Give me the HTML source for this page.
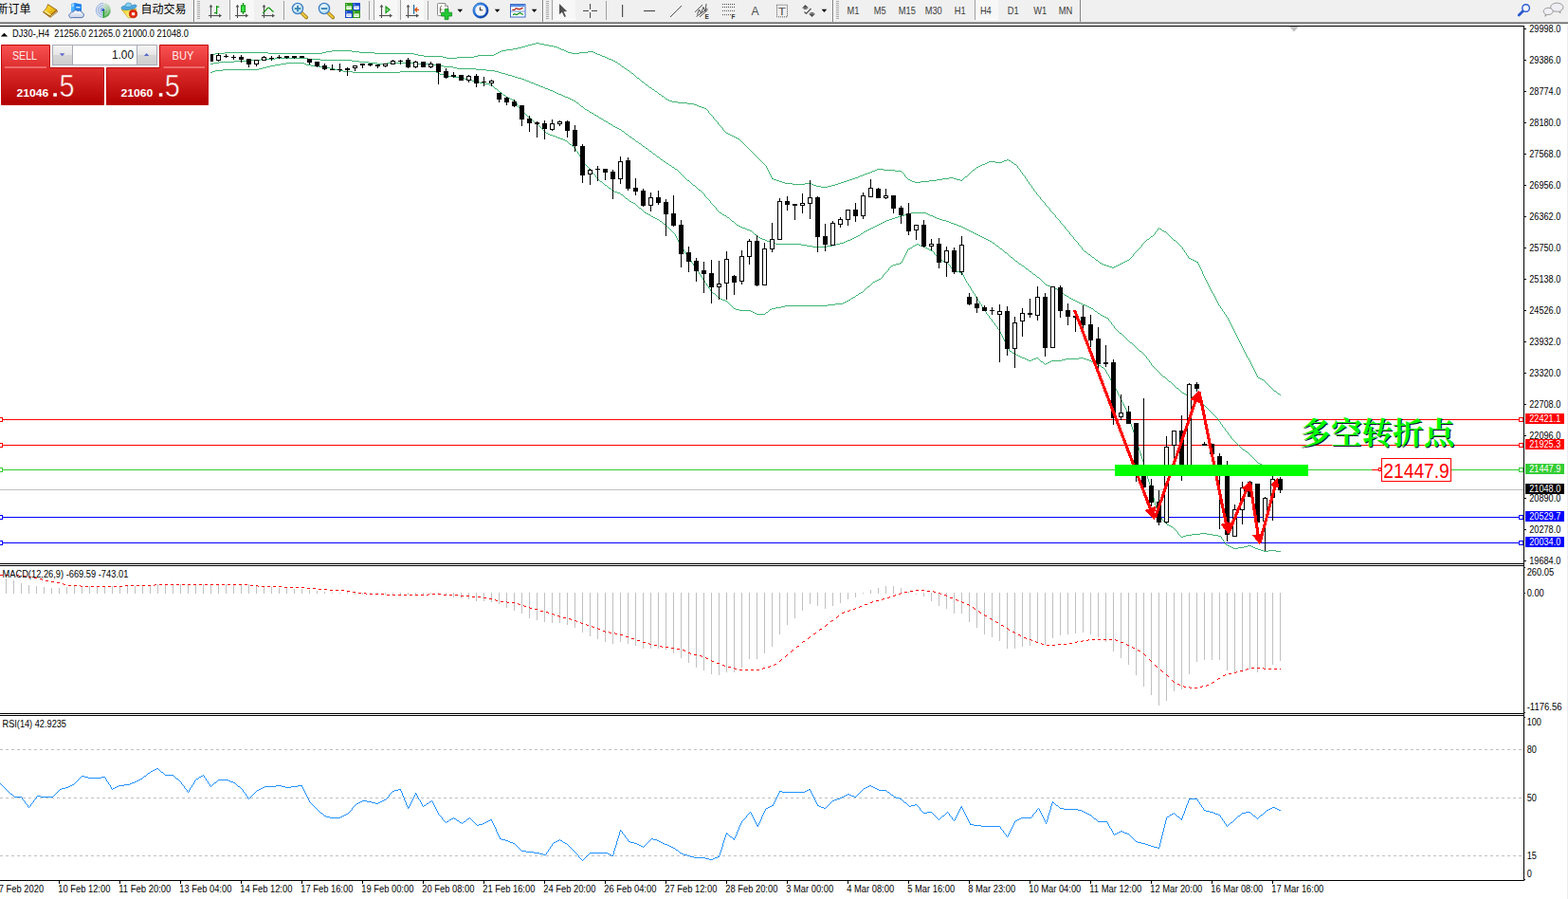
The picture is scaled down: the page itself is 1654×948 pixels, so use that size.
<!DOCTYPE html>
<html><head><meta charset="utf-8"><title>DJ30-,H4</title>
<style>
html,body{margin:0;padding:0;background:#fff;}
body{width:1654px;height:948px;overflow:hidden;position:relative;font-family:"Liberation Sans", sans-serif;}
svg{position:absolute;left:0;top:0;display:block}
svg text{font-family:"Liberation Sans", sans-serif;}
.ax{font-size:10.5px;fill:#000}
.axw{font-size:10.5px;fill:#fff}
.tf{font-size:10.2px;fill:#3c3c3c}
</style></head>
<body>

<svg width="1654" height="948" viewBox="0 0 1654 948">
<defs>
<linearGradient id="gr" gradientUnits="userSpaceOnUse" x1="0" y1="47" x2="0" y2="111"><stop offset="0" stop-color="#fa5252"/><stop offset="0.45" stop-color="#d92828"/><stop offset="1" stop-color="#b00000"/></linearGradient>
<linearGradient id="gbtn" x1="0" y1="0" x2="0" y2="1"><stop offset="0" stop-color="#f4f4f4"/><stop offset="0.48" stop-color="#e6e6e6"/><stop offset="0.52" stop-color="#d6d6d6"/><stop offset="1" stop-color="#cecece"/></linearGradient>
<pattern id="chk" width="2" height="2" patternUnits="userSpaceOnUse"><rect width="2" height="2" fill="#ffffff"/><rect width="1" height="1" fill="#f0f0f0"/><rect x="1" y="1" width="1" height="1" fill="#f0f0f0"/></pattern>
<radialGradient id="lens" cx="0.4" cy="0.35" r="0.7"><stop offset="0" stop-color="#f4fcff"/><stop offset="1" stop-color="#a8d8f0"/></radialGradient>
<linearGradient id="gold" x1="0" y1="0" x2="1" y2="1"><stop offset="0" stop-color="#ffe04a"/><stop offset="0.5" stop-color="#f2c21c"/><stop offset="1" stop-color="#c89214"/></linearGradient>
<linearGradient id="clk" x1="0" y1="0" x2="1" y2="1"><stop offset="0" stop-color="#5aaaf4"/><stop offset="0.5" stop-color="#1a68dc"/><stop offset="1" stop-color="#0a3c9c"/></linearGradient>
<linearGradient id="rad" x1="0" y1="0" x2="0.3" y2="1"><stop offset="0" stop-color="#c9dfcc" stop-opacity="0.7"/><stop offset="0.5" stop-color="#8cc48c" stop-opacity="0.8"/><stop offset="1" stop-color="#3aa63a" stop-opacity="0.95"/></linearGradient>
<linearGradient id="cld" x1="0" y1="0" x2="0" y2="1"><stop offset="0" stop-color="#ffffff"/><stop offset="1" stop-color="#c4d0e6"/></linearGradient>
<linearGradient id="ylw" x1="0" y1="0" x2="0.6" y2="1"><stop offset="0" stop-color="#f4cc28"/><stop offset="1" stop-color="#fff88c"/></linearGradient>
<clipPath id="cpMain"><rect x="0" y="28" width="1607" height="566"/></clipPath>
<clipPath id="cpChart"><rect x="222" y="28" width="1385" height="566"/></clipPath>
</defs>
<rect x="0" y="0" width="1654" height="948" fill="#fff"/>
<rect x="1653" y="25" width="1" height="923" fill="#ececf0"/>
<g id="toolbar">
<rect x="0" y="0" width="1654" height="23" fill="#f0f0f0"/>
<rect x="0" y="23" width="1654" height="1" fill="#a0a0a0"/>
<rect x="0" y="24" width="1654" height="1" fill="#696969"/>
<rect x="0" y="25" width="1654" height="2" fill="#ffffff"/>
<rect x="243" y="0" width="25" height="21" fill="url(#chk)" shape-rendering="crispEdges"/>
<rect x="242" y="0" width="1" height="21" fill="#a0a0a0"/>
<rect x="243" y="20" width="25" height="1" fill="#ffffff"/>
<rect x="395" y="0" width="24" height="21" fill="url(#chk)" shape-rendering="crispEdges"/>
<rect x="394" y="0" width="1" height="21" fill="#a0a0a0"/>
<rect x="395" y="20" width="24" height="1" fill="#ffffff"/>
<rect x="423" y="0" width="24" height="21" fill="url(#chk)" shape-rendering="crispEdges"/>
<rect x="422" y="0" width="1" height="21" fill="#a0a0a0"/>
<rect x="423" y="20" width="24" height="1" fill="#ffffff"/>
<rect x="583" y="0" width="24" height="21" fill="url(#chk)" shape-rendering="crispEdges"/>
<rect x="582" y="0" width="1" height="21" fill="#a0a0a0"/>
<rect x="583" y="20" width="24" height="1" fill="#ffffff"/>
<rect x="1029" y="0" width="24" height="21" fill="url(#chk)" shape-rendering="crispEdges"/>
<rect x="1028" y="0" width="1" height="21" fill="#a0a0a0"/>
<rect x="1029" y="20" width="24" height="1" fill="#ffffff"/>
<rect x="204" y="0" width="1" height="23" fill="#808080"/>
<rect x="205" y="0" width="1" height="23" fill="#ffffff"/>
<rect x="208" y="1" width="3" height="1" fill="#a8a8a8"/>
<rect x="208" y="3" width="3" height="1" fill="#a8a8a8"/>
<rect x="208" y="5" width="3" height="1" fill="#a8a8a8"/>
<rect x="208" y="7" width="3" height="1" fill="#a8a8a8"/>
<rect x="208" y="9" width="3" height="1" fill="#a8a8a8"/>
<rect x="208" y="11" width="3" height="1" fill="#a8a8a8"/>
<rect x="208" y="13" width="3" height="1" fill="#a8a8a8"/>
<rect x="208" y="15" width="3" height="1" fill="#a8a8a8"/>
<rect x="208" y="17" width="3" height="1" fill="#a8a8a8"/>
<rect x="208" y="19" width="3" height="1" fill="#a8a8a8"/>
<rect x="572" y="0" width="1" height="23" fill="#808080"/>
<rect x="573" y="0" width="1" height="23" fill="#ffffff"/>
<rect x="576" y="1" width="3" height="1" fill="#a8a8a8"/>
<rect x="576" y="3" width="3" height="1" fill="#a8a8a8"/>
<rect x="576" y="5" width="3" height="1" fill="#a8a8a8"/>
<rect x="576" y="7" width="3" height="1" fill="#a8a8a8"/>
<rect x="576" y="9" width="3" height="1" fill="#a8a8a8"/>
<rect x="576" y="11" width="3" height="1" fill="#a8a8a8"/>
<rect x="576" y="13" width="3" height="1" fill="#a8a8a8"/>
<rect x="576" y="15" width="3" height="1" fill="#a8a8a8"/>
<rect x="576" y="17" width="3" height="1" fill="#a8a8a8"/>
<rect x="576" y="19" width="3" height="1" fill="#a8a8a8"/>
<rect x="878" y="0" width="1" height="23" fill="#808080"/>
<rect x="879" y="0" width="1" height="23" fill="#ffffff"/>
<rect x="882" y="1" width="3" height="1" fill="#a8a8a8"/>
<rect x="882" y="3" width="3" height="1" fill="#a8a8a8"/>
<rect x="882" y="5" width="3" height="1" fill="#a8a8a8"/>
<rect x="882" y="7" width="3" height="1" fill="#a8a8a8"/>
<rect x="882" y="9" width="3" height="1" fill="#a8a8a8"/>
<rect x="882" y="11" width="3" height="1" fill="#a8a8a8"/>
<rect x="882" y="13" width="3" height="1" fill="#a8a8a8"/>
<rect x="882" y="15" width="3" height="1" fill="#a8a8a8"/>
<rect x="882" y="17" width="3" height="1" fill="#a8a8a8"/>
<rect x="882" y="19" width="3" height="1" fill="#a8a8a8"/>
<rect x="1139" y="0" width="1" height="23" fill="#808080"/>
<rect x="1140" y="0" width="1" height="23" fill="#ffffff"/>
<rect x="299" y="1" width="1" height="20" fill="#a0a0a0"/>
<rect x="389" y="1" width="1" height="20" fill="#a0a0a0"/>
<rect x="451" y="1" width="1" height="20" fill="#a0a0a0"/>
<rect x="639" y="1" width="1" height="20" fill="#a0a0a0"/>
<text x="-3.6" y="13.9" font-size="12" fill="#000" style="font-family:'Liberation Sans','Noto Sans CJK SC',sans-serif">新订单</text>
<text x="148.4" y="13.9" font-size="12" fill="#000" style="font-family:'Liberation Sans','Noto Sans CJK SC',sans-serif">自动交易</text>
<g><path d="M50.4,4.1 L60,10.3 L61,12.5 L53.1,18.8 L44.9,12.8 Q48.6,10 50.4,4.1 Z" fill="#96620e"/><path d="M50.8,5.2 L59.3,10.7 L52.7,16.1 L46.2,12.1 Q49.2,9.6 50.8,5.2 Z" fill="url(#gold)"/><path d="M46.3,12.4 L52.7,16.5 L54,15.4 L47.5,11.1 Z" fill="#fdeC90" opacity="0.9"/><path d="M53.2,17.5 L60.2,12" stroke="#f0e2b4" stroke-width="0.8" fill="none"/></g>
<g><polygon points="75,4.6 78.6,3 86,4.4 86,12 75,12" fill="#1f84f0"/><polygon points="75,4.6 78.6,3 78.6,12 75,12" fill="#4fb4ff"/><polygon points="75.6,4.9 78,3.9 78,6.5 75.6,7.5" fill="#bfe6ff" opacity="0.8"/><rect x="80.2" y="7" width="4.4" height="1.4" fill="#cfeaff"/><path d="M76.3,18.6 h9.6 a2.7,2.7 0 0 0 0.6,-5.3 a3,3 0 0 0 -4.6,-1.5 a2.6,2.6 0 0 0 -4.6,0.9 a2.6,2.6 0 0 0 -3.2,1.6 a2.3,2.3 0 0 0 2.2,4.3 z" fill="url(#cld)" stroke="#4666ae" stroke-width="0.9"/></g>
<g fill="none"><circle cx="108.9" cy="10.9" r="7.9" fill="#e4eaf3" stroke="none"/><path d="M108.9,3 A7.9,7.9 0 0 1 108.9,18.8 Z" fill="url(#rad)" stroke="none"/><g stroke="#5a84d6" opacity="0.6"><path d="M108.9,3.4 A7.5,7.5 0 0 0 108.9,18.4" stroke-width="1"/><path d="M108.9,5.7 A5.2,5.2 0 0 0 108.9,16.1" stroke-width="1.1"/><path d="M108.9,8 A2.9,2.9 0 0 0 108.9,13.8" stroke-width="1.1"/></g><g stroke="#f2f8f2" opacity="0.5"><path d="M108.9,3.4 A7.5,7.5 0 0 1 116.4,10.9" stroke-width="0.8"/><path d="M108.9,5.7 A5.2,5.2 0 0 1 114.1,10.9 A5.2,5.2 0 0 1 110,16" stroke-width="0.9"/><path d="M108.9,8 A2.9,2.9 0 0 1 111.8,10.9" stroke-width="0.9"/></g><circle cx="108.7" cy="10.5" r="1.6" fill="#2a58c8"/><rect x="108.7" y="11.2" width="1.3" height="7.5" fill="#18a018"/></g>
<g><path d="M128.3,10 L143.8,9.5 L142,14 L138.2,18.8 L135.3,18.8 Z" fill="url(#ylw)" stroke="#c89a10" stroke-width="0.7"/><path d="M128,8.6 C128,6.4 131,5.8 133,6.4 C136,7.6 139,6.2 141,5.2 C143,4.4 144.4,5.4 144,6.8 C143.4,8.6 139,10.2 134,10.4 C130.5,10.5 128,10 128,8.6 Z" fill="#4fa8e0" stroke="#2a86b6" stroke-width="0.7"/><path d="M132,7 C131.6,4.5 133.4,3 135.6,3 C137.8,3 139.4,4.2 139,6.2 C137.5,7.8 134,8 132,7 Z" fill="#86ccf2" stroke="#2a86b6" stroke-width="0.6"/><circle cx="140.5" cy="14.7" r="4.1" fill="#e42408" stroke="#b41800" stroke-width="0.7"/><rect x="138.9" y="13.2" width="3.3" height="3" fill="#fff"/></g>
<g stroke="#505050" stroke-width="1.1" fill="#505050"><line x1="222.5" y1="6" x2="222.5" y2="19"/><line x1="220.0" y1="16.5" x2="232.0" y2="16.5"/><polygon points="222.5,4.8 220.6,7.6 224.4,7.6" stroke="none"/><polygon points="234.0,16.5 231.0,14.6 231.0,18.4" stroke="none"/></g>
<g stroke="#0a960a" stroke-width="1.2" fill="none"><line x1="228.6" y1="6" x2="228.6" y2="15"/><line x1="228.6" y1="7.2" x2="231.2" y2="7.2"/><line x1="226" y1="13.6" x2="228.6" y2="13.6"/></g>
<g stroke="#505050" stroke-width="1.1" fill="#505050"><line x1="250.5" y1="6" x2="250.5" y2="19"/><line x1="248.0" y1="16.5" x2="260.0" y2="16.5"/><polygon points="250.5,4.8 248.6,7.6 252.4,7.6" stroke="none"/><polygon points="262.0,16.5 259.0,14.6 259.0,18.4" stroke="none"/></g>
<g><line x1="256.5" y1="3" x2="256.5" y2="15" stroke="#0a8a0a" stroke-width="1.2"/><rect x="254.4" y="5.8" width="4.2" height="6.8" fill="#38e048" stroke="#0a8a0a" stroke-width="0.9"/></g>
<g stroke="#505050" stroke-width="1.1" fill="#505050"><line x1="278.5" y1="6" x2="278.5" y2="19"/><line x1="276.0" y1="16.5" x2="288.0" y2="16.5"/><polygon points="278.5,4.8 276.6,7.6 280.4,7.6" stroke="none"/><polygon points="290.0,16.5 287.0,14.6 287.0,18.4" stroke="none"/></g>
<path d="M277.2,13.8 C280,12 281.5,8.2 283.3,8.2 C285,8.2 286.4,11.6 288.6,12.4" fill="none" stroke="#0a960a" stroke-width="1.3"/>
<g><line x1="317.8" y1="13.2" x2="323.2" y2="18.4" stroke="#9a7410" stroke-width="3.6" stroke-linecap="round"/><line x1="317.8" y1="13.2" x2="323.0" y2="18.2" stroke="#ecc83c" stroke-width="2.2" stroke-linecap="round"/><circle cx="314.0" cy="9" r="5.6" fill="url(#lens)" stroke="#3a7cc4" stroke-width="1.3"/><rect x="310.8" y="8.1" width="6.4" height="1.9" fill="#3a86b4"/>
<rect x="313.1" y="5.8" width="1.9" height="6.4" fill="#3a86b4"/>
</g>
<g><line x1="345.8" y1="13.2" x2="351.2" y2="18.4" stroke="#9a7410" stroke-width="3.6" stroke-linecap="round"/><line x1="345.8" y1="13.2" x2="351.0" y2="18.2" stroke="#ecc83c" stroke-width="2.2" stroke-linecap="round"/><circle cx="342.0" cy="9" r="5.6" fill="url(#lens)" stroke="#3a7cc4" stroke-width="1.3"/><rect x="338.8" y="8.1" width="6.4" height="1.9" fill="#3a86b4"/>
</g>
<rect x="364" y="3" width="8" height="8" fill="#2e9e1a"/><rect x="365.3" y="6.4" width="5.4" height="3.6" fill="#fff"/><rect x="366.3" y="7.6" width="3.4" height="0.9" fill="#8fd47a"/><rect x="365.2" y="4.2" width="1" height="1" fill="#fff" opacity="0.8"/>
<rect x="372" y="3" width="8" height="8" fill="#1a4ccc"/><rect x="373.3" y="6.4" width="5.4" height="3.6" fill="#fff"/><rect x="374.3" y="7.6" width="3.4" height="0.9" fill="#8aa8f0"/><rect x="373.2" y="4.2" width="1" height="1" fill="#fff" opacity="0.8"/>
<rect x="364" y="11" width="8" height="8" fill="#1a4ccc"/><rect x="365.3" y="14.4" width="5.4" height="3.6" fill="#fff"/><rect x="366.3" y="15.6" width="3.4" height="0.9" fill="#8aa8f0"/><rect x="365.2" y="12.2" width="1" height="1" fill="#fff" opacity="0.8"/>
<rect x="372" y="11" width="8" height="8" fill="#2e9e1a"/><rect x="373.3" y="14.4" width="5.4" height="3.6" fill="#fff"/><rect x="374.3" y="15.6" width="3.4" height="0.9" fill="#8fd47a"/><rect x="373.2" y="12.2" width="1" height="1" fill="#fff" opacity="0.8"/>
<g stroke="#505050" stroke-width="1.1" fill="#505050"><line x1="402.5" y1="6" x2="402.5" y2="19"/><line x1="400.0" y1="16.5" x2="412.0" y2="16.5"/><polygon points="402.5,4.8 400.6,7.6 404.4,7.6" stroke="none"/><polygon points="414.0,16.5 411.0,14.6 411.0,18.4" stroke="none"/></g>
<polygon points="407,7 407,13.6 411,10.3" fill="#8fe08f" stroke="#0a960a" stroke-width="1.1"/>
<g stroke="#505050" stroke-width="1.1" fill="#505050"><line x1="430.5" y1="6" x2="430.5" y2="19"/><line x1="428.0" y1="16.5" x2="440.0" y2="16.5"/><polygon points="430.5,4.8 428.6,7.6 432.4,7.6" stroke="none"/><polygon points="442.0,16.5 439.0,14.6 439.0,18.4" stroke="none"/></g>
<rect x="436" y="5" width="1.2" height="9.8" fill="#1a6aa0"/><path d="M442,10.3 L438,10.3 M440,8 L437.8,10.3 L440,12.6" stroke="#e04800" stroke-width="1.2" fill="none"/>
<g><path d="M461.5,4.5 a1,1 0 0 1 1,-1 h7 l3,3 v9 a1,1 0 0 1 -1,1 h-9 a1,1 0 0 1 -1,-1 z" fill="#fafafa" stroke="#808080" stroke-width="0.9"/><path d="M469.5,3.5 v3 h3" fill="#d8d8d8" stroke="#808080" stroke-width="0.7"/><path d="M466,6.5 c-1.4,0 -1.6,1 -1.6,2.2 v5" fill="none" stroke="#5a4a30" stroke-width="0.9"/><path d="M464,10 h2.4" stroke="#5a4a30" stroke-width="0.8"/><path d="M469.2,9.6 h3.8 v3.6 h3.6 v3.8 h-3.6 v3.6 h-3.8 v-3.6 h-3.6 v-3.8 h3.6 z" fill="#22c834" stroke="#0a8a14" stroke-width="0.8"/></g>
<polygon points="482.5,9.8 488.1,9.8 485.3,13" fill="#000"/>
<g><circle cx="507" cy="11" r="7" fill="#f4f6fa" stroke="url(#clk)" stroke-width="2.3"/><circle cx="507" cy="11" r="8.1" fill="none" stroke="#0c3c94" stroke-width="0.5"/><path d="M506.4,7.4 V10.8 H509.2" fill="none" stroke="#303030" stroke-width="1.1"/><g fill="#9aa4b8"><rect x="506.6" y="5" width="0.9" height="0.9"/><rect x="506.6" y="16" width="0.9" height="0.9"/><rect x="501.2" y="10.6" width="0.9" height="0.9"/><rect x="512" y="10.6" width="0.9" height="0.9"/></g></g>
<polygon points="521.8,9.8 527.4,9.8 524.6,13" fill="#000"/>
<g><rect x="538.5" y="4.5" width="15.5" height="13.5" fill="#fff" stroke="#3a6cc4" stroke-width="1"/><rect x="539" y="5" width="14.5" height="2.2" fill="#5a90e8"/><rect x="539" y="11.6" width="14.5" height="0.9" fill="#5a88d8"/><polyline points="540.3,10.4 542.6,10.4 544.6,8.6 546.6,9.6 548.6,9.6 551.6,8.4" fill="none" stroke="#b01808" stroke-width="1.2"/><polyline points="541,15.6 543,14.6 545,15.6 548.5,13.4 551.8,15.6" fill="none" stroke="#109018" stroke-width="1.2"/></g>
<polygon points="560.8,9.8 566.4,9.8 563.6,13" fill="#000"/>
<polygon points="590,4 590,15.2 592.9,12.8 595.4,18 597,17.3 594.6,12.2 598.2,12" fill="#505050"/>
<g fill="#505050"><rect x="615" y="10.9" width="6" height="1.1"/><rect x="624" y="10.9" width="6" height="1.1"/><rect x="622" y="4" width="1.1" height="6"/><rect x="622" y="13" width="1.1" height="6"/></g>
<rect x="656" y="5" width="1.2" height="13" fill="#505050"/>
<rect x="679" y="10.9" width="12" height="1.2" fill="#505050"/>
<line x1="707" y1="18" x2="719" y2="6" stroke="#505050" stroke-width="1"/>
<g stroke="#505050" stroke-width="1" fill="none"><line x1="733" y1="12.8" x2="741" y2="5"/><line x1="734.5" y1="17.5" x2="746.5" y2="9"/><line x1="738" y1="17.8" x2="746.5" y2="10.5"/><polyline points="735.5,15.5 737.5,10 739.5,14 742,7.5 744,12 745,4"/></g>
<text x="743.6" y="19.6" font-size="6.4" font-weight="bold" fill="#303030">E</text>
<line x1="762" y1="4.5" x2="775" y2="4.5" stroke="#505050" stroke-width="1" stroke-dasharray="1,1"/>
<line x1="762" y1="7.5" x2="775" y2="7.5" stroke="#505050" stroke-width="1" stroke-dasharray="1,1"/>
<line x1="762" y1="11.4" x2="775" y2="11.4" stroke="#505050" stroke-width="1" stroke-dasharray="1,1"/>
<line x1="762" y1="15.6" x2="771" y2="15.6" stroke="#505050" stroke-width="1" stroke-dasharray="1,1"/>
<text x="771.6" y="19.6" font-size="6.4" font-weight="bold" fill="#303030">F</text>
<text x="792.4" y="16" font-size="12.2" fill="#505050">A</text>
<rect x="819.5" y="5.2" width="11" height="12.6" fill="none" stroke="#505050" stroke-width="1" stroke-dasharray="1,1"/>
<text x="820.8" y="16" font-size="11.4" fill="#505050" textLength="8.2" lengthAdjust="spacingAndGlyphs">T</text>
<g fill="#505050"><polygon points="849.5,5 853,8.6 846,8.6"/><rect x="847.6" y="8.6" width="3.8" height="1.2"/><polygon points="856.5,18 860,14.4 853,14.4"/><rect x="854.6" y="13.2" width="3.8" height="1.2"/><path d="M848.5,12.5 l2,2 l5,-5.5" fill="none" stroke="#505050" stroke-width="1.2"/></g>
<polygon points="866.6,9.8 872.2,9.8 869.4,13" fill="#000"/>
<text x="893.6" y="14.9" class="tf" textLength="12.9" lengthAdjust="spacingAndGlyphs">M1</text>
<text x="921.7" y="14.9" class="tf" textLength="12.9" lengthAdjust="spacingAndGlyphs">M5</text>
<text x="947.8" y="14.9" class="tf" textLength="18.1" lengthAdjust="spacingAndGlyphs">M15</text>
<text x="975.7" y="14.9" class="tf" textLength="18.1" lengthAdjust="spacingAndGlyphs">M30</text>
<text x="1006.8" y="14.9" class="tf" textLength="11.9" lengthAdjust="spacingAndGlyphs">H1</text>
<text x="1033.9" y="14.9" class="tf" textLength="11.9" lengthAdjust="spacingAndGlyphs">H4</text>
<text x="1062.7" y="14.9" class="tf" textLength="11.9" lengthAdjust="spacingAndGlyphs">D1</text>
<text x="1090.2" y="14.9" class="tf" textLength="14.0" lengthAdjust="spacingAndGlyphs">W1</text>
<text x="1116.8" y="14.9" class="tf" textLength="14.5" lengthAdjust="spacingAndGlyphs">MN</text>
<g><line x1="1606.4" y1="11.8" x2="1602.2" y2="16" stroke="#2a5ad0" stroke-width="2.8" stroke-linecap="round"/><circle cx="1609.6" cy="8.5" r="3.8" fill="#f4f6ff" stroke="#2a5ad0" stroke-width="1.4"/></g>
<g stroke="#8c8c8c" stroke-width="0.9"><path d="M1642.3,3.2 c-3.8,0 -6.6,2 -6.6,4.5 c0,2.5 2.8,4.5 6.6,4.5 c0.8,0 1.4,-0.1 2,-0.2 l1.6,2 l-0.2,-2.4 c2,-0.8 3.2,-2.2 3.2,-3.9 c0,-2.5 -2.8,-4.5 -6.6,-4.5 z" fill="#eeeef4"/><path d="M1633.2,8.3 c2.8,0 5,1.6 5,3.6 c0,2 -2.2,3.6 -5,3.6 c-0.6,0 -1.2,-0.1 -1.7,-0.2 l-1.5,2 l0.2,-2.5 c-1.2,-0.7 -2,-1.7 -2,-2.9 c0,-2 2.2,-3.6 5,-3.6 z" fill="#f0f0f6"/></g>
</g>
<g shape-rendering="crispEdges">
<rect x="0" y="27" width="1608" height="1" fill="#000"/>
<rect x="1607" y="27" width="1" height="902" fill="#000"/>
<rect x="0" y="594" width="1608" height="1" fill="#000"/>
<rect x="0" y="596" width="1608" height="1" fill="#000"/>
<rect x="0" y="752" width="1608" height="1" fill="#000"/>
<rect x="0" y="754" width="1608" height="1" fill="#000"/>
<rect x="0" y="928" width="1608" height="1" fill="#000"/>
<polygon points="1360,28 1370,28 1365,33.5" fill="#c0c0c0" shape-rendering="auto"/>
<rect x="0" y="516" width="1607" height="1" fill="#c0c0c0"/>
<rect x="0" y="442" width="1607" height="1" fill="#ff0000"/>
<rect x="0" y="469" width="1607" height="1" fill="#ff0000"/>
<rect x="0" y="495" width="1607" height="1" fill="#32cd32"/>
<rect x="0" y="545" width="1607" height="1" fill="#0000ff"/>
<rect x="0" y="572" width="1607" height="1" fill="#0000ff"/>
<rect x="-1.5" y="440.5" width="4" height="4" fill="#fff" stroke="#ff0000" stroke-width="1"/>
<rect x="1602.5" y="440.5" width="4" height="4" fill="#fff" stroke="#ff0000" stroke-width="1"/>
<rect x="-1.5" y="467.5" width="4" height="4" fill="#fff" stroke="#ff0000" stroke-width="1"/>
<rect x="1602.5" y="467.5" width="4" height="4" fill="#fff" stroke="#ff0000" stroke-width="1"/>
<rect x="-1.5" y="493.5" width="4" height="4" fill="#fff" stroke="#32cd32" stroke-width="1"/>
<rect x="1602.5" y="493.5" width="4" height="4" fill="#fff" stroke="#32cd32" stroke-width="1"/>
<rect x="-1.5" y="543.5" width="4" height="4" fill="#fff" stroke="#0000ff" stroke-width="1"/>
<rect x="1602.5" y="543.5" width="4" height="4" fill="#fff" stroke="#0000ff" stroke-width="1"/>
<rect x="-1.5" y="570.5" width="4" height="4" fill="#fff" stroke="#0000ff" stroke-width="1"/>
<rect x="1602.5" y="570.5" width="4" height="4" fill="#fff" stroke="#0000ff" stroke-width="1"/>
</g>
<g fill="#3cb371" shape-rendering="crispEdges">
<path d="M565 45h4v1h-4zM561 46h4v1h-4zM569 46h5v1h-5zM557 47h4v1h-4zM574 47h5v1h-5zM554 48h3v1h-3zM579 48h5v1h-5zM550 49h4v1h-4zM584 49h4v1h-4zM546 50h4v1h-4zM588 50h2v1h-2zM541 51h5v1h-5zM590 51h2v1h-2zM534 52h7v1h-7zM592 52h3v1h-3zM350 53h21v1h-21zM529 53h5v1h-5zM595 53h2v1h-2zM344 54h6v1h-6zM371 54h8v1h-8zM527 54h2v1h-2zM597 54h2v1h-2zM620 54h6v1h-6zM237 55h46v1h-46zM340 55h4v1h-4zM379 55h16v1h-16zM525 55h2v1h-2zM599 55h4v1h-4zM611 55h9v1h-9zM626 55h2v1h-2zM227 56h10v1h-10zM283 56h57v1h-57zM395 56h42v1h-42zM523 56h2v1h-2zM603 56h8v1h-8zM628 56h2v1h-2zM222 57h5v1h-5zM437 57h4v1h-4zM521 57h2v1h-2zM630 57h3v1h-3zM441 58h6v1h-6zM504 58h17v1h-17zM633 58h2v1h-2zM447 59h20v1h-20zM500 59h4v1h-4zM635 59h3v1h-3zM467 60h4v1h-4zM482 60h18v1h-18zM638 60h2v1h-2zM471 61h11v1h-11zM640 61h2v1h-2zM642 62h3v1h-3zM645 63h2v1h-2zM647 64h2v1h-2zM649 65h2v1h-2zM651 66h1v1h-1zM652 67h2v1h-2zM654 68h1v1h-1zM655 69h1v1h-1zM656 70h2v1h-2zM658 71h1v1h-1zM659 72h2v1h-2zM661 73h1v1h-1zM662 74h2v1h-2zM664 75h1v1h-1zM665 76h1v1h-1zM666 77h2v1h-2zM668 78h1v1h-1zM669 79h1v1h-1zM670 80h1v1h-1zM671 81h1v1h-1zM672 82h2v1h-2zM674 83h1v1h-1zM675 84h1v1h-1zM676 85h1v1h-1zM677 86h2v1h-2zM679 87h1v1h-1zM680 88h1v1h-1zM681 89h2v1h-2zM683 90h1v1h-1zM684 91h1v1h-1zM685 92h2v1h-2zM687 93h1v1h-1zM688 94h2v1h-2zM690 95h1v1h-1zM691 96h2v1h-2zM693 97h1v1h-1zM694 98h1v1h-1zM695 99h2v1h-2zM697 100h1v1h-1zM698 101h2v1h-2zM700 102h1v1h-1zM701 103h1v1h-1zM702 104h2v1h-2zM704 105h2v1h-2zM706 106h3v1h-3zM709 107h6v1h-6zM715 108h10v1h-10zM725 109h7v1h-7zM732 110h3v1h-3zM735 111h2v1h-2zM737 112h3v1h-3zM740 113h3v1h-3zM743 114h2v1h-2zM745 115h1v1h-1zM746 116h1v1h-1zM747 117h1v1h-1zM747 118h1v1h-1zM748 119h1v1h-1zM749 120h1v1h-1zM750 121h1v1h-1zM751 122h1v1h-1zM752 123h1v1h-1zM752 124h1v1h-1zM753 125h1v1h-1zM754 126h1v1h-1zM755 127h1v1h-1zM756 128h1v1h-1zM757 129h1v1h-1zM757 130h1v1h-1zM758 131h1v1h-1zM759 132h1v1h-1zM760 133h1v1h-1zM761 134h1v1h-1zM762 135h1v1h-1zM762 136h1v1h-1zM763 137h1v1h-1zM764 138h1v1h-1zM765 139h1v1h-1zM766 140h2v1h-2zM768 141h2v1h-2zM770 142h2v1h-2zM772 143h2v1h-2zM774 144h2v1h-2zM776 145h2v1h-2zM778 146h2v1h-2zM780 147h1v1h-1zM781 148h1v1h-1zM782 149h1v1h-1zM783 150h1v1h-1zM784 151h1v1h-1zM785 152h1v1h-1zM786 153h1v1h-1zM787 154h1v1h-1zM788 155h1v1h-1zM789 156h1v1h-1zM790 157h1v1h-1zM791 158h1v1h-1zM792 159h1v1h-1zM793 160h1v1h-1zM794 161h1v1h-1zM795 162h1v1h-1zM796 163h1v1h-1zM797 164h1v1h-1zM798 165h1v1h-1zM799 166h1v1h-1zM800 167h1v1h-1zM801 168h1v1h-1zM1062 168h2v1h-2zM802 169h1v1h-1zM1059 169h3v1h-3zM1064 169h2v1h-2zM803 170h1v1h-1zM1043 170h7v1h-7zM1057 170h2v1h-2zM1066 170h1v1h-1zM804 171h1v1h-1zM1041 171h2v1h-2zM1050 171h7v1h-7zM1067 171h2v1h-2zM805 172h1v1h-1zM1039 172h2v1h-2zM1069 172h1v1h-1zM806 173h1v1h-1zM1036 173h3v1h-3zM1070 173h2v1h-2zM807 174h1v1h-1zM1034 174h2v1h-2zM1072 174h1v1h-1zM808 175h1v1h-1zM1032 175h2v1h-2zM1073 175h1v1h-1zM808 176h1v1h-1zM1030 176h2v1h-2zM1073 176h1v1h-1zM809 177h1v1h-1zM1029 177h1v1h-1zM1074 177h1v1h-1zM809 178h1v1h-1zM925 178h7v1h-7zM1028 178h1v1h-1zM1075 178h1v1h-1zM810 179h1v1h-1zM923 179h2v1h-2zM932 179h12v1h-12zM1026 179h2v1h-2zM1076 179h1v1h-1zM810 180h1v1h-1zM920 180h3v1h-3zM944 180h7v1h-7zM1025 180h1v1h-1zM1076 180h1v1h-1zM811 181h1v1h-1zM918 181h2v1h-2zM951 181h1v1h-1zM1024 181h1v1h-1zM1077 181h1v1h-1zM811 182h1v1h-1zM915 182h3v1h-3zM952 182h1v1h-1zM1023 182h1v1h-1zM1078 182h1v1h-1zM812 183h1v1h-1zM912 183h3v1h-3zM953 183h1v1h-1zM1022 183h1v1h-1zM1078 183h1v1h-1zM812 184h1v1h-1zM910 184h2v1h-2zM954 184h1v1h-1zM1021 184h1v1h-1zM1079 184h1v1h-1zM813 185h1v1h-1zM907 185h3v1h-3zM954 185h1v1h-1zM1020 185h1v1h-1zM1080 185h1v1h-1zM813 186h1v1h-1zM905 186h2v1h-2zM955 186h1v1h-1zM1018 186h2v1h-2zM1081 186h1v1h-1zM814 187h1v1h-1zM902 187h3v1h-3zM956 187h1v1h-1zM1001 187h5v1h-5zM1017 187h1v1h-1zM1081 187h1v1h-1zM814 188h2v1h-2zM899 188h3v1h-3zM957 188h1v1h-1zM994 188h7v1h-7zM1006 188h3v1h-3zM1016 188h1v1h-1zM1082 188h1v1h-1zM816 189h3v1h-3zM896 189h3v1h-3zM958 189h2v1h-2zM988 189h6v1h-6zM1009 189h4v1h-4zM1015 189h1v1h-1zM1083 189h1v1h-1zM819 190h3v1h-3zM893 190h3v1h-3zM960 190h2v1h-2zM980 190h8v1h-8zM1013 190h2v1h-2zM1083 190h1v1h-1zM822 191h3v1h-3zM890 191h3v1h-3zM962 191h3v1h-3zM971 191h9v1h-9zM1084 191h1v1h-1zM825 192h3v1h-3zM887 192h3v1h-3zM965 192h6v1h-6zM1085 192h1v1h-1zM828 193h8v1h-8zM849 193h7v1h-7zM884 193h3v1h-3zM1085 193h1v1h-1zM836 194h13v1h-13zM856 194h2v1h-2zM881 194h3v1h-3zM1086 194h1v1h-1zM858 195h3v1h-3zM877 195h4v1h-4zM1087 195h1v1h-1zM861 196h5v1h-5zM873 196h4v1h-4zM1088 196h1v1h-1zM866 197h7v1h-7zM1088 197h1v1h-1zM1089 198h1v1h-1zM1090 199h1v1h-1zM1090 200h1v1h-1zM1091 201h1v1h-1zM1092 202h1v1h-1zM1093 203h1v1h-1zM1093 204h1v1h-1zM1094 205h1v1h-1zM1095 206h1v1h-1zM1096 207h1v1h-1zM1097 208h1v1h-1zM1097 209h1v1h-1zM1098 210h1v1h-1zM1099 211h1v1h-1zM1100 212h1v1h-1zM1101 213h1v1h-1zM1102 214h1v1h-1zM1102 215h1v1h-1zM1103 216h1v1h-1zM1104 217h1v1h-1zM1105 218h1v1h-1zM1106 219h1v1h-1zM1107 220h1v1h-1zM1107 221h1v1h-1zM1108 222h1v1h-1zM1109 223h1v1h-1zM1110 224h1v1h-1zM1111 225h1v1h-1zM1112 226h1v1h-1zM1113 227h1v1h-1zM1113 228h1v1h-1zM1114 229h1v1h-1zM1115 230h1v1h-1zM1116 231h1v1h-1zM1117 232h1v1h-1zM1118 233h1v1h-1zM1118 234h1v1h-1zM1119 235h1v1h-1zM1120 236h1v1h-1zM1121 237h1v1h-1zM1122 238h1v1h-1zM1123 239h1v1h-1zM1123 240h1v1h-1zM1222 240h1v1h-1zM1124 241h1v1h-1zM1221 241h1v1h-1zM1223 241h2v1h-2zM1125 242h1v1h-1zM1221 242h1v1h-1zM1225 242h1v1h-1zM1126 243h1v1h-1zM1220 243h1v1h-1zM1226 243h2v1h-2zM1127 244h1v1h-1zM1219 244h1v1h-1zM1228 244h2v1h-2zM1128 245h1v1h-1zM1218 245h1v1h-1zM1230 245h1v1h-1zM1128 246h1v1h-1zM1218 246h1v1h-1zM1231 246h1v1h-1zM1129 247h1v1h-1zM1217 247h1v1h-1zM1232 247h1v1h-1zM1130 248h1v1h-1zM1216 248h1v1h-1zM1233 248h1v1h-1zM1131 249h1v1h-1zM1214 249h2v1h-2zM1234 249h1v1h-1zM1132 250h1v1h-1zM1213 250h1v1h-1zM1235 250h1v1h-1zM1132 251h1v1h-1zM1212 251h1v1h-1zM1236 251h1v1h-1zM1133 252h1v1h-1zM1210 252h2v1h-2zM1237 252h1v1h-1zM1134 253h1v1h-1zM1209 253h1v1h-1zM1238 253h2v1h-2zM1135 254h1v1h-1zM1208 254h1v1h-1zM1240 254h1v1h-1zM1136 255h1v1h-1zM1207 255h1v1h-1zM1241 255h1v1h-1zM1137 256h1v1h-1zM1206 256h1v1h-1zM1242 256h1v1h-1zM1137 257h1v1h-1zM1205 257h1v1h-1zM1243 257h1v1h-1zM1138 258h1v1h-1zM1204 258h1v1h-1zM1244 258h1v1h-1zM1139 259h1v1h-1zM1204 259h1v1h-1zM1245 259h1v1h-1zM1140 260h1v1h-1zM1203 260h1v1h-1zM1246 260h1v1h-1zM1141 261h1v1h-1zM1202 261h1v1h-1zM1247 261h1v1h-1zM1141 262h1v1h-1zM1201 262h1v1h-1zM1247 262h1v1h-1zM1142 263h1v1h-1zM1200 263h1v1h-1zM1248 263h1v1h-1zM1143 264h1v1h-1zM1199 264h1v1h-1zM1249 264h1v1h-1zM1144 265h2v1h-2zM1198 265h1v1h-1zM1249 265h1v1h-1zM1146 266h1v1h-1zM1197 266h1v1h-1zM1250 266h1v1h-1zM1147 267h1v1h-1zM1196 267h1v1h-1zM1251 267h1v1h-1zM1148 268h2v1h-2zM1195 268h1v1h-1zM1251 268h1v1h-1zM1150 269h1v1h-1zM1195 269h1v1h-1zM1252 269h1v1h-1zM1151 270h1v1h-1zM1194 270h1v1h-1zM1253 270h1v1h-1zM1152 271h2v1h-2zM1193 271h1v1h-1zM1253 271h1v1h-1zM1154 272h1v1h-1zM1192 272h1v1h-1zM1254 272h2v1h-2zM1155 273h1v1h-1zM1191 273h1v1h-1zM1256 273h2v1h-2zM1156 274h2v1h-2zM1189 274h2v1h-2zM1258 274h2v1h-2zM1158 275h1v1h-1zM1187 275h2v1h-2zM1260 275h2v1h-2zM1159 276h1v1h-1zM1185 276h2v1h-2zM1262 276h2v1h-2zM1160 277h2v1h-2zM1183 277h2v1h-2zM1263 277h1v1h-1zM1162 278h2v1h-2zM1181 278h2v1h-2zM1264 278h1v1h-1zM1164 279h3v1h-3zM1179 279h2v1h-2zM1264 279h1v1h-1zM1167 280h3v1h-3zM1177 280h2v1h-2zM1265 280h1v1h-1zM1170 281h3v1h-3zM1175 281h2v1h-2zM1265 281h1v1h-1zM1173 282h2v1h-2zM1266 282h1v1h-1zM1266 283h1v1h-1zM1267 284h1v1h-1zM1267 285h1v1h-1zM1268 286h1v1h-1zM1268 287h1v1h-1zM1268 288h1v1h-1zM1269 289h1v1h-1zM1269 290h1v1h-1zM1270 291h1v1h-1zM1270 292h1v1h-1zM1271 293h1v1h-1zM1271 294h1v1h-1zM1272 295h1v1h-1zM1272 296h1v1h-1zM1273 297h1v1h-1zM1273 298h1v1h-1zM1274 299h1v1h-1zM1274 300h1v1h-1zM1275 301h1v1h-1zM1275 302h1v1h-1zM1276 303h1v1h-1zM1276 304h1v1h-1zM1277 305h1v1h-1zM1277 306h1v1h-1zM1278 307h1v1h-1zM1278 308h1v1h-1zM1279 309h1v1h-1zM1280 310h1v1h-1zM1280 311h1v1h-1zM1281 312h1v1h-1zM1281 313h1v1h-1zM1282 314h1v1h-1zM1282 315h1v1h-1zM1283 316h1v1h-1zM1283 317h1v1h-1zM1284 318h1v1h-1zM1284 319h1v1h-1zM1285 320h1v1h-1zM1285 321h1v1h-1zM1286 322h1v1h-1zM1287 323h1v1h-1zM1287 324h1v1h-1zM1288 325h1v1h-1zM1289 326h1v1h-1zM1289 327h1v1h-1zM1290 328h1v1h-1zM1291 329h1v1h-1zM1291 330h1v1h-1zM1292 331h1v1h-1zM1293 332h1v1h-1zM1293 333h1v1h-1zM1294 334h1v1h-1zM1295 335h1v1h-1zM1295 336h1v1h-1zM1296 337h1v1h-1zM1296 338h1v1h-1zM1297 339h1v1h-1zM1297 340h1v1h-1zM1298 341h1v1h-1zM1298 342h1v1h-1zM1299 343h1v1h-1zM1299 344h1v1h-1zM1300 345h1v1h-1zM1300 346h1v1h-1zM1301 347h1v1h-1zM1301 348h1v1h-1zM1302 349h1v1h-1zM1302 350h1v1h-1zM1303 351h1v1h-1zM1303 352h1v1h-1zM1304 353h1v1h-1zM1304 354h1v1h-1zM1305 355h1v1h-1zM1305 356h1v1h-1zM1306 357h1v1h-1zM1306 358h1v1h-1zM1307 359h1v1h-1zM1307 360h1v1h-1zM1308 361h1v1h-1zM1308 362h1v1h-1zM1309 363h1v1h-1zM1309 364h1v1h-1zM1310 365h1v1h-1zM1310 366h1v1h-1zM1311 367h1v1h-1zM1311 368h1v1h-1zM1312 369h1v1h-1zM1312 370h1v1h-1zM1313 371h1v1h-1zM1313 372h1v1h-1zM1314 373h1v1h-1zM1314 374h1v1h-1zM1315 375h1v1h-1zM1315 376h1v1h-1zM1316 377h1v1h-1zM1317 378h1v1h-1zM1317 379h1v1h-1zM1318 380h1v1h-1zM1318 381h1v1h-1zM1319 382h1v1h-1zM1319 383h1v1h-1zM1320 384h1v1h-1zM1320 385h1v1h-1zM1321 386h1v1h-1zM1321 387h1v1h-1zM1322 388h1v1h-1zM1322 389h1v1h-1zM1323 390h1v1h-1zM1323 391h1v1h-1zM1324 392h1v1h-1zM1324 393h1v1h-1zM1325 394h1v1h-1zM1325 395h1v1h-1zM1326 396h1v1h-1zM1326 397h1v1h-1zM1327 398h2v1h-2zM1329 399h2v1h-2zM1331 400h2v1h-2zM1333 401h1v1h-1zM1334 402h1v1h-1zM1335 403h1v1h-1zM1336 404h1v1h-1zM1337 405h1v1h-1zM1338 406h1v1h-1zM1339 407h1v1h-1zM1340 408h1v1h-1zM1341 409h1v1h-1zM1342 410h1v1h-1zM1343 411h1v1h-1zM1344 412h2v1h-2zM1346 413h1v1h-1zM1347 414h1v1h-1zM1348 415h2v1h-2zM1350 416h1v1h-1z"/>
<path d="M290 61h35v1h-35zM275 62h15v1h-15zM325 62h13v1h-13zM265 63h10v1h-10zM338 63h33v1h-33zM247 64h18v1h-18zM371 64h8v1h-8zM231 65h16v1h-16zM379 65h10v1h-10zM225 66h6v1h-6zM389 66h9v1h-9zM408 66h31v1h-31zM222 67h3v1h-3zM398 67h10v1h-10zM439 67h14v1h-14zM453 68h11v1h-11zM464 69h4v1h-4zM468 70h10v1h-10zM478 71h4v1h-4zM482 72h20v1h-20zM502 73h11v1h-11zM513 74h9v1h-9zM522 75h4v1h-4zM526 76h3v1h-3zM529 77h4v1h-4zM533 78h3v1h-3zM536 79h4v1h-4zM540 80h3v1h-3zM543 81h3v1h-3zM546 82h4v1h-4zM550 83h3v1h-3zM553 84h2v1h-2zM555 85h3v1h-3zM558 86h2v1h-2zM560 87h3v1h-3zM563 88h2v1h-2zM565 89h3v1h-3zM568 90h2v1h-2zM570 91h3v1h-3zM573 92h2v1h-2zM575 93h3v1h-3zM578 94h2v1h-2zM580 95h3v1h-3zM583 96h2v1h-2zM585 97h2v1h-2zM587 98h2v1h-2zM589 99h3v1h-3zM592 100h2v1h-2zM594 101h2v1h-2zM596 102h3v1h-3zM599 103h2v1h-2zM601 104h2v1h-2zM603 105h2v1h-2zM605 106h2v1h-2zM607 107h1v1h-1zM608 108h2v1h-2zM610 109h1v1h-1zM611 110h1v1h-1zM612 111h1v1h-1zM613 112h2v1h-2zM615 113h1v1h-1zM616 114h1v1h-1zM617 115h2v1h-2zM619 116h2v1h-2zM621 117h1v1h-1zM622 118h2v1h-2zM624 119h2v1h-2zM626 120h1v1h-1zM627 121h2v1h-2zM629 122h2v1h-2zM631 123h1v1h-1zM632 124h2v1h-2zM634 125h2v1h-2zM636 126h1v1h-1zM637 127h2v1h-2zM639 128h2v1h-2zM641 129h1v1h-1zM642 130h2v1h-2zM644 131h2v1h-2zM646 132h1v1h-1zM647 133h2v1h-2zM649 134h2v1h-2zM651 135h2v1h-2zM653 136h2v1h-2zM655 137h1v1h-1zM656 138h2v1h-2zM658 139h1v1h-1zM659 140h1v1h-1zM660 141h2v1h-2zM662 142h1v1h-1zM663 143h1v1h-1zM664 144h2v1h-2zM666 145h1v1h-1zM667 146h2v1h-2zM669 147h1v1h-1zM670 148h1v1h-1zM671 149h2v1h-2zM673 150h1v1h-1zM674 151h2v1h-2zM676 152h1v1h-1zM677 153h1v1h-1zM678 154h2v1h-2zM680 155h1v1h-1zM681 156h2v1h-2zM683 157h1v1h-1zM684 158h1v1h-1zM685 159h2v1h-2zM687 160h1v1h-1zM688 161h1v1h-1zM689 162h2v1h-2zM691 163h1v1h-1zM692 164h1v1h-1zM693 165h2v1h-2zM695 166h1v1h-1zM696 167h1v1h-1zM697 168h2v1h-2zM699 169h1v1h-1zM700 170h2v1h-2zM702 171h1v1h-1zM703 172h2v1h-2zM705 173h1v1h-1zM706 174h2v1h-2zM708 175h1v1h-1zM709 176h2v1h-2zM711 177h1v1h-1zM712 178h2v1h-2zM714 179h1v1h-1zM715 180h1v1h-1zM716 181h1v1h-1zM717 182h1v1h-1zM718 183h1v1h-1zM719 184h1v1h-1zM720 185h1v1h-1zM721 186h1v1h-1zM722 187h1v1h-1zM723 188h1v1h-1zM724 189h1v1h-1zM725 190h2v1h-2zM727 191h1v1h-1zM728 192h1v1h-1zM729 193h1v1h-1zM730 194h1v1h-1zM731 195h2v1h-2zM733 196h1v1h-1zM734 197h1v1h-1zM735 198h1v1h-1zM736 199h1v1h-1zM737 200h2v1h-2zM739 201h1v1h-1zM740 202h1v1h-1zM741 203h1v1h-1zM742 204h1v1h-1zM743 205h1v1h-1zM743 206h1v1h-1zM744 207h1v1h-1zM745 208h1v1h-1zM746 209h1v1h-1zM747 210h1v1h-1zM748 211h1v1h-1zM749 212h1v1h-1zM749 213h1v1h-1zM750 214h1v1h-1zM751 215h1v1h-1zM752 216h1v1h-1zM753 217h1v1h-1zM754 218h1v1h-1zM755 219h1v1h-1zM755 220h1v1h-1zM756 221h1v1h-1zM757 222h1v1h-1zM758 223h1v1h-1zM759 224h2v1h-2zM961 224h16v1h-16zM761 225h1v1h-1zM957 225h4v1h-4zM977 225h2v1h-2zM762 226h2v1h-2zM954 226h3v1h-3zM979 226h2v1h-2zM764 227h2v1h-2zM950 227h4v1h-4zM981 227h3v1h-3zM766 228h1v1h-1zM947 228h3v1h-3zM984 228h2v1h-2zM767 229h2v1h-2zM944 229h3v1h-3zM986 229h2v1h-2zM769 230h1v1h-1zM941 230h3v1h-3zM988 230h3v1h-3zM770 231h1v1h-1zM938 231h3v1h-3zM991 231h3v1h-3zM771 232h1v1h-1zM935 232h3v1h-3zM994 232h4v1h-4zM772 233h2v1h-2zM933 233h2v1h-2zM998 233h3v1h-3zM774 234h1v1h-1zM931 234h2v1h-2zM1001 234h2v1h-2zM775 235h1v1h-1zM929 235h2v1h-2zM1003 235h3v1h-3zM776 236h1v1h-1zM927 236h2v1h-2zM1006 236h3v1h-3zM777 237h2v1h-2zM925 237h2v1h-2zM1009 237h2v1h-2zM779 238h2v1h-2zM923 238h2v1h-2zM1011 238h3v1h-3zM781 239h2v1h-2zM921 239h2v1h-2zM1014 239h2v1h-2zM783 240h3v1h-3zM919 240h2v1h-2zM1016 240h2v1h-2zM786 241h2v1h-2zM917 241h2v1h-2zM1018 241h2v1h-2zM788 242h3v1h-3zM915 242h2v1h-2zM1020 242h2v1h-2zM791 243h2v1h-2zM913 243h2v1h-2zM1022 243h2v1h-2zM793 244h1v1h-1zM911 244h2v1h-2zM1024 244h2v1h-2zM794 245h1v1h-1zM910 245h1v1h-1zM1026 245h2v1h-2zM795 246h1v1h-1zM908 246h2v1h-2zM1028 246h2v1h-2zM796 247h2v1h-2zM907 247h1v1h-1zM1030 247h2v1h-2zM798 248h1v1h-1zM905 248h2v1h-2zM1032 248h2v1h-2zM799 249h1v1h-1zM903 249h2v1h-2zM1034 249h2v1h-2zM800 250h2v1h-2zM901 250h2v1h-2zM1036 250h2v1h-2zM802 251h2v1h-2zM899 251h2v1h-2zM1038 251h2v1h-2zM804 252h3v1h-3zM897 252h2v1h-2zM1040 252h2v1h-2zM807 253h2v1h-2zM894 253h3v1h-3zM1042 253h2v1h-2zM809 254h3v1h-3zM892 254h2v1h-2zM1044 254h2v1h-2zM812 255h3v1h-3zM890 255h2v1h-2zM1046 255h1v1h-1zM815 256h3v1h-3zM886 256h4v1h-4zM1047 256h2v1h-2zM818 257h27v1h-27zM882 257h4v1h-4zM1049 257h1v1h-1zM845 258h6v1h-6zM878 258h4v1h-4zM1050 258h1v1h-1zM851 259h6v1h-6zM872 259h6v1h-6zM1051 259h2v1h-2zM857 260h15v1h-15zM1053 260h1v1h-1zM1054 261h1v1h-1zM1055 262h2v1h-2zM1057 263h1v1h-1zM1058 264h1v1h-1zM1059 265h1v1h-1zM1060 266h2v1h-2zM1062 267h1v1h-1zM1063 268h1v1h-1zM1064 269h1v1h-1zM1065 270h1v1h-1zM1066 271h2v1h-2zM1068 272h1v1h-1zM1069 273h1v1h-1zM1070 274h1v1h-1zM1071 275h2v1h-2zM1073 276h1v1h-1zM1074 277h1v1h-1zM1075 278h2v1h-2zM1077 279h1v1h-1zM1078 280h2v1h-2zM1080 281h1v1h-1zM1081 282h1v1h-1zM1082 283h2v1h-2zM1084 284h1v1h-1zM1085 285h1v1h-1zM1086 286h2v1h-2zM1088 287h1v1h-1zM1089 288h1v1h-1zM1090 289h2v1h-2zM1092 290h1v1h-1zM1093 291h1v1h-1zM1094 292h2v1h-2zM1096 293h1v1h-1zM1097 294h1v1h-1zM1098 295h1v1h-1zM1099 296h1v1h-1zM1100 297h1v1h-1zM1101 298h1v1h-1zM1102 299h1v1h-1zM1103 300h2v1h-2zM1105 301h3v1h-3zM1108 302h2v1h-2zM1110 303h3v1h-3zM1113 304h2v1h-2zM1115 305h1v1h-1zM1116 306h2v1h-2zM1118 307h1v1h-1zM1119 308h1v1h-1zM1120 309h2v1h-2zM1122 310h1v1h-1zM1123 311h2v1h-2zM1125 312h2v1h-2zM1127 313h1v1h-1zM1128 314h2v1h-2zM1130 315h2v1h-2zM1132 316h2v1h-2zM1134 317h2v1h-2zM1136 318h2v1h-2zM1138 319h2v1h-2zM1140 320h2v1h-2zM1142 321h3v1h-3zM1145 322h2v1h-2zM1147 323h2v1h-2zM1149 324h2v1h-2zM1151 325h2v1h-2zM1153 326h1v1h-1zM1154 327h1v1h-1zM1155 328h2v1h-2zM1157 329h1v1h-1zM1158 330h2v1h-2zM1160 331h1v1h-1zM1161 332h2v1h-2zM1163 333h2v1h-2zM1165 334h2v1h-2zM1167 335h2v1h-2zM1169 336h1v1h-1zM1169 337h1v1h-1zM1170 338h1v1h-1zM1171 339h1v1h-1zM1172 340h1v1h-1zM1172 341h1v1h-1zM1173 342h1v1h-1zM1174 343h1v1h-1zM1175 344h1v1h-1zM1175 345h1v1h-1zM1176 346h1v1h-1zM1177 347h1v1h-1zM1178 348h1v1h-1zM1179 349h1v1h-1zM1180 350h1v1h-1zM1181 351h2v1h-2zM1183 352h1v1h-1zM1184 353h1v1h-1zM1185 354h1v1h-1zM1186 355h1v1h-1zM1187 356h1v1h-1zM1188 357h1v1h-1zM1189 358h1v1h-1zM1190 359h1v1h-1zM1191 360h1v1h-1zM1192 361h2v1h-2zM1194 362h1v1h-1zM1195 363h1v1h-1zM1196 364h1v1h-1zM1197 365h1v1h-1zM1198 366h1v1h-1zM1199 367h1v1h-1zM1200 368h1v1h-1zM1201 369h1v1h-1zM1202 370h2v1h-2zM1204 371h1v1h-1zM1205 372h1v1h-1zM1206 373h1v1h-1zM1207 374h1v1h-1zM1208 375h1v1h-1zM1209 376h1v1h-1zM1209 377h1v1h-1zM1210 378h1v1h-1zM1211 379h1v1h-1zM1212 380h1v1h-1zM1212 381h1v1h-1zM1213 382h1v1h-1zM1214 383h1v1h-1zM1214 384h1v1h-1zM1215 385h1v1h-1zM1216 386h1v1h-1zM1217 387h1v1h-1zM1218 388h1v1h-1zM1219 389h1v1h-1zM1220 390h1v1h-1zM1221 391h1v1h-1zM1222 392h1v1h-1zM1223 393h1v1h-1zM1224 394h1v1h-1zM1225 395h1v1h-1zM1226 396h1v1h-1zM1227 397h2v1h-2zM1229 398h1v1h-1zM1230 399h1v1h-1zM1231 400h1v1h-1zM1232 401h1v1h-1zM1233 402h2v1h-2zM1235 403h1v1h-1zM1236 404h1v1h-1zM1237 405h1v1h-1zM1238 406h1v1h-1zM1239 407h1v1h-1zM1240 408h1v1h-1zM1241 409h2v1h-2zM1243 410h1v1h-1zM1244 411h1v1h-1zM1245 412h1v1h-1zM1246 413h1v1h-1zM1247 414h2v1h-2zM1249 415h2v1h-2zM1251 416h3v1h-3zM1254 417h3v1h-3zM1257 418h2v1h-2zM1259 419h2v1h-2zM1261 420h1v1h-1zM1262 421h2v1h-2zM1264 422h1v1h-1zM1265 423h1v1h-1zM1266 424h1v1h-1zM1267 425h2v1h-2zM1269 426h1v1h-1zM1270 427h1v1h-1zM1271 428h1v1h-1zM1272 429h1v1h-1zM1273 430h1v1h-1zM1274 431h1v1h-1zM1275 432h1v1h-1zM1276 433h1v1h-1zM1277 434h1v1h-1zM1278 435h1v1h-1zM1279 436h1v1h-1zM1280 437h1v1h-1zM1281 438h1v1h-1zM1282 439h1v1h-1zM1283 440h1v1h-1zM1284 441h1v1h-1zM1285 442h1v1h-1zM1285 443h1v1h-1zM1286 444h1v1h-1zM1287 445h1v1h-1zM1287 446h1v1h-1zM1288 447h1v1h-1zM1289 448h1v1h-1zM1289 449h1v1h-1zM1290 450h1v1h-1zM1291 451h1v1h-1zM1292 452h1v1h-1zM1292 453h1v1h-1zM1293 454h1v1h-1zM1294 455h1v1h-1zM1295 456h1v1h-1zM1295 457h1v1h-1zM1296 458h1v1h-1zM1297 459h1v1h-1zM1298 460h1v1h-1zM1298 461h1v1h-1zM1299 462h1v1h-1zM1300 463h1v1h-1zM1301 464h1v1h-1zM1302 465h1v1h-1zM1303 466h1v1h-1zM1304 467h1v1h-1zM1305 468h1v1h-1zM1306 469h1v1h-1zM1307 470h1v1h-1zM1308 471h1v1h-1zM1309 472h1v1h-1zM1310 473h1v1h-1zM1311 474h2v1h-2zM1313 475h1v1h-1zM1314 476h2v1h-2zM1316 477h1v1h-1zM1317 478h1v1h-1zM1318 479h1v1h-1zM1319 480h1v1h-1zM1320 481h1v1h-1zM1321 482h1v1h-1zM1322 483h1v1h-1zM1323 484h1v1h-1zM1324 485h1v1h-1zM1325 486h1v1h-1zM1326 487h1v1h-1zM1327 488h2v1h-2zM1329 489h2v1h-2zM1331 490h3v1h-3zM1334 491h2v1h-2zM1336 492h3v1h-3zM1339 493h2v1h-2zM1341 494h3v1h-3zM1344 495h3v1h-3zM1347 496h2v1h-2zM1349 497h2v1h-2z"/>
<path d="M302 66h19v1h-19zM296 67h6v1h-6zM321 67h2v1h-2zM290 68h6v1h-6zM323 68h5v1h-5zM285 69h5v1h-5zM328 69h8v1h-8zM281 70h4v1h-4zM336 70h7v1h-7zM277 71h4v1h-4zM343 71h5v1h-5zM273 72h4v1h-4zM348 72h5v1h-5zM235 73h38v1h-38zM353 73h5v1h-5zM227 74h8v1h-8zM358 74h4v1h-4zM224 75h3v1h-3zM362 75h10v1h-10zM422 75h38v1h-38zM222 76h2v1h-2zM372 76h50v1h-50zM460 76h2v1h-2zM462 77h2v1h-2zM464 78h4v1h-4zM468 79h4v1h-4zM472 80h7v1h-7zM479 81h7v1h-7zM486 82h4v1h-4zM490 83h4v1h-4zM494 84h4v1h-4zM498 85h4v1h-4zM502 86h4v1h-4zM506 87h5v1h-5zM511 88h5v1h-5zM516 89h3v1h-3zM519 90h1v1h-1zM520 91h1v1h-1zM521 92h1v1h-1zM522 93h2v1h-2zM524 94h1v1h-1zM525 95h1v1h-1zM526 96h1v1h-1zM527 97h2v1h-2zM529 98h1v1h-1zM530 99h1v1h-1zM531 100h2v1h-2zM533 101h1v1h-1zM534 102h2v1h-2zM536 103h2v1h-2zM538 104h2v1h-2zM540 105h2v1h-2zM542 106h2v1h-2zM544 107h1v1h-1zM544 108h1v1h-1zM545 109h1v1h-1zM545 110h1v1h-1zM546 111h1v1h-1zM546 112h1v1h-1zM547 113h1v1h-1zM548 114h1v1h-1zM549 115h1v1h-1zM550 116h1v1h-1zM551 117h1v1h-1zM552 118h1v1h-1zM553 119h1v1h-1zM554 120h1v1h-1zM555 121h1v1h-1zM556 122h1v1h-1zM557 123h2v1h-2zM559 124h1v1h-1zM560 125h1v1h-1zM561 126h1v1h-1zM562 127h1v1h-1zM563 128h1v1h-1zM564 129h1v1h-1zM565 130h2v1h-2zM567 131h1v1h-1zM568 132h1v1h-1zM569 133h1v1h-1zM570 134h1v1h-1zM571 135h1v1h-1zM572 136h1v1h-1zM573 137h1v1h-1zM574 138h1v1h-1zM575 139h1v1h-1zM576 140h2v1h-2zM578 141h2v1h-2zM580 142h3v1h-3zM583 143h3v1h-3zM586 144h2v1h-2zM588 145h3v1h-3zM591 146h3v1h-3zM594 147h2v1h-2zM596 148h2v1h-2zM598 149h1v1h-1zM599 150h1v1h-1zM600 151h1v1h-1zM601 152h2v1h-2zM603 153h1v1h-1zM604 154h1v1h-1zM605 155h1v1h-1zM606 156h1v1h-1zM607 157h1v1h-1zM607 158h1v1h-1zM608 159h1v1h-1zM609 160h1v1h-1zM609 161h1v1h-1zM610 162h1v1h-1zM611 163h1v1h-1zM611 164h1v1h-1zM612 165h1v1h-1zM613 166h1v1h-1zM613 167h1v1h-1zM614 168h1v1h-1zM615 169h1v1h-1zM615 170h1v1h-1zM616 171h1v1h-1zM616 172h1v1h-1zM617 173h1v1h-1zM618 174h1v1h-1zM619 175h1v1h-1zM620 176h1v1h-1zM621 177h1v1h-1zM621 178h1v1h-1zM622 179h1v1h-1zM623 180h1v1h-1zM624 181h1v1h-1zM625 182h1v1h-1zM626 183h1v1h-1zM627 184h1v1h-1zM628 185h1v1h-1zM628 186h1v1h-1zM629 187h1v1h-1zM630 188h1v1h-1zM631 189h1v1h-1zM632 190h1v1h-1zM633 191h2v1h-2zM635 192h1v1h-1zM636 193h1v1h-1zM637 194h1v1h-1zM638 195h2v1h-2zM640 196h1v1h-1zM641 197h1v1h-1zM642 198h2v1h-2zM644 199h1v1h-1zM645 200h1v1h-1zM646 201h2v1h-2zM648 202h3v1h-3zM651 203h3v1h-3zM654 204h1v1h-1zM655 205h2v1h-2zM657 206h1v1h-1zM658 207h1v1h-1zM659 208h1v1h-1zM660 209h2v1h-2zM662 210h1v1h-1zM663 211h1v1h-1zM664 212h2v1h-2zM666 213h2v1h-2zM668 214h2v1h-2zM670 215h1v1h-1zM671 216h1v1h-1zM672 217h1v1h-1zM673 218h1v1h-1zM674 219h2v1h-2zM676 220h1v1h-1zM677 221h1v1h-1zM678 222h1v1h-1zM679 223h1v1h-1zM680 224h2v1h-2zM682 225h2v1h-2zM684 226h2v1h-2zM686 227h1v1h-1zM687 228h2v1h-2zM689 229h2v1h-2zM691 230h2v1h-2zM693 231h2v1h-2zM695 232h1v1h-1zM696 233h2v1h-2zM698 234h1v1h-1zM699 235h1v1h-1zM700 236h2v1h-2zM702 237h1v1h-1zM703 238h1v1h-1zM704 239h1v1h-1zM705 240h1v1h-1zM706 241h1v1h-1zM707 242h1v1h-1zM708 243h1v1h-1zM709 244h1v1h-1zM710 245h1v1h-1zM711 246h1v1h-1zM712 247h1v1h-1zM712 248h1v1h-1zM713 249h1v1h-1zM713 250h1v1h-1zM714 251h1v1h-1zM714 252h1v1h-1zM715 253h1v1h-1zM715 254h1v1h-1zM716 255h1v1h-1zM717 256h1v1h-1zM717 257h1v1h-1zM967 257h2v1h-2zM718 258h1v1h-1zM965 258h2v1h-2zM969 258h2v1h-2zM718 259h1v1h-1zM963 259h2v1h-2zM971 259h3v1h-3zM719 260h1v1h-1zM962 260h1v1h-1zM974 260h2v1h-2zM720 261h1v1h-1zM960 261h2v1h-2zM976 261h2v1h-2zM720 262h1v1h-1zM958 262h2v1h-2zM978 262h2v1h-2zM721 263h1v1h-1zM957 263h1v1h-1zM980 263h2v1h-2zM721 264h1v1h-1zM957 264h1v1h-1zM982 264h2v1h-2zM722 265h1v1h-1zM956 265h1v1h-1zM984 265h1v1h-1zM722 266h1v1h-1zM956 266h1v1h-1zM985 266h1v1h-1zM723 267h1v1h-1zM955 267h1v1h-1zM985 267h1v1h-1zM724 268h1v1h-1zM955 268h1v1h-1zM986 268h1v1h-1zM724 269h1v1h-1zM954 269h1v1h-1zM987 269h1v1h-1zM725 270h1v1h-1zM954 270h1v1h-1zM988 270h1v1h-1zM726 271h1v1h-1zM953 271h1v1h-1zM989 271h1v1h-1zM727 272h1v1h-1zM953 272h1v1h-1zM990 272h2v1h-2zM727 273h1v1h-1zM952 273h1v1h-1zM992 273h1v1h-1zM728 274h1v1h-1zM952 274h1v1h-1zM993 274h1v1h-1zM729 275h1v1h-1zM951 275h1v1h-1zM994 275h2v1h-2zM729 276h1v1h-1zM951 276h1v1h-1zM996 276h2v1h-2zM730 277h1v1h-1zM949 277h2v1h-2zM998 277h2v1h-2zM731 278h1v1h-1zM945 278h4v1h-4zM1000 278h1v1h-1zM731 279h1v1h-1zM942 279h3v1h-3zM1001 279h1v1h-1zM732 280h1v1h-1zM940 280h2v1h-2zM1002 280h1v1h-1zM733 281h1v1h-1zM939 281h1v1h-1zM1002 281h1v1h-1zM733 282h1v1h-1zM938 282h1v1h-1zM1003 282h1v1h-1zM734 283h1v1h-1zM937 283h1v1h-1zM1004 283h1v1h-1zM735 284h1v1h-1zM937 284h1v1h-1zM1005 284h2v1h-2zM735 285h1v1h-1zM936 285h1v1h-1zM1007 285h2v1h-2zM736 286h1v1h-1zM935 286h1v1h-1zM1009 286h3v1h-3zM737 287h1v1h-1zM934 287h1v1h-1zM1012 287h3v1h-3zM737 288h1v1h-1zM933 288h1v1h-1zM1015 288h1v1h-1zM738 289h1v1h-1zM932 289h1v1h-1zM1015 289h1v1h-1zM739 290h1v1h-1zM931 290h1v1h-1zM1016 290h1v1h-1zM739 291h1v1h-1zM931 291h1v1h-1zM1016 291h1v1h-1zM740 292h1v1h-1zM930 292h1v1h-1zM1017 292h1v1h-1zM741 293h1v1h-1zM929 293h1v1h-1zM1017 293h1v1h-1zM741 294h1v1h-1zM927 294h2v1h-2zM1018 294h1v1h-1zM742 295h1v1h-1zM925 295h2v1h-2zM1018 295h1v1h-1zM743 296h1v1h-1zM923 296h2v1h-2zM1019 296h1v1h-1zM743 297h1v1h-1zM921 297h2v1h-2zM1019 297h1v1h-1zM744 298h1v1h-1zM920 298h1v1h-1zM1020 298h1v1h-1zM745 299h1v1h-1zM919 299h1v1h-1zM1021 299h1v1h-1zM745 300h1v1h-1zM918 300h1v1h-1zM1021 300h1v1h-1zM746 301h1v1h-1zM917 301h1v1h-1zM1022 301h1v1h-1zM747 302h1v1h-1zM915 302h2v1h-2zM1023 302h1v1h-1zM747 303h1v1h-1zM914 303h1v1h-1zM1023 303h1v1h-1zM748 304h1v1h-1zM913 304h1v1h-1zM1024 304h1v1h-1zM749 305h1v1h-1zM912 305h1v1h-1zM1024 305h1v1h-1zM749 306h1v1h-1zM911 306h1v1h-1zM1025 306h1v1h-1zM750 307h1v1h-1zM910 307h1v1h-1zM1026 307h1v1h-1zM751 308h1v1h-1zM908 308h2v1h-2zM1026 308h1v1h-1zM752 309h2v1h-2zM906 309h2v1h-2zM1027 309h1v1h-1zM754 310h1v1h-1zM905 310h1v1h-1zM1028 310h1v1h-1zM755 311h1v1h-1zM903 311h2v1h-2zM1028 311h1v1h-1zM756 312h1v1h-1zM902 312h1v1h-1zM1029 312h1v1h-1zM757 313h2v1h-2zM900 313h2v1h-2zM1029 313h1v1h-1zM759 314h1v1h-1zM898 314h2v1h-2zM1030 314h1v1h-1zM760 315h2v1h-2zM897 315h1v1h-1zM1031 315h1v1h-1zM762 316h3v1h-3zM895 316h2v1h-2zM1031 316h1v1h-1zM765 317h2v1h-2zM893 317h2v1h-2zM1032 317h1v1h-1zM767 318h1v1h-1zM891 318h2v1h-2zM1033 318h1v1h-1zM768 319h1v1h-1zM889 319h2v1h-2zM1033 319h1v1h-1zM769 320h1v1h-1zM881 320h8v1h-8zM1034 320h1v1h-1zM770 321h1v1h-1zM873 321h8v1h-8zM1035 321h1v1h-1zM771 322h1v1h-1zM828 322h45v1h-45zM1035 322h1v1h-1zM772 323h1v1h-1zM824 323h4v1h-4zM1036 323h1v1h-1zM773 324h1v1h-1zM818 324h6v1h-6zM1036 324h1v1h-1zM774 325h2v1h-2zM814 325h4v1h-4zM1037 325h1v1h-1zM776 326h4v1h-4zM812 326h2v1h-2zM1038 326h1v1h-1zM780 327h12v1h-12zM811 327h1v1h-1zM1038 327h1v1h-1zM792 328h2v1h-2zM810 328h1v1h-1zM1039 328h1v1h-1zM794 329h2v1h-2zM808 329h2v1h-2zM1040 329h1v1h-1zM796 330h2v1h-2zM807 330h1v1h-1zM1040 330h1v1h-1zM798 331h9v1h-9zM1041 331h1v1h-1zM1042 332h1v1h-1zM1043 333h1v1h-1zM1043 334h1v1h-1zM1044 335h1v1h-1zM1045 336h1v1h-1zM1046 337h1v1h-1zM1046 338h1v1h-1zM1047 339h1v1h-1zM1048 340h1v1h-1zM1049 341h1v1h-1zM1049 342h1v1h-1zM1050 343h1v1h-1zM1051 344h1v1h-1zM1052 345h1v1h-1zM1052 346h1v1h-1zM1053 347h1v1h-1zM1054 348h1v1h-1zM1054 349h1v1h-1zM1055 350h1v1h-1zM1055 351h1v1h-1zM1056 352h1v1h-1zM1056 353h1v1h-1zM1057 354h1v1h-1zM1057 355h1v1h-1zM1058 356h1v1h-1zM1058 357h1v1h-1zM1059 358h1v1h-1zM1059 359h1v1h-1zM1060 360h1v1h-1zM1060 361h1v1h-1zM1061 362h1v1h-1zM1061 363h1v1h-1zM1062 364h1v1h-1zM1062 365h1v1h-1zM1063 366h1v1h-1zM1063 367h1v1h-1zM1064 368h1v1h-1zM1064 369h1v1h-1zM1065 370h2v1h-2zM1067 371h1v1h-1zM1068 372h2v1h-2zM1070 373h2v1h-2zM1072 374h2v1h-2zM1074 375h2v1h-2zM1076 376h2v1h-2zM1078 377h3v1h-3zM1093 377h2v1h-2zM1138 377h5v1h-5zM1081 378h2v1h-2zM1090 378h3v1h-3zM1095 378h1v1h-1zM1124 378h14v1h-14zM1143 378h3v1h-3zM1083 379h2v1h-2zM1088 379h2v1h-2zM1096 379h1v1h-1zM1120 379h4v1h-4zM1146 379h3v1h-3zM1085 380h3v1h-3zM1097 380h1v1h-1zM1109 380h11v1h-11zM1149 380h2v1h-2zM1098 381h2v1h-2zM1107 381h2v1h-2zM1151 381h2v1h-2zM1100 382h1v1h-1zM1105 382h2v1h-2zM1153 382h2v1h-2zM1101 383h1v1h-1zM1103 383h2v1h-2zM1155 383h2v1h-2zM1102 384h1v1h-1zM1157 384h2v1h-2zM1159 385h2v1h-2zM1161 386h1v1h-1zM1162 387h2v1h-2zM1164 388h1v1h-1zM1165 389h1v1h-1zM1166 390h1v1h-1zM1166 391h1v1h-1zM1167 392h1v1h-1zM1167 393h1v1h-1zM1168 394h1v1h-1zM1169 395h1v1h-1zM1169 396h1v1h-1zM1170 397h1v1h-1zM1170 398h1v1h-1zM1171 399h1v1h-1zM1171 400h1v1h-1zM1172 401h1v1h-1zM1173 402h1v1h-1zM1173 403h1v1h-1zM1174 404h1v1h-1zM1174 405h1v1h-1zM1175 406h1v1h-1zM1175 407h1v1h-1zM1176 408h1v1h-1zM1176 409h1v1h-1zM1177 410h1v1h-1zM1177 411h1v1h-1zM1178 412h1v1h-1zM1178 413h1v1h-1zM1179 414h1v1h-1zM1179 415h1v1h-1zM1180 416h1v1h-1zM1180 417h1v1h-1zM1181 418h1v1h-1zM1181 419h1v1h-1zM1182 420h1v1h-1zM1182 421h1v1h-1zM1183 422h1v1h-1zM1183 423h1v1h-1zM1184 424h1v1h-1zM1184 425h1v1h-1zM1185 426h1v1h-1zM1185 427h1v1h-1zM1186 428h1v1h-1zM1186 429h1v1h-1zM1187 430h1v1h-1zM1187 431h1v1h-1zM1188 432h1v1h-1zM1188 433h1v1h-1zM1188 434h1v1h-1zM1189 435h1v1h-1zM1189 436h1v1h-1zM1189 437h1v1h-1zM1190 438h1v1h-1zM1190 439h1v1h-1zM1190 440h1v1h-1zM1191 441h1v1h-1zM1191 442h1v1h-1zM1191 443h1v1h-1zM1192 444h1v1h-1zM1192 445h1v1h-1zM1192 446h1v1h-1zM1193 447h1v1h-1zM1193 448h1v1h-1zM1193 449h1v1h-1zM1194 450h1v1h-1zM1194 451h1v1h-1zM1194 452h1v1h-1zM1195 453h1v1h-1zM1195 454h1v1h-1zM1195 455h1v1h-1zM1196 456h1v1h-1zM1196 457h1v1h-1zM1196 458h1v1h-1zM1196 459h1v1h-1zM1197 460h1v1h-1zM1197 461h1v1h-1zM1197 462h1v1h-1zM1198 463h1v1h-1zM1198 464h1v1h-1zM1198 465h1v1h-1zM1199 466h1v1h-1zM1199 467h1v1h-1zM1199 468h1v1h-1zM1200 469h1v1h-1zM1200 470h1v1h-1zM1200 471h1v1h-1zM1201 472h1v1h-1zM1201 473h1v1h-1zM1201 474h1v1h-1zM1202 475h1v1h-1zM1202 476h1v1h-1zM1202 477h1v1h-1zM1203 478h1v1h-1zM1203 479h1v1h-1zM1203 480h1v1h-1zM1204 481h1v1h-1zM1204 482h1v1h-1zM1204 483h1v1h-1zM1205 484h1v1h-1zM1205 485h1v1h-1zM1205 486h1v1h-1zM1206 487h1v1h-1zM1206 488h1v1h-1zM1206 489h1v1h-1zM1207 490h1v1h-1zM1207 491h1v1h-1zM1207 492h1v1h-1zM1207 493h1v1h-1zM1208 494h1v1h-1zM1208 495h1v1h-1zM1208 496h1v1h-1zM1208 497h1v1h-1zM1209 498h1v1h-1zM1209 499h1v1h-1zM1209 500h1v1h-1zM1209 501h1v1h-1zM1210 502h1v1h-1zM1210 503h1v1h-1zM1210 504h1v1h-1zM1211 505h1v1h-1zM1211 506h1v1h-1zM1211 507h1v1h-1zM1212 508h1v1h-1zM1212 509h1v1h-1zM1212 510h1v1h-1zM1213 511h1v1h-1zM1213 512h1v1h-1zM1213 513h1v1h-1zM1214 514h1v1h-1zM1214 515h1v1h-1zM1214 516h1v1h-1zM1215 517h1v1h-1zM1215 518h1v1h-1zM1215 519h1v1h-1zM1215 520h1v1h-1zM1216 521h1v1h-1zM1216 522h1v1h-1zM1216 523h1v1h-1zM1216 524h1v1h-1zM1217 525h1v1h-1zM1217 526h1v1h-1zM1217 527h1v1h-1zM1217 528h1v1h-1zM1218 529h1v1h-1zM1218 530h1v1h-1zM1218 531h1v1h-1zM1218 532h1v1h-1zM1219 533h1v1h-1zM1219 534h1v1h-1zM1219 535h1v1h-1zM1220 536h1v1h-1zM1220 537h1v1h-1zM1221 538h1v1h-1zM1221 539h1v1h-1zM1222 540h1v1h-1zM1222 541h1v1h-1zM1223 542h1v1h-1zM1223 543h1v1h-1zM1224 544h1v1h-1zM1224 545h1v1h-1zM1225 546h1v1h-1zM1225 547h1v1h-1zM1226 548h1v1h-1zM1227 549h1v1h-1zM1228 550h1v1h-1zM1229 551h1v1h-1zM1230 552h1v1h-1zM1231 553h2v1h-2zM1233 554h2v1h-2zM1235 555h2v1h-2zM1237 556h1v1h-1zM1238 557h1v1h-1zM1239 558h1v1h-1zM1240 559h1v1h-1zM1241 560h1v1h-1zM1242 561h1v1h-1zM1242 562h1v1h-1zM1266 562h7v1h-7zM1243 563h1v1h-1zM1257 563h9v1h-9zM1273 563h6v1h-6zM1244 564h1v1h-1zM1251 564h6v1h-6zM1279 564h6v1h-6zM1245 565h1v1h-1zM1248 565h3v1h-3zM1285 565h3v1h-3zM1246 566h2v1h-2zM1288 566h1v1h-1zM1288 567h1v1h-1zM1289 568h1v1h-1zM1290 569h1v1h-1zM1290 570h1v1h-1zM1291 571h1v1h-1zM1292 572h1v1h-1zM1292 573h1v1h-1zM1293 574h2v1h-2zM1295 575h2v1h-2zM1316 575h4v1h-4zM1297 576h2v1h-2zM1312 576h4v1h-4zM1320 576h2v1h-2zM1299 577h2v1h-2zM1306 577h6v1h-6zM1322 577h2v1h-2zM1301 578h5v1h-5zM1324 578h3v1h-3zM1327 579h3v1h-3zM1330 580h3v1h-3zM1338 580h8v1h-8zM1333 581h5v1h-5zM1346 581h5v1h-5z"/>
</g>
<g clip-path="url(#cpChart)" shape-rendering="crispEdges">
<rect x="222" y="57" width="1" height="8" fill="#000"/>
<rect x="220" y="57" width="5" height="8" fill="#000"/>
<rect x="230" y="56" width="1" height="9" fill="#000"/>
<rect x="228.5" y="58.5" width="4" height="5" fill="#fff" stroke="#000" stroke-width="1"/>
<rect x="238" y="57" width="1" height="4" fill="#000"/>
<rect x="236" y="59" width="5" height="1" fill="#000"/>
<rect x="246" y="58" width="1" height="5" fill="#000"/>
<rect x="244" y="60" width="5" height="1" fill="#000"/>
<rect x="254" y="58" width="1" height="8" fill="#000"/>
<rect x="252" y="60" width="5" height="3" fill="#000"/>
<rect x="262" y="62" width="1" height="9" fill="#000"/>
<rect x="260" y="62" width="5" height="6" fill="#000"/>
<rect x="270" y="63" width="1" height="7" fill="#000"/>
<rect x="268.5" y="63.5" width="4" height="4" fill="#fff" stroke="#000" stroke-width="1"/>
<rect x="278" y="59" width="1" height="5" fill="#000"/>
<rect x="276.5" y="60.5" width="4" height="3" fill="#fff" stroke="#000" stroke-width="1"/>
<rect x="286" y="59" width="1" height="5" fill="#000"/>
<rect x="284" y="61" width="5" height="1" fill="#000"/>
<rect x="294" y="58" width="1" height="4" fill="#000"/>
<rect x="292" y="60" width="5" height="1" fill="#000"/>
<rect x="302" y="59" width="1" height="3" fill="#000"/>
<rect x="300" y="59" width="5" height="2" fill="#000"/>
<rect x="310" y="59" width="1" height="3" fill="#000"/>
<rect x="308" y="59" width="5" height="2" fill="#000"/>
<rect x="318" y="59" width="1" height="2" fill="#000"/>
<rect x="316" y="59" width="5" height="2" fill="#000"/>
<rect x="326" y="62" width="1" height="6" fill="#000"/>
<rect x="324" y="62" width="5" height="4" fill="#000"/>
<rect x="334" y="65" width="1" height="6" fill="#000"/>
<rect x="332" y="65" width="5" height="5" fill="#000"/>
<rect x="342" y="67" width="1" height="7" fill="#000"/>
<rect x="340" y="69" width="5" height="4" fill="#000"/>
<rect x="350" y="68" width="1" height="6" fill="#000"/>
<rect x="348" y="73" width="5" height="1" fill="#000"/>
<rect x="358" y="67" width="1" height="9" fill="#000"/>
<rect x="356" y="73" width="5" height="1" fill="#000"/>
<rect x="366" y="71" width="1" height="9" fill="#000"/>
<rect x="364" y="72" width="5" height="2" fill="#000"/>
<rect x="374" y="69" width="1" height="6" fill="#000"/>
<rect x="372.5" y="69.5" width="4" height="2" fill="#fff" stroke="#000" stroke-width="1"/>
<rect x="382" y="67" width="1" height="5" fill="#000"/>
<rect x="380" y="67" width="5" height="2" fill="#000"/>
<rect x="390" y="67" width="1" height="3" fill="#000"/>
<rect x="388" y="67" width="5" height="2" fill="#000"/>
<rect x="398" y="68" width="1" height="4" fill="#000"/>
<rect x="396" y="68" width="5" height="2" fill="#000"/>
<rect x="406" y="67" width="1" height="4" fill="#000"/>
<rect x="404.5" y="67.5" width="4" height="2" fill="#fff" stroke="#000" stroke-width="1"/>
<rect x="414" y="63" width="1" height="5" fill="#000"/>
<rect x="412.5" y="64.5" width="4" height="3" fill="#fff" stroke="#000" stroke-width="1"/>
<rect x="422" y="63" width="1" height="5" fill="#000"/>
<rect x="420" y="64" width="5" height="1" fill="#000"/>
<rect x="430" y="61" width="1" height="11" fill="#000"/>
<rect x="428" y="63" width="5" height="8" fill="#000"/>
<rect x="438" y="64" width="1" height="8" fill="#000"/>
<rect x="436.5" y="65.5" width="4" height="5" fill="#fff" stroke="#000" stroke-width="1"/>
<rect x="446" y="65" width="1" height="6" fill="#000"/>
<rect x="444" y="65" width="5" height="6" fill="#000"/>
<rect x="454" y="65" width="1" height="7" fill="#000"/>
<rect x="452.5" y="67.5" width="4" height="3" fill="#fff" stroke="#000" stroke-width="1"/>
<rect x="462" y="67" width="1" height="22" fill="#000"/>
<rect x="460" y="67" width="5" height="9" fill="#000"/>
<rect x="470" y="72" width="1" height="11" fill="#000"/>
<rect x="468" y="75" width="5" height="7" fill="#000"/>
<rect x="478" y="76" width="1" height="6" fill="#000"/>
<rect x="476" y="79" width="5" height="2" fill="#000"/>
<rect x="486" y="79" width="1" height="6" fill="#000"/>
<rect x="484" y="79" width="5" height="6" fill="#000"/>
<rect x="494" y="79" width="1" height="8" fill="#000"/>
<rect x="492.5" y="80.5" width="4" height="4" fill="#fff" stroke="#000" stroke-width="1"/>
<rect x="502" y="78" width="1" height="14" fill="#000"/>
<rect x="500" y="80" width="5" height="8" fill="#000"/>
<rect x="510" y="81" width="1" height="10" fill="#000"/>
<rect x="508" y="86" width="5" height="1" fill="#000"/>
<rect x="518" y="84" width="1" height="7" fill="#000"/>
<rect x="516.5" y="85.5" width="4" height="2" fill="#fff" stroke="#000" stroke-width="1"/>
<rect x="526" y="98" width="1" height="10" fill="#000"/>
<rect x="524" y="98" width="5" height="7" fill="#000"/>
<rect x="534" y="102" width="1" height="9" fill="#000"/>
<rect x="532" y="103" width="5" height="5" fill="#000"/>
<rect x="542" y="105" width="1" height="8" fill="#000"/>
<rect x="540" y="107" width="5" height="5" fill="#000"/>
<rect x="550" y="111" width="1" height="22" fill="#000"/>
<rect x="548" y="111" width="5" height="15" fill="#000"/>
<rect x="558" y="122" width="1" height="17" fill="#000"/>
<rect x="556" y="125" width="5" height="5" fill="#000"/>
<rect x="566" y="128" width="1" height="17" fill="#000"/>
<rect x="564" y="129" width="5" height="2" fill="#000"/>
<rect x="574" y="127" width="1" height="20" fill="#000"/>
<rect x="572" y="130" width="5" height="6" fill="#000"/>
<rect x="582" y="126" width="1" height="12" fill="#000"/>
<rect x="580.5" y="130.5" width="4" height="6" fill="#fff" stroke="#000" stroke-width="1"/>
<rect x="590" y="127" width="1" height="6" fill="#000"/>
<rect x="588.5" y="128.5" width="4" height="2" fill="#fff" stroke="#000" stroke-width="1"/>
<rect x="598" y="127" width="1" height="18" fill="#000"/>
<rect x="596" y="128" width="5" height="10" fill="#000"/>
<rect x="606" y="132" width="1" height="28" fill="#000"/>
<rect x="604" y="137" width="5" height="17" fill="#000"/>
<rect x="614" y="152" width="1" height="41" fill="#000"/>
<rect x="612" y="154" width="5" height="31" fill="#000"/>
<rect x="622" y="178" width="1" height="17" fill="#000"/>
<rect x="620.5" y="179.5" width="4" height="4" fill="#fff" stroke="#000" stroke-width="1"/>
<rect x="630" y="175" width="1" height="16" fill="#000"/>
<rect x="628" y="178" width="5" height="1" fill="#000"/>
<rect x="638" y="178" width="1" height="12" fill="#000"/>
<rect x="636" y="178" width="5" height="4" fill="#000"/>
<rect x="646" y="179" width="1" height="31" fill="#000"/>
<rect x="644" y="181" width="5" height="8" fill="#000"/>
<rect x="654" y="165" width="1" height="29" fill="#000"/>
<rect x="652.5" y="170.5" width="4" height="18" fill="#fff" stroke="#000" stroke-width="1"/>
<rect x="662" y="166" width="1" height="35" fill="#000"/>
<rect x="660" y="169" width="5" height="30" fill="#000"/>
<rect x="670" y="188" width="1" height="18" fill="#000"/>
<rect x="668" y="198" width="5" height="4" fill="#000"/>
<rect x="678" y="199" width="1" height="19" fill="#000"/>
<rect x="676" y="201" width="5" height="16" fill="#000"/>
<rect x="686" y="203" width="1" height="20" fill="#000"/>
<rect x="684.5" y="208.5" width="4" height="8" fill="#fff" stroke="#000" stroke-width="1"/>
<rect x="694" y="201" width="1" height="15" fill="#000"/>
<rect x="692" y="208" width="5" height="6" fill="#000"/>
<rect x="702" y="210" width="1" height="39" fill="#000"/>
<rect x="700" y="213" width="5" height="13" fill="#000"/>
<rect x="710" y="206" width="1" height="33" fill="#000"/>
<rect x="708" y="225" width="5" height="13" fill="#000"/>
<rect x="718" y="232" width="1" height="50" fill="#000"/>
<rect x="716" y="237" width="5" height="31" fill="#000"/>
<rect x="726" y="260" width="1" height="27" fill="#000"/>
<rect x="724" y="266" width="5" height="10" fill="#000"/>
<rect x="734" y="272" width="1" height="25" fill="#000"/>
<rect x="732" y="275" width="5" height="11" fill="#000"/>
<rect x="742" y="276" width="1" height="33" fill="#000"/>
<rect x="740" y="285" width="5" height="4" fill="#000"/>
<rect x="750" y="274" width="1" height="46" fill="#000"/>
<rect x="748" y="288" width="5" height="15" fill="#000"/>
<rect x="758" y="275" width="1" height="41" fill="#000"/>
<rect x="756.5" y="299.5" width="4" height="3" fill="#fff" stroke="#000" stroke-width="1"/>
<rect x="766" y="265" width="1" height="51" fill="#000"/>
<rect x="764.5" y="273.5" width="4" height="25" fill="#fff" stroke="#000" stroke-width="1"/>
<rect x="774" y="290" width="1" height="21" fill="#000"/>
<rect x="772" y="291" width="5" height="7" fill="#000"/>
<rect x="782" y="264" width="1" height="36" fill="#000"/>
<rect x="780.5" y="270.5" width="4" height="26" fill="#fff" stroke="#000" stroke-width="1"/>
<rect x="790" y="252" width="1" height="27" fill="#000"/>
<rect x="788.5" y="254.5" width="4" height="16" fill="#fff" stroke="#000" stroke-width="1"/>
<rect x="798" y="248" width="1" height="54" fill="#000"/>
<rect x="796" y="254" width="5" height="47" fill="#000"/>
<rect x="806" y="256" width="1" height="45" fill="#000"/>
<rect x="804.5" y="262.5" width="4" height="38" fill="#fff" stroke="#000" stroke-width="1"/>
<rect x="814" y="235" width="1" height="31" fill="#000"/>
<rect x="812.5" y="252.5" width="4" height="10" fill="#fff" stroke="#000" stroke-width="1"/>
<rect x="822" y="209" width="1" height="44" fill="#000"/>
<rect x="820.5" y="212.5" width="4" height="40" fill="#fff" stroke="#000" stroke-width="1"/>
<rect x="830" y="207" width="1" height="15" fill="#000"/>
<rect x="828" y="212" width="5" height="4" fill="#000"/>
<rect x="838" y="215" width="1" height="17" fill="#000"/>
<rect x="836" y="215" width="5" height="2" fill="#000"/>
<rect x="846" y="204" width="1" height="21" fill="#000"/>
<rect x="844.5" y="214.5" width="4" height="2" fill="#fff" stroke="#000" stroke-width="1"/>
<rect x="854" y="190" width="1" height="41" fill="#000"/>
<rect x="852.5" y="208.5" width="4" height="6" fill="#fff" stroke="#000" stroke-width="1"/>
<rect x="862" y="207" width="1" height="59" fill="#000"/>
<rect x="860" y="208" width="5" height="42" fill="#000"/>
<rect x="870" y="236" width="1" height="29" fill="#000"/>
<rect x="868" y="249" width="5" height="9" fill="#000"/>
<rect x="878" y="233" width="1" height="26" fill="#000"/>
<rect x="876.5" y="235.5" width="4" height="23" fill="#fff" stroke="#000" stroke-width="1"/>
<rect x="886" y="229" width="1" height="11" fill="#000"/>
<rect x="884.5" y="231.5" width="4" height="5" fill="#fff" stroke="#000" stroke-width="1"/>
<rect x="894" y="221" width="1" height="17" fill="#000"/>
<rect x="892.5" y="221.5" width="4" height="10" fill="#fff" stroke="#000" stroke-width="1"/>
<rect x="902" y="214" width="1" height="20" fill="#000"/>
<rect x="900" y="221" width="5" height="7" fill="#000"/>
<rect x="910" y="203" width="1" height="28" fill="#000"/>
<rect x="908.5" y="206.5" width="4" height="21" fill="#fff" stroke="#000" stroke-width="1"/>
<rect x="918" y="189" width="1" height="19" fill="#000"/>
<rect x="916.5" y="198.5" width="4" height="9" fill="#fff" stroke="#000" stroke-width="1"/>
<rect x="926" y="198" width="1" height="11" fill="#000"/>
<rect x="924" y="199" width="5" height="10" fill="#000"/>
<rect x="934" y="199" width="1" height="11" fill="#000"/>
<rect x="932.5" y="206.5" width="4" height="2" fill="#fff" stroke="#000" stroke-width="1"/>
<rect x="942" y="206" width="1" height="19" fill="#000"/>
<rect x="940" y="206" width="5" height="14" fill="#000"/>
<rect x="950" y="217" width="1" height="19" fill="#000"/>
<rect x="948" y="219" width="5" height="8" fill="#000"/>
<rect x="958" y="214" width="1" height="34" fill="#000"/>
<rect x="956" y="225" width="5" height="19" fill="#000"/>
<rect x="966" y="237" width="1" height="16" fill="#000"/>
<rect x="964.5" y="237.5" width="4" height="5" fill="#fff" stroke="#000" stroke-width="1"/>
<rect x="974" y="232" width="1" height="29" fill="#000"/>
<rect x="972" y="237" width="5" height="23" fill="#000"/>
<rect x="982" y="252" width="1" height="12" fill="#000"/>
<rect x="980.5" y="257.5" width="4" height="2" fill="#fff" stroke="#000" stroke-width="1"/>
<rect x="990" y="251" width="1" height="32" fill="#000"/>
<rect x="988" y="257" width="5" height="20" fill="#000"/>
<rect x="998" y="260" width="1" height="32" fill="#000"/>
<rect x="996.5" y="264.5" width="4" height="12" fill="#fff" stroke="#000" stroke-width="1"/>
<rect x="1006" y="261" width="1" height="28" fill="#000"/>
<rect x="1004" y="264" width="5" height="23" fill="#000"/>
<rect x="1014" y="249" width="1" height="41" fill="#000"/>
<rect x="1012.5" y="258.5" width="4" height="28" fill="#fff" stroke="#000" stroke-width="1"/>
<rect x="1022" y="309" width="1" height="13" fill="#000"/>
<rect x="1020" y="313" width="5" height="8" fill="#000"/>
<rect x="1030" y="313" width="1" height="17" fill="#000"/>
<rect x="1028" y="320" width="5" height="5" fill="#000"/>
<rect x="1038" y="322" width="1" height="6" fill="#000"/>
<rect x="1036" y="324" width="5" height="4" fill="#000"/>
<rect x="1046" y="324" width="1" height="8" fill="#000"/>
<rect x="1044" y="327" width="5" height="1" fill="#000"/>
<rect x="1054" y="321" width="1" height="61" fill="#000"/>
<rect x="1052.5" y="328.5" width="4" height="3" fill="#fff" stroke="#000" stroke-width="1"/>
<rect x="1062" y="323" width="1" height="52" fill="#000"/>
<rect x="1060" y="328" width="5" height="40" fill="#000"/>
<rect x="1070" y="334" width="1" height="54" fill="#000"/>
<rect x="1068.5" y="340.5" width="4" height="27" fill="#fff" stroke="#000" stroke-width="1"/>
<rect x="1078" y="325" width="1" height="30" fill="#000"/>
<rect x="1076.5" y="330.5" width="4" height="8" fill="#fff" stroke="#000" stroke-width="1"/>
<rect x="1086" y="315" width="1" height="20" fill="#000"/>
<rect x="1084" y="330" width="5" height="2" fill="#000"/>
<rect x="1094" y="302" width="1" height="36" fill="#000"/>
<rect x="1092.5" y="313.5" width="4" height="19" fill="#fff" stroke="#000" stroke-width="1"/>
<rect x="1102" y="309" width="1" height="67" fill="#000"/>
<rect x="1100" y="313" width="5" height="54" fill="#000"/>
<rect x="1110" y="302" width="1" height="65" fill="#000"/>
<rect x="1108.5" y="302.5" width="4" height="64" fill="#fff" stroke="#000" stroke-width="1"/>
<rect x="1118" y="301" width="1" height="34" fill="#000"/>
<rect x="1116" y="303" width="5" height="25" fill="#000"/>
<rect x="1126" y="320" width="1" height="23" fill="#000"/>
<rect x="1124" y="327" width="5" height="7" fill="#000"/>
<rect x="1134" y="329" width="1" height="21" fill="#000"/>
<rect x="1132" y="333" width="5" height="2" fill="#000"/>
<rect x="1142" y="322" width="1" height="25" fill="#000"/>
<rect x="1140" y="334" width="5" height="9" fill="#000"/>
<rect x="1150" y="332" width="1" height="34" fill="#000"/>
<rect x="1148" y="342" width="5" height="17" fill="#000"/>
<rect x="1158" y="345" width="1" height="44" fill="#000"/>
<rect x="1156" y="357" width="5" height="27" fill="#000"/>
<rect x="1166" y="364" width="1" height="23" fill="#000"/>
<rect x="1164" y="382" width="5" height="2" fill="#000"/>
<rect x="1174" y="379" width="1" height="69" fill="#000"/>
<rect x="1172" y="382" width="5" height="59" fill="#000"/>
<rect x="1182" y="416" width="1" height="27" fill="#000"/>
<rect x="1180.5" y="435.5" width="4" height="4" fill="#fff" stroke="#000" stroke-width="1"/>
<rect x="1190" y="428" width="1" height="19" fill="#000"/>
<rect x="1188" y="434" width="5" height="13" fill="#000"/>
<rect x="1198" y="446" width="1" height="62" fill="#000"/>
<rect x="1196" y="446" width="5" height="54" fill="#000"/>
<rect x="1206" y="420" width="1" height="94" fill="#000"/>
<rect x="1204" y="499" width="5" height="15" fill="#000"/>
<rect x="1214" y="505" width="1" height="29" fill="#000"/>
<rect x="1212" y="512" width="5" height="18" fill="#000"/>
<rect x="1222" y="517" width="1" height="37" fill="#000"/>
<rect x="1220" y="529" width="5" height="22" fill="#000"/>
<rect x="1230" y="460" width="1" height="92" fill="#000"/>
<rect x="1228.5" y="471.5" width="4" height="79" fill="#fff" stroke="#000" stroke-width="1"/>
<rect x="1238" y="454" width="1" height="30" fill="#000"/>
<rect x="1236.5" y="454.5" width="4" height="15" fill="#fff" stroke="#000" stroke-width="1"/>
<rect x="1246" y="438" width="1" height="69" fill="#000"/>
<rect x="1244" y="454" width="5" height="43" fill="#000"/>
<rect x="1254" y="404" width="1" height="93" fill="#000"/>
<rect x="1252.5" y="405.5" width="4" height="91" fill="#fff" stroke="#000" stroke-width="1"/>
<rect x="1262" y="403" width="1" height="10" fill="#000"/>
<rect x="1260" y="405" width="5" height="5" fill="#000"/>
<rect x="1270" y="466" width="1" height="4" fill="#000"/>
<rect x="1268" y="468" width="5" height="2" fill="#000"/>
<rect x="1278" y="468" width="1" height="11" fill="#000"/>
<rect x="1276" y="468" width="5" height="11" fill="#000"/>
<rect x="1286" y="478" width="1" height="80" fill="#000"/>
<rect x="1284" y="481" width="5" height="16" fill="#000"/>
<rect x="1294" y="486" width="1" height="85" fill="#000"/>
<rect x="1292" y="497" width="5" height="67" fill="#000"/>
<rect x="1302" y="532" width="1" height="34" fill="#000"/>
<rect x="1300.5" y="537.5" width="4" height="28" fill="#fff" stroke="#000" stroke-width="1"/>
<rect x="1310" y="508" width="1" height="45" fill="#000"/>
<rect x="1308.5" y="514.5" width="4" height="23" fill="#fff" stroke="#000" stroke-width="1"/>
<rect x="1318" y="507" width="1" height="17" fill="#000"/>
<rect x="1316" y="508" width="5" height="16" fill="#000"/>
<rect x="1326" y="510" width="1" height="41" fill="#000"/>
<rect x="1324" y="510" width="5" height="41" fill="#000"/>
<rect x="1334" y="524" width="1" height="57" fill="#000"/>
<rect x="1332.5" y="525.5" width="4" height="24" fill="#fff" stroke="#000" stroke-width="1"/>
<rect x="1342" y="500" width="1" height="49" fill="#000"/>
<rect x="1340.5" y="505.5" width="4" height="19" fill="#fff" stroke="#000" stroke-width="1"/>
<rect x="1350" y="503" width="1" height="17" fill="#000"/>
<rect x="1348" y="505" width="5" height="12" fill="#000"/>
</g>
<g clip-path="url(#cpMain)" shape-rendering="crispEdges">
<line x1="1133.5" y1="327.0" x2="1216.3" y2="544.0" stroke="#ff0000" stroke-width="3.1"/>
<polygon points="1217.7,547.7 1207.5,538.2 1219.0,533.8" fill="#ff0000"/>
<line x1="1218.5" y1="546.0" x2="1263.7" y2="415.3" stroke="#ff0000" stroke-width="3.1"/>
<polygon points="1265.0,411.5 1266.8,425.3 1255.1,421.3" fill="#ff0000"/>
<line x1="1265.0" y1="413.0" x2="1294.7" y2="559.1" stroke="#ff0000" stroke-width="3.1"/>
<polygon points="1295.5,563.0 1287.5,552.9 1298.9,550.6" fill="#ff0000"/>
<line x1="1296.0" y1="562.0" x2="1317.1" y2="511.2" stroke="#ff0000" stroke-width="3.1"/>
<polygon points="1318.6,507.5 1319.6,519.3 1309.6,515.1" fill="#ff0000"/>
<line x1="1318.6" y1="509.0" x2="1328.1" y2="570.3" stroke="#ff0000" stroke-width="3.1"/>
<polygon points="1328.7,574.3 1321.3,564.3 1332.8,562.5" fill="#ff0000"/>
<line x1="1328.7" y1="573.0" x2="1346.4" y2="507.4" stroke="#ff0000" stroke-width="3.1"/>
<polygon points="1347.4,503.5 1349.4,514.4 1340.2,511.9" fill="#ff0000"/>
<rect x="1176" y="490" width="204" height="12" fill="#00ff00"/>
</g>
<text x="1372.3" y="469.3" font-size="32" font-weight="bold" fill="#101030" textLength="163" lengthAdjust="spacingAndGlyphs" style="font-family:'Liberation Serif','Noto Serif CJK SC',serif">多空转折点</text>
<text x="1371.3" y="468.3" font-size="32" font-weight="bold" fill="#00ff00" textLength="163" lengthAdjust="spacingAndGlyphs" style="font-family:'Liberation Serif','Noto Serif CJK SC',serif">多空转折点</text>
<g shape-rendering="crispEdges"><rect x="1447" y="495" width="8" height="1" fill="#ff0000"/>
<rect x="1454.5" y="493.5" width="2" height="3" fill="#fff" stroke="#ff0000" stroke-width="1"/>
<rect x="1457.5" y="483.5" width="73" height="24" fill="#fff" stroke="#ff0000" stroke-width="1"/></g>
<text x="1459.3" y="503.6" font-size="21.5" fill="#ff0000" textLength="69.5" lengthAdjust="spacingAndGlyphs">21447.9</text>
<polygon points="0.8,38.6 8.2,38.6 4.5,34.8" fill="#000"/>
<text x="13" y="39.3" class="ax" textLength="186" lengthAdjust="spacingAndGlyphs" xml:space="preserve" >DJ30-,H4  21256.0 21265.0 21000.0 21048.0</text>
<g shape-rendering="crispEdges">
<rect x="1608" y="30" width="2" height="1" fill="#000"/>
<rect x="1608" y="63" width="2" height="1" fill="#000"/>
<rect x="1608" y="96" width="2" height="1" fill="#000"/>
<rect x="1608" y="129" width="2" height="1" fill="#000"/>
<rect x="1608" y="162" width="2" height="1" fill="#000"/>
<rect x="1608" y="195" width="2" height="1" fill="#000"/>
<rect x="1608" y="228" width="2" height="1" fill="#000"/>
<rect x="1608" y="261" width="2" height="1" fill="#000"/>
<rect x="1608" y="294" width="2" height="1" fill="#000"/>
<rect x="1608" y="327" width="2" height="1" fill="#000"/>
<rect x="1608" y="360" width="2" height="1" fill="#000"/>
<rect x="1608" y="393" width="2" height="1" fill="#000"/>
<rect x="1608" y="426" width="2" height="1" fill="#000"/>
<rect x="1608" y="459" width="2" height="1" fill="#000"/>
<rect x="1608" y="525" width="2" height="1" fill="#000"/>
<rect x="1608" y="558" width="2" height="1" fill="#000"/>
<rect x="1608" y="591" width="2" height="1" fill="#000"/>
</g>
<text x="1613.3" y="34.4" class="ax" textLength="33.0" lengthAdjust="spacingAndGlyphs">29998.0</text>
<text x="1613.3" y="67.4" class="ax" textLength="33.0" lengthAdjust="spacingAndGlyphs">29386.0</text>
<text x="1613.3" y="100.4" class="ax" textLength="33.0" lengthAdjust="spacingAndGlyphs">28774.0</text>
<text x="1613.3" y="133.4" class="ax" textLength="33.0" lengthAdjust="spacingAndGlyphs">28180.0</text>
<text x="1613.3" y="166.4" class="ax" textLength="33.0" lengthAdjust="spacingAndGlyphs">27568.0</text>
<text x="1613.3" y="199.4" class="ax" textLength="33.0" lengthAdjust="spacingAndGlyphs">26956.0</text>
<text x="1613.3" y="232.4" class="ax" textLength="33.0" lengthAdjust="spacingAndGlyphs">26362.0</text>
<text x="1613.3" y="265.4" class="ax" textLength="33.0" lengthAdjust="spacingAndGlyphs">25750.0</text>
<text x="1613.3" y="298.4" class="ax" textLength="33.0" lengthAdjust="spacingAndGlyphs">25138.0</text>
<text x="1613.3" y="331.4" class="ax" textLength="33.0" lengthAdjust="spacingAndGlyphs">24526.0</text>
<text x="1613.3" y="364.4" class="ax" textLength="33.0" lengthAdjust="spacingAndGlyphs">23932.0</text>
<text x="1613.3" y="397.4" class="ax" textLength="33.0" lengthAdjust="spacingAndGlyphs">23320.0</text>
<text x="1613.3" y="430.4" class="ax" textLength="33.0" lengthAdjust="spacingAndGlyphs">22708.0</text>
<text x="1613.3" y="463.4" class="ax" textLength="33.0" lengthAdjust="spacingAndGlyphs">22096.0</text>
<text x="1613.3" y="529.4" class="ax" textLength="33.0" lengthAdjust="spacingAndGlyphs">20890.0</text>
<text x="1613.3" y="562.4" class="ax" textLength="33.0" lengthAdjust="spacingAndGlyphs">20278.0</text>
<text x="1613.3" y="595.4" class="ax" textLength="33.0" lengthAdjust="spacingAndGlyphs">19684.0</text>
<rect x="1609" y="436.0" width="41" height="11" fill="#ff0000" shape-rendering="crispEdges"/>
<text x="1613.3" y="445.1" class="axw" textLength="33.0" lengthAdjust="spacingAndGlyphs">22421.1</text>
<rect x="1609" y="463.0" width="41" height="11" fill="#ff0000" shape-rendering="crispEdges"/>
<text x="1613.3" y="472.1" class="axw" textLength="33.0" lengthAdjust="spacingAndGlyphs">21925.3</text>
<rect x="1609" y="489.0" width="41" height="11" fill="#32cd32" shape-rendering="crispEdges"/>
<text x="1613.3" y="498.1" class="axw" textLength="33.0" lengthAdjust="spacingAndGlyphs">21447.9</text>
<rect x="1609" y="510.0" width="41" height="11" fill="#000000" shape-rendering="crispEdges"/>
<text x="1613.3" y="519.1" class="axw" textLength="33.0" lengthAdjust="spacingAndGlyphs">21048.0</text>
<rect x="1609" y="539.0" width="41" height="11" fill="#0000ff" shape-rendering="crispEdges"/>
<text x="1613.3" y="548.1" class="axw" textLength="33.0" lengthAdjust="spacingAndGlyphs">20529.7</text>
<rect x="1609" y="566.0" width="41" height="11" fill="#0000ff" shape-rendering="crispEdges"/>
<text x="1613.3" y="575.1" class="axw" textLength="33.0" lengthAdjust="spacingAndGlyphs">20034.0</text>
<g shape-rendering="crispEdges">
<rect x="6" y="610" width="1" height="16" fill="#c0c0c0"/>
<rect x="14" y="612" width="1" height="14" fill="#c0c0c0"/>
<rect x="22" y="615" width="1" height="11" fill="#c0c0c0"/>
<rect x="30" y="617" width="1" height="9" fill="#c0c0c0"/>
<rect x="38" y="618" width="1" height="8" fill="#c0c0c0"/>
<rect x="46" y="619" width="1" height="7" fill="#c0c0c0"/>
<rect x="54" y="620" width="1" height="6" fill="#c0c0c0"/>
<rect x="62" y="620" width="1" height="6" fill="#c0c0c0"/>
<rect x="70" y="619" width="1" height="7" fill="#c0c0c0"/>
<rect x="78" y="618" width="1" height="8" fill="#c0c0c0"/>
<rect x="86" y="618" width="1" height="8" fill="#c0c0c0"/>
<rect x="94" y="618" width="1" height="8" fill="#c0c0c0"/>
<rect x="102" y="618" width="1" height="8" fill="#c0c0c0"/>
<rect x="110" y="618" width="1" height="8" fill="#c0c0c0"/>
<rect x="118" y="618" width="1" height="8" fill="#c0c0c0"/>
<rect x="126" y="618" width="1" height="8" fill="#c0c0c0"/>
<rect x="134" y="618" width="1" height="8" fill="#c0c0c0"/>
<rect x="142" y="618" width="1" height="8" fill="#c0c0c0"/>
<rect x="150" y="618" width="1" height="8" fill="#c0c0c0"/>
<rect x="158" y="618" width="1" height="8" fill="#c0c0c0"/>
<rect x="166" y="616" width="1" height="10" fill="#c0c0c0"/>
<rect x="174" y="616" width="1" height="10" fill="#c0c0c0"/>
<rect x="182" y="616" width="1" height="10" fill="#c0c0c0"/>
<rect x="190" y="616" width="1" height="10" fill="#c0c0c0"/>
<rect x="198" y="616" width="1" height="10" fill="#c0c0c0"/>
<rect x="206" y="616" width="1" height="10" fill="#c0c0c0"/>
<rect x="214" y="616" width="1" height="10" fill="#c0c0c0"/>
<rect x="222" y="616" width="1" height="10" fill="#c0c0c0"/>
<rect x="230" y="616" width="1" height="10" fill="#c0c0c0"/>
<rect x="238" y="616" width="1" height="10" fill="#c0c0c0"/>
<rect x="246" y="616" width="1" height="10" fill="#c0c0c0"/>
<rect x="254" y="616" width="1" height="10" fill="#c0c0c0"/>
<rect x="262" y="616" width="1" height="10" fill="#c0c0c0"/>
<rect x="270" y="618" width="1" height="8" fill="#c0c0c0"/>
<rect x="278" y="618" width="1" height="8" fill="#c0c0c0"/>
<rect x="286" y="619" width="1" height="7" fill="#c0c0c0"/>
<rect x="294" y="620" width="1" height="6" fill="#c0c0c0"/>
<rect x="302" y="620" width="1" height="6" fill="#c0c0c0"/>
<rect x="310" y="621" width="1" height="5" fill="#c0c0c0"/>
<rect x="318" y="621" width="1" height="5" fill="#c0c0c0"/>
<rect x="326" y="622" width="1" height="4" fill="#c0c0c0"/>
<rect x="334" y="623" width="1" height="3" fill="#c0c0c0"/>
<rect x="342" y="624" width="1" height="2" fill="#c0c0c0"/>
<rect x="350" y="625" width="1" height="1" fill="#c0c0c0"/>
<rect x="358" y="625" width="1" height="1" fill="#c0c0c0"/>
<rect x="366" y="624" width="1" height="2" fill="#c0c0c0"/>
<rect x="374" y="625" width="1" height="2" fill="#c0c0c0"/>
<rect x="382" y="625" width="1" height="2" fill="#c0c0c0"/>
<rect x="390" y="625" width="1" height="2" fill="#c0c0c0"/>
<rect x="398" y="625" width="1" height="2" fill="#c0c0c0"/>
<rect x="406" y="625" width="1" height="2" fill="#c0c0c0"/>
<rect x="414" y="625" width="1" height="2" fill="#c0c0c0"/>
<rect x="422" y="625" width="1" height="2" fill="#c0c0c0"/>
<rect x="430" y="625" width="1" height="2" fill="#c0c0c0"/>
<rect x="438" y="625" width="1" height="2" fill="#c0c0c0"/>
<rect x="446" y="625" width="1" height="2" fill="#c0c0c0"/>
<rect x="454" y="625" width="1" height="1" fill="#c0c0c0"/>
<rect x="462" y="625" width="1" height="2" fill="#c0c0c0"/>
<rect x="470" y="625" width="1" height="3" fill="#c0c0c0"/>
<rect x="478" y="625" width="1" height="5" fill="#c0c0c0"/>
<rect x="486" y="625" width="1" height="6" fill="#c0c0c0"/>
<rect x="494" y="625" width="1" height="7" fill="#c0c0c0"/>
<rect x="502" y="625" width="1" height="9" fill="#c0c0c0"/>
<rect x="510" y="625" width="1" height="9" fill="#c0c0c0"/>
<rect x="518" y="625" width="1" height="10" fill="#c0c0c0"/>
<rect x="526" y="625" width="1" height="12" fill="#c0c0c0"/>
<rect x="534" y="625" width="1" height="16" fill="#c0c0c0"/>
<rect x="542" y="625" width="1" height="19" fill="#c0c0c0"/>
<rect x="550" y="625" width="1" height="22" fill="#c0c0c0"/>
<rect x="558" y="625" width="1" height="27" fill="#c0c0c0"/>
<rect x="566" y="625" width="1" height="29" fill="#c0c0c0"/>
<rect x="574" y="625" width="1" height="31" fill="#c0c0c0"/>
<rect x="582" y="625" width="1" height="32" fill="#c0c0c0"/>
<rect x="590" y="625" width="1" height="32" fill="#c0c0c0"/>
<rect x="598" y="625" width="1" height="34" fill="#c0c0c0"/>
<rect x="606" y="625" width="1" height="37" fill="#c0c0c0"/>
<rect x="614" y="625" width="1" height="42" fill="#c0c0c0"/>
<rect x="622" y="625" width="1" height="46" fill="#c0c0c0"/>
<rect x="630" y="625" width="1" height="49" fill="#c0c0c0"/>
<rect x="638" y="625" width="1" height="52" fill="#c0c0c0"/>
<rect x="646" y="625" width="1" height="54" fill="#c0c0c0"/>
<rect x="654" y="625" width="1" height="52" fill="#c0c0c0"/>
<rect x="662" y="625" width="1" height="54" fill="#c0c0c0"/>
<rect x="670" y="625" width="1" height="56" fill="#c0c0c0"/>
<rect x="678" y="625" width="1" height="59" fill="#c0c0c0"/>
<rect x="686" y="625" width="1" height="59" fill="#c0c0c0"/>
<rect x="694" y="625" width="1" height="59" fill="#c0c0c0"/>
<rect x="702" y="625" width="1" height="60" fill="#c0c0c0"/>
<rect x="710" y="625" width="1" height="64" fill="#c0c0c0"/>
<rect x="718" y="625" width="1" height="69" fill="#c0c0c0"/>
<rect x="726" y="625" width="1" height="74" fill="#c0c0c0"/>
<rect x="734" y="625" width="1" height="79" fill="#c0c0c0"/>
<rect x="742" y="625" width="1" height="82" fill="#c0c0c0"/>
<rect x="750" y="625" width="1" height="86" fill="#c0c0c0"/>
<rect x="758" y="625" width="1" height="87" fill="#c0c0c0"/>
<rect x="766" y="625" width="1" height="84" fill="#c0c0c0"/>
<rect x="774" y="625" width="1" height="84" fill="#c0c0c0"/>
<rect x="782" y="625" width="1" height="79" fill="#c0c0c0"/>
<rect x="790" y="625" width="1" height="70" fill="#c0c0c0"/>
<rect x="798" y="625" width="1" height="70" fill="#c0c0c0"/>
<rect x="806" y="625" width="1" height="64" fill="#c0c0c0"/>
<rect x="814" y="625" width="1" height="57" fill="#c0c0c0"/>
<rect x="822" y="625" width="1" height="44" fill="#c0c0c0"/>
<rect x="830" y="625" width="1" height="34" fill="#c0c0c0"/>
<rect x="838" y="625" width="1" height="27" fill="#c0c0c0"/>
<rect x="846" y="625" width="1" height="19" fill="#c0c0c0"/>
<rect x="854" y="625" width="1" height="12" fill="#c0c0c0"/>
<rect x="862" y="625" width="1" height="14" fill="#c0c0c0"/>
<rect x="870" y="625" width="1" height="17" fill="#c0c0c0"/>
<rect x="878" y="625" width="1" height="14" fill="#c0c0c0"/>
<rect x="886" y="625" width="1" height="11" fill="#c0c0c0"/>
<rect x="894" y="625" width="1" height="7" fill="#c0c0c0"/>
<rect x="902" y="625" width="1" height="5" fill="#c0c0c0"/>
<rect x="910" y="625" width="1" height="1" fill="#c0c0c0"/>
<rect x="918" y="622" width="1" height="4" fill="#c0c0c0"/>
<rect x="926" y="620" width="1" height="6" fill="#c0c0c0"/>
<rect x="934" y="618" width="1" height="8" fill="#c0c0c0"/>
<rect x="942" y="618" width="1" height="8" fill="#c0c0c0"/>
<rect x="950" y="620" width="1" height="6" fill="#c0c0c0"/>
<rect x="958" y="624" width="1" height="2" fill="#c0c0c0"/>
<rect x="966" y="626" width="1" height="1" fill="#c0c0c0"/>
<rect x="974" y="625" width="1" height="4" fill="#c0c0c0"/>
<rect x="982" y="625" width="1" height="9" fill="#c0c0c0"/>
<rect x="990" y="625" width="1" height="14" fill="#c0c0c0"/>
<rect x="998" y="625" width="1" height="17" fill="#c0c0c0"/>
<rect x="1006" y="625" width="1" height="22" fill="#c0c0c0"/>
<rect x="1014" y="625" width="1" height="22" fill="#c0c0c0"/>
<rect x="1022" y="625" width="1" height="31" fill="#c0c0c0"/>
<rect x="1030" y="625" width="1" height="37" fill="#c0c0c0"/>
<rect x="1038" y="625" width="1" height="44" fill="#c0c0c0"/>
<rect x="1046" y="625" width="1" height="47" fill="#c0c0c0"/>
<rect x="1054" y="625" width="1" height="51" fill="#c0c0c0"/>
<rect x="1062" y="625" width="1" height="59" fill="#c0c0c0"/>
<rect x="1070" y="625" width="1" height="59" fill="#c0c0c0"/>
<rect x="1078" y="625" width="1" height="57" fill="#c0c0c0"/>
<rect x="1086" y="625" width="1" height="56" fill="#c0c0c0"/>
<rect x="1094" y="625" width="1" height="52" fill="#c0c0c0"/>
<rect x="1102" y="625" width="1" height="55" fill="#c0c0c0"/>
<rect x="1110" y="625" width="1" height="48" fill="#c0c0c0"/>
<rect x="1118" y="625" width="1" height="45" fill="#c0c0c0"/>
<rect x="1126" y="625" width="1" height="44" fill="#c0c0c0"/>
<rect x="1134" y="625" width="1" height="43" fill="#c0c0c0"/>
<rect x="1142" y="625" width="1" height="42" fill="#c0c0c0"/>
<rect x="1150" y="625" width="1" height="44" fill="#c0c0c0"/>
<rect x="1158" y="625" width="1" height="47" fill="#c0c0c0"/>
<rect x="1166" y="625" width="1" height="52" fill="#c0c0c0"/>
<rect x="1174" y="625" width="1" height="62" fill="#c0c0c0"/>
<rect x="1182" y="625" width="1" height="69" fill="#c0c0c0"/>
<rect x="1190" y="625" width="1" height="76" fill="#c0c0c0"/>
<rect x="1198" y="625" width="1" height="87" fill="#c0c0c0"/>
<rect x="1206" y="625" width="1" height="99" fill="#c0c0c0"/>
<rect x="1214" y="625" width="1" height="108" fill="#c0c0c0"/>
<rect x="1222" y="625" width="1" height="119" fill="#c0c0c0"/>
<rect x="1230" y="625" width="1" height="114" fill="#c0c0c0"/>
<rect x="1238" y="625" width="1" height="104" fill="#c0c0c0"/>
<rect x="1246" y="625" width="1" height="102" fill="#c0c0c0"/>
<rect x="1254" y="625" width="1" height="86" fill="#c0c0c0"/>
<rect x="1262" y="625" width="1" height="73" fill="#c0c0c0"/>
<rect x="1270" y="625" width="1" height="71" fill="#c0c0c0"/>
<rect x="1278" y="625" width="1" height="71" fill="#c0c0c0"/>
<rect x="1286" y="625" width="1" height="71" fill="#c0c0c0"/>
<rect x="1294" y="625" width="1" height="82" fill="#c0c0c0"/>
<rect x="1302" y="625" width="1" height="85" fill="#c0c0c0"/>
<rect x="1310" y="625" width="1" height="84" fill="#c0c0c0"/>
<rect x="1318" y="625" width="1" height="81" fill="#c0c0c0"/>
<rect x="1326" y="625" width="1" height="84" fill="#c0c0c0"/>
<rect x="1334" y="625" width="1" height="81" fill="#c0c0c0"/>
<rect x="1342" y="625" width="1" height="76" fill="#c0c0c0"/>
<rect x="1350" y="625" width="1" height="72" fill="#c0c0c0"/>
<path d="M0 606h3v1h-3zM6 606h3v1h-3zM12 606h3v1h-3zM18 606h2v1h-2zM20 607h1v1h-1zM24 607h3v1h-3zM30 608h3v1h-3zM36 609h3v1h-3zM42 610h2v1h-2zM44 611h1v1h-1zM48 612h3v1h-3zM54 613h3v1h-3zM60 614h3v1h-3zM66 615h1v1h-1zM67 616h2v1h-2zM163 616h2v1h-2zM168 616h3v1h-3zM174 616h3v1h-3zM180 616h3v1h-3zM186 616h3v1h-3zM192 616h3v1h-3zM198 616h3v1h-3zM204 616h3v1h-3zM210 616h3v1h-3zM216 616h3v1h-3zM222 616h3v1h-3zM228 616h3v1h-3zM234 616h3v1h-3zM240 616h3v1h-3zM246 616h3v1h-3zM252 616h3v1h-3zM258 616h3v1h-3zM72 617h3v1h-3zM78 617h3v1h-3zM84 617h1v1h-1zM132 617h3v1h-3zM138 617h3v1h-3zM144 617h3v1h-3zM150 617h3v1h-3zM156 617h3v1h-3zM162 617h1v1h-1zM264 617h3v1h-3zM270 617h2v1h-2zM85 618h2v1h-2zM90 618h3v1h-3zM96 618h3v1h-3zM102 618h3v1h-3zM108 618h3v1h-3zM114 618h3v1h-3zM120 618h3v1h-3zM126 618h3v1h-3zM272 618h1v1h-1zM276 618h3v1h-3zM282 618h3v1h-3zM288 618h3v1h-3zM294 618h3v1h-3zM300 619h3v1h-3zM306 619h3v1h-3zM312 619h3v1h-3zM318 619h3v1h-3zM324 620h3v1h-3zM330 620h3v1h-3zM336 621h3v1h-3zM342 621h3v1h-3zM348 622h3v1h-3zM354 622h3v1h-3zM360 622h3v1h-3zM966 622h3v1h-3zM972 622h3v1h-3zM366 623h3v1h-3zM960 623h3v1h-3zM978 623h3v1h-3zM984 623h1v1h-1zM372 624h3v1h-3zM954 624h3v1h-3zM985 624h2v1h-2zM378 625h3v1h-3zM384 625h2v1h-2zM950 625h1v1h-1zM990 625h2v1h-2zM386 626h1v1h-1zM390 626h3v1h-3zM396 626h3v1h-3zM402 626h3v1h-3zM452 626h1v1h-1zM456 626h3v1h-3zM462 626h3v1h-3zM948 626h2v1h-2zM992 626h1v1h-1zM408 627h3v1h-3zM414 627h3v1h-3zM420 627h3v1h-3zM426 627h3v1h-3zM432 627h3v1h-3zM438 627h3v1h-3zM444 627h3v1h-3zM450 627h2v1h-2zM468 627h3v1h-3zM474 627h3v1h-3zM480 627h3v1h-3zM944 627h1v1h-1zM996 627h2v1h-2zM486 628h3v1h-3zM492 628h3v1h-3zM942 628h2v1h-2zM998 628h1v1h-1zM498 629h3v1h-3zM504 629h3v1h-3zM938 629h1v1h-1zM510 630h3v1h-3zM936 630h2v1h-2zM1002 630h3v1h-3zM516 631h3v1h-3zM931 631h2v1h-2zM522 632h1v1h-1zM930 632h1v1h-1zM1008 632h2v1h-2zM523 633h2v1h-2zM924 633h3v1h-3zM1010 633h1v1h-1zM528 634h3v1h-3zM534 634h1v1h-1zM920 634h1v1h-1zM1014 634h1v1h-1zM535 635h2v1h-2zM540 635h3v1h-3zM918 635h2v1h-2zM1015 635h2v1h-2zM546 636h1v1h-1zM547 637h2v1h-2zM912 637h3v1h-3zM1020 637h2v1h-2zM552 638h1v1h-1zM1022 638h1v1h-1zM553 639h2v1h-2zM907 639h2v1h-2zM558 640h1v1h-1zM906 640h1v1h-1zM1026 640h1v1h-1zM559 641h2v1h-2zM902 641h1v1h-1zM1027 641h1v1h-1zM564 642h3v1h-3zM900 642h2v1h-2zM1028 642h1v1h-1zM896 643h1v1h-1zM570 644h3v1h-3zM894 644h2v1h-2zM1032 644h1v1h-1zM576 645h2v1h-2zM890 645h1v1h-1zM1033 645h1v1h-1zM578 646h1v1h-1zM888 646h2v1h-2zM1034 646h1v1h-1zM582 647h2v1h-2zM584 648h1v1h-1zM1038 648h1v1h-1zM588 649h2v1h-2zM884 649h1v1h-1zM1039 649h2v1h-2zM590 650h1v1h-1zM883 650h1v1h-1zM594 651h3v1h-3zM882 651h1v1h-1zM600 652h2v1h-2zM1044 652h2v1h-2zM602 653h1v1h-1zM1046 653h1v1h-1zM606 654h2v1h-2zM877 654h2v1h-2zM608 655h1v1h-1zM876 655h1v1h-1zM1050 655h1v1h-1zM612 656h1v1h-1zM1051 656h2v1h-2zM613 657h2v1h-2zM618 658h1v1h-1zM872 658h1v1h-1zM619 659h2v1h-2zM871 659h1v1h-1zM1056 659h2v1h-2zM624 660h1v1h-1zM870 660h1v1h-1zM1058 660h1v1h-1zM625 661h2v1h-2zM630 662h1v1h-1zM1062 662h1v1h-1zM631 663h2v1h-2zM865 663h2v1h-2zM1063 663h1v1h-1zM864 664h1v1h-1zM1064 664h1v1h-1zM636 665h2v1h-2zM638 666h1v1h-1zM642 666h1v1h-1zM1068 666h2v1h-2zM643 667h2v1h-2zM648 667h1v1h-1zM860 667h1v1h-1zM1070 667h1v1h-1zM649 668h2v1h-2zM858 668h2v1h-2zM654 669h3v1h-3zM1074 669h2v1h-2zM1076 670h1v1h-1zM660 671h3v1h-3zM854 671h1v1h-1zM853 672h1v1h-1zM1080 672h2v1h-2zM666 673h3v1h-3zM852 673h1v1h-1zM1082 673h1v1h-1zM1086 674h2v1h-2zM1148 674h1v1h-1zM1152 674h3v1h-3zM1158 674h3v1h-3zM1164 674h3v1h-3zM1170 674h3v1h-3zM1176 674h1v1h-1zM672 675h3v1h-3zM1088 675h1v1h-1zM1142 675h1v1h-1zM1146 675h2v1h-2zM1177 675h2v1h-2zM847 676h2v1h-2zM1092 676h1v1h-1zM1136 676h1v1h-1zM1140 676h2v1h-2zM678 677h3v1h-3zM846 677h1v1h-1zM1093 677h2v1h-2zM1134 677h2v1h-2zM1182 677h3v1h-3zM684 678h1v1h-1zM1098 678h1v1h-1zM1128 678h3v1h-3zM685 679h2v1h-2zM1099 679h2v1h-2zM1116 679h3v1h-3zM1122 679h3v1h-3zM1188 679h1v1h-1zM690 680h3v1h-3zM1104 680h3v1h-3zM1110 680h3v1h-3zM1189 680h2v1h-2zM696 681h2v1h-2zM841 681h2v1h-2zM698 682h1v1h-1zM702 682h3v1h-3zM840 682h1v1h-1zM1194 682h1v1h-1zM708 683h3v1h-3zM1195 683h2v1h-2zM714 684h3v1h-3zM720 685h2v1h-2zM836 685h1v1h-1zM1200 685h1v1h-1zM722 686h1v1h-1zM835 686h1v1h-1zM1201 686h2v1h-2zM834 687h1v1h-1zM726 688h2v1h-2zM728 689h1v1h-1zM1206 689h1v1h-1zM732 690h3v1h-3zM830 690h1v1h-1zM1207 690h1v1h-1zM738 691h2v1h-2zM829 691h1v1h-1zM1208 691h1v1h-1zM740 692h1v1h-1zM828 692h1v1h-1zM744 693h1v1h-1zM745 694h2v1h-2zM824 695h1v1h-1zM1212 695h1v1h-1zM750 696h1v1h-1zM823 696h1v1h-1zM1213 696h1v1h-1zM751 697h2v1h-2zM822 697h1v1h-1zM1214 697h1v1h-1zM756 699h3v1h-3zM817 700h2v1h-2zM762 701h2v1h-2zM816 701h1v1h-1zM1218 701h1v1h-1zM764 702h1v1h-1zM812 702h1v1h-1zM1219 702h1v1h-1zM768 703h3v1h-3zM810 703h2v1h-2zM1220 703h1v1h-1zM774 704h1v1h-1zM805 704h2v1h-2zM1320 704h3v1h-3zM1326 704h3v1h-3zM1332 704h1v1h-1zM775 705h2v1h-2zM804 705h1v1h-1zM1315 705h2v1h-2zM1333 705h2v1h-2zM1338 705h3v1h-3zM1344 705h3v1h-3zM1350 705h1v1h-1zM780 706h3v1h-3zM786 706h3v1h-3zM792 706h3v1h-3zM798 706h3v1h-3zM1224 706h1v1h-1zM1314 706h1v1h-1zM1225 707h1v1h-1zM1308 707h3v1h-3zM1226 708h1v1h-1zM1304 708h1v1h-1zM1302 709h2v1h-2zM1296 710h3v1h-3zM1230 711h1v1h-1zM1292 711h1v1h-1zM1231 712h1v1h-1zM1290 712h2v1h-2zM1232 713h1v1h-1zM1285 715h2v1h-2zM1284 716h1v1h-1zM1236 717h1v1h-1zM1237 718h1v1h-1zM1238 719h1v1h-1zM1279 719h2v1h-2zM1278 720h1v1h-1zM1242 721h2v1h-2zM1244 722h1v1h-1zM1273 722h2v1h-2zM1248 723h1v1h-1zM1268 723h1v1h-1zM1272 723h1v1h-1zM1249 724h2v1h-2zM1254 724h1v1h-1zM1266 724h2v1h-2zM1255 725h2v1h-2zM1260 725h3v1h-3z" fill="#ff0000"/>
<rect x="1608" y="598" width="1" height="1" fill="#000"/>
<rect x="1608" y="625" width="1" height="1" fill="#000"/>
<rect x="1608" y="751" width="1" height="1" fill="#000"/>
</g>
<text x="2.5" y="608.6" class="ax" textLength="132.8" lengthAdjust="spacingAndGlyphs">MACD(12,26,9) -669.59 -743.01</text>
<text x="1610.7" y="607.0" class="ax" textLength="28.5" lengthAdjust="spacingAndGlyphs">260.05</text>
<text x="1610.7" y="629.0" class="ax" textLength="18.1" lengthAdjust="spacingAndGlyphs">0.00</text>
<text x="1610.7" y="749.0" class="ax" textLength="36.8" lengthAdjust="spacingAndGlyphs">-1176.56</text>
<g shape-rendering="crispEdges">
<path d="M0 790h3v1h-3zM6 790h3v1h-3zM12 790h3v1h-3zM18 790h3v1h-3zM24 790h3v1h-3zM30 790h3v1h-3zM36 790h3v1h-3zM42 790h3v1h-3zM48 790h3v1h-3zM54 790h3v1h-3zM60 790h3v1h-3zM66 790h3v1h-3zM72 790h3v1h-3zM78 790h3v1h-3zM84 790h3v1h-3zM90 790h3v1h-3zM96 790h3v1h-3zM102 790h3v1h-3zM108 790h3v1h-3zM114 790h3v1h-3zM120 790h3v1h-3zM126 790h3v1h-3zM132 790h3v1h-3zM138 790h3v1h-3zM144 790h3v1h-3zM150 790h3v1h-3zM156 790h3v1h-3zM162 790h3v1h-3zM168 790h3v1h-3zM174 790h3v1h-3zM180 790h3v1h-3zM186 790h3v1h-3zM192 790h3v1h-3zM198 790h3v1h-3zM204 790h3v1h-3zM210 790h3v1h-3zM216 790h3v1h-3zM222 790h3v1h-3zM228 790h3v1h-3zM234 790h3v1h-3zM240 790h3v1h-3zM246 790h3v1h-3zM252 790h3v1h-3zM258 790h3v1h-3zM264 790h3v1h-3zM270 790h3v1h-3zM276 790h3v1h-3zM282 790h3v1h-3zM288 790h3v1h-3zM294 790h3v1h-3zM300 790h3v1h-3zM306 790h3v1h-3zM312 790h3v1h-3zM318 790h3v1h-3zM324 790h3v1h-3zM330 790h3v1h-3zM336 790h3v1h-3zM342 790h3v1h-3zM348 790h3v1h-3zM354 790h3v1h-3zM360 790h3v1h-3zM366 790h3v1h-3zM372 790h3v1h-3zM378 790h3v1h-3zM384 790h3v1h-3zM390 790h3v1h-3zM396 790h3v1h-3zM402 790h3v1h-3zM408 790h3v1h-3zM414 790h3v1h-3zM420 790h3v1h-3zM426 790h3v1h-3zM432 790h3v1h-3zM438 790h3v1h-3zM444 790h3v1h-3zM450 790h3v1h-3zM456 790h3v1h-3zM462 790h3v1h-3zM468 790h3v1h-3zM474 790h3v1h-3zM480 790h3v1h-3zM486 790h3v1h-3zM492 790h3v1h-3zM498 790h3v1h-3zM504 790h3v1h-3zM510 790h3v1h-3zM516 790h3v1h-3zM522 790h3v1h-3zM528 790h3v1h-3zM534 790h3v1h-3zM540 790h3v1h-3zM546 790h3v1h-3zM552 790h3v1h-3zM558 790h3v1h-3zM564 790h3v1h-3zM570 790h3v1h-3zM576 790h3v1h-3zM582 790h3v1h-3zM588 790h3v1h-3zM594 790h3v1h-3zM600 790h3v1h-3zM606 790h3v1h-3zM612 790h3v1h-3zM618 790h3v1h-3zM624 790h3v1h-3zM630 790h3v1h-3zM636 790h3v1h-3zM642 790h3v1h-3zM648 790h3v1h-3zM654 790h3v1h-3zM660 790h3v1h-3zM666 790h3v1h-3zM672 790h3v1h-3zM678 790h3v1h-3zM684 790h3v1h-3zM690 790h3v1h-3zM696 790h3v1h-3zM702 790h3v1h-3zM708 790h3v1h-3zM714 790h3v1h-3zM720 790h3v1h-3zM726 790h3v1h-3zM732 790h3v1h-3zM738 790h3v1h-3zM744 790h3v1h-3zM750 790h3v1h-3zM756 790h3v1h-3zM762 790h3v1h-3zM768 790h3v1h-3zM774 790h3v1h-3zM780 790h3v1h-3zM786 790h3v1h-3zM792 790h3v1h-3zM798 790h3v1h-3zM804 790h3v1h-3zM810 790h3v1h-3zM816 790h3v1h-3zM822 790h3v1h-3zM828 790h3v1h-3zM834 790h3v1h-3zM840 790h3v1h-3zM846 790h3v1h-3zM852 790h3v1h-3zM858 790h3v1h-3zM864 790h3v1h-3zM870 790h3v1h-3zM876 790h3v1h-3zM882 790h3v1h-3zM888 790h3v1h-3zM894 790h3v1h-3zM900 790h3v1h-3zM906 790h3v1h-3zM912 790h3v1h-3zM918 790h3v1h-3zM924 790h3v1h-3zM930 790h3v1h-3zM936 790h3v1h-3zM942 790h3v1h-3zM948 790h3v1h-3zM954 790h3v1h-3zM960 790h3v1h-3zM966 790h3v1h-3zM972 790h3v1h-3zM978 790h3v1h-3zM984 790h3v1h-3zM990 790h3v1h-3zM996 790h3v1h-3zM1002 790h3v1h-3zM1008 790h3v1h-3zM1014 790h3v1h-3zM1020 790h3v1h-3zM1026 790h3v1h-3zM1032 790h3v1h-3zM1038 790h3v1h-3zM1044 790h3v1h-3zM1050 790h3v1h-3zM1056 790h3v1h-3zM1062 790h3v1h-3zM1068 790h3v1h-3zM1074 790h3v1h-3zM1080 790h3v1h-3zM1086 790h3v1h-3zM1092 790h3v1h-3zM1098 790h3v1h-3zM1104 790h3v1h-3zM1110 790h3v1h-3zM1116 790h3v1h-3zM1122 790h3v1h-3zM1128 790h3v1h-3zM1134 790h3v1h-3zM1140 790h3v1h-3zM1146 790h3v1h-3zM1152 790h3v1h-3zM1158 790h3v1h-3zM1164 790h3v1h-3zM1170 790h3v1h-3zM1176 790h3v1h-3zM1182 790h3v1h-3zM1188 790h3v1h-3zM1194 790h3v1h-3zM1200 790h3v1h-3zM1206 790h3v1h-3zM1212 790h3v1h-3zM1218 790h3v1h-3zM1224 790h3v1h-3zM1230 790h3v1h-3zM1236 790h3v1h-3zM1242 790h3v1h-3zM1248 790h3v1h-3zM1254 790h3v1h-3zM1260 790h3v1h-3zM1266 790h3v1h-3zM1272 790h3v1h-3zM1278 790h3v1h-3zM1284 790h3v1h-3zM1290 790h3v1h-3zM1296 790h3v1h-3zM1302 790h3v1h-3zM1308 790h3v1h-3zM1314 790h3v1h-3zM1320 790h3v1h-3zM1326 790h3v1h-3zM1332 790h3v1h-3zM1338 790h3v1h-3zM1344 790h3v1h-3zM1350 790h3v1h-3zM1356 790h3v1h-3zM1362 790h3v1h-3zM1368 790h3v1h-3zM1374 790h3v1h-3zM1380 790h3v1h-3zM1386 790h3v1h-3zM1392 790h3v1h-3zM1398 790h3v1h-3zM1404 790h3v1h-3zM1410 790h3v1h-3zM1416 790h3v1h-3zM1422 790h3v1h-3zM1428 790h3v1h-3zM1434 790h3v1h-3zM1440 790h3v1h-3zM1446 790h3v1h-3zM1452 790h3v1h-3zM1458 790h3v1h-3zM1464 790h3v1h-3zM1470 790h3v1h-3zM1476 790h3v1h-3zM1482 790h3v1h-3zM1488 790h3v1h-3zM1494 790h3v1h-3zM1500 790h3v1h-3zM1506 790h3v1h-3zM1512 790h3v1h-3zM1518 790h3v1h-3zM1524 790h3v1h-3zM1530 790h3v1h-3zM1536 790h3v1h-3zM1542 790h3v1h-3zM1548 790h3v1h-3zM1554 790h3v1h-3zM1560 790h3v1h-3zM1566 790h3v1h-3zM1572 790h3v1h-3zM1578 790h3v1h-3zM1584 790h3v1h-3zM1590 790h3v1h-3zM1596 790h3v1h-3zM1602 790h3v1h-3z" fill="#c0c0c0"/>
<path d="M0 841h3v1h-3zM6 841h3v1h-3zM12 841h3v1h-3zM18 841h3v1h-3zM24 841h3v1h-3zM30 841h3v1h-3zM36 841h3v1h-3zM42 841h3v1h-3zM48 841h3v1h-3zM54 841h3v1h-3zM60 841h3v1h-3zM66 841h3v1h-3zM72 841h3v1h-3zM78 841h3v1h-3zM84 841h3v1h-3zM90 841h3v1h-3zM96 841h3v1h-3zM102 841h3v1h-3zM108 841h3v1h-3zM114 841h3v1h-3zM120 841h3v1h-3zM126 841h3v1h-3zM132 841h3v1h-3zM138 841h3v1h-3zM144 841h3v1h-3zM150 841h3v1h-3zM156 841h3v1h-3zM162 841h3v1h-3zM168 841h3v1h-3zM174 841h3v1h-3zM180 841h3v1h-3zM186 841h3v1h-3zM192 841h3v1h-3zM198 841h3v1h-3zM204 841h3v1h-3zM210 841h3v1h-3zM216 841h3v1h-3zM222 841h3v1h-3zM228 841h3v1h-3zM234 841h3v1h-3zM240 841h3v1h-3zM246 841h3v1h-3zM252 841h3v1h-3zM258 841h3v1h-3zM264 841h3v1h-3zM270 841h3v1h-3zM276 841h3v1h-3zM282 841h3v1h-3zM288 841h3v1h-3zM294 841h3v1h-3zM300 841h3v1h-3zM306 841h3v1h-3zM312 841h3v1h-3zM318 841h3v1h-3zM324 841h3v1h-3zM330 841h3v1h-3zM336 841h3v1h-3zM342 841h3v1h-3zM348 841h3v1h-3zM354 841h3v1h-3zM360 841h3v1h-3zM366 841h3v1h-3zM372 841h3v1h-3zM378 841h3v1h-3zM384 841h3v1h-3zM390 841h3v1h-3zM396 841h3v1h-3zM402 841h3v1h-3zM408 841h3v1h-3zM414 841h3v1h-3zM420 841h3v1h-3zM426 841h3v1h-3zM432 841h3v1h-3zM438 841h3v1h-3zM444 841h3v1h-3zM450 841h3v1h-3zM456 841h3v1h-3zM462 841h3v1h-3zM468 841h3v1h-3zM474 841h3v1h-3zM480 841h3v1h-3zM486 841h3v1h-3zM492 841h3v1h-3zM498 841h3v1h-3zM504 841h3v1h-3zM510 841h3v1h-3zM516 841h3v1h-3zM522 841h3v1h-3zM528 841h3v1h-3zM534 841h3v1h-3zM540 841h3v1h-3zM546 841h3v1h-3zM552 841h3v1h-3zM558 841h3v1h-3zM564 841h3v1h-3zM570 841h3v1h-3zM576 841h3v1h-3zM582 841h3v1h-3zM588 841h3v1h-3zM594 841h3v1h-3zM600 841h3v1h-3zM606 841h3v1h-3zM612 841h3v1h-3zM618 841h3v1h-3zM624 841h3v1h-3zM630 841h3v1h-3zM636 841h3v1h-3zM642 841h3v1h-3zM648 841h3v1h-3zM654 841h3v1h-3zM660 841h3v1h-3zM666 841h3v1h-3zM672 841h3v1h-3zM678 841h3v1h-3zM684 841h3v1h-3zM690 841h3v1h-3zM696 841h3v1h-3zM702 841h3v1h-3zM708 841h3v1h-3zM714 841h3v1h-3zM720 841h3v1h-3zM726 841h3v1h-3zM732 841h3v1h-3zM738 841h3v1h-3zM744 841h3v1h-3zM750 841h3v1h-3zM756 841h3v1h-3zM762 841h3v1h-3zM768 841h3v1h-3zM774 841h3v1h-3zM780 841h3v1h-3zM786 841h3v1h-3zM792 841h3v1h-3zM798 841h3v1h-3zM804 841h3v1h-3zM810 841h3v1h-3zM816 841h3v1h-3zM822 841h3v1h-3zM828 841h3v1h-3zM834 841h3v1h-3zM840 841h3v1h-3zM846 841h3v1h-3zM852 841h3v1h-3zM858 841h3v1h-3zM864 841h3v1h-3zM870 841h3v1h-3zM876 841h3v1h-3zM882 841h3v1h-3zM888 841h3v1h-3zM894 841h3v1h-3zM900 841h3v1h-3zM906 841h3v1h-3zM912 841h3v1h-3zM918 841h3v1h-3zM924 841h3v1h-3zM930 841h3v1h-3zM936 841h3v1h-3zM942 841h3v1h-3zM948 841h3v1h-3zM954 841h3v1h-3zM960 841h3v1h-3zM966 841h3v1h-3zM972 841h3v1h-3zM978 841h3v1h-3zM984 841h3v1h-3zM990 841h3v1h-3zM996 841h3v1h-3zM1002 841h3v1h-3zM1008 841h3v1h-3zM1014 841h3v1h-3zM1020 841h3v1h-3zM1026 841h3v1h-3zM1032 841h3v1h-3zM1038 841h3v1h-3zM1044 841h3v1h-3zM1050 841h3v1h-3zM1056 841h3v1h-3zM1062 841h3v1h-3zM1068 841h3v1h-3zM1074 841h3v1h-3zM1080 841h3v1h-3zM1086 841h3v1h-3zM1092 841h3v1h-3zM1098 841h3v1h-3zM1104 841h3v1h-3zM1110 841h3v1h-3zM1116 841h3v1h-3zM1122 841h3v1h-3zM1128 841h3v1h-3zM1134 841h3v1h-3zM1140 841h3v1h-3zM1146 841h3v1h-3zM1152 841h3v1h-3zM1158 841h3v1h-3zM1164 841h3v1h-3zM1170 841h3v1h-3zM1176 841h3v1h-3zM1182 841h3v1h-3zM1188 841h3v1h-3zM1194 841h3v1h-3zM1200 841h3v1h-3zM1206 841h3v1h-3zM1212 841h3v1h-3zM1218 841h3v1h-3zM1224 841h3v1h-3zM1230 841h3v1h-3zM1236 841h3v1h-3zM1242 841h3v1h-3zM1248 841h3v1h-3zM1254 841h3v1h-3zM1260 841h3v1h-3zM1266 841h3v1h-3zM1272 841h3v1h-3zM1278 841h3v1h-3zM1284 841h3v1h-3zM1290 841h3v1h-3zM1296 841h3v1h-3zM1302 841h3v1h-3zM1308 841h3v1h-3zM1314 841h3v1h-3zM1320 841h3v1h-3zM1326 841h3v1h-3zM1332 841h3v1h-3zM1338 841h3v1h-3zM1344 841h3v1h-3zM1350 841h3v1h-3zM1356 841h3v1h-3zM1362 841h3v1h-3zM1368 841h3v1h-3zM1374 841h3v1h-3zM1380 841h3v1h-3zM1386 841h3v1h-3zM1392 841h3v1h-3zM1398 841h3v1h-3zM1404 841h3v1h-3zM1410 841h3v1h-3zM1416 841h3v1h-3zM1422 841h3v1h-3zM1428 841h3v1h-3zM1434 841h3v1h-3zM1440 841h3v1h-3zM1446 841h3v1h-3zM1452 841h3v1h-3zM1458 841h3v1h-3zM1464 841h3v1h-3zM1470 841h3v1h-3zM1476 841h3v1h-3zM1482 841h3v1h-3zM1488 841h3v1h-3zM1494 841h3v1h-3zM1500 841h3v1h-3zM1506 841h3v1h-3zM1512 841h3v1h-3zM1518 841h3v1h-3zM1524 841h3v1h-3zM1530 841h3v1h-3zM1536 841h3v1h-3zM1542 841h3v1h-3zM1548 841h3v1h-3zM1554 841h3v1h-3zM1560 841h3v1h-3zM1566 841h3v1h-3zM1572 841h3v1h-3zM1578 841h3v1h-3zM1584 841h3v1h-3zM1590 841h3v1h-3zM1596 841h3v1h-3zM1602 841h3v1h-3z" fill="#c0c0c0"/>
<path d="M0 902h3v1h-3zM6 902h3v1h-3zM12 902h3v1h-3zM18 902h3v1h-3zM24 902h3v1h-3zM30 902h3v1h-3zM36 902h3v1h-3zM42 902h3v1h-3zM48 902h3v1h-3zM54 902h3v1h-3zM60 902h3v1h-3zM66 902h3v1h-3zM72 902h3v1h-3zM78 902h3v1h-3zM84 902h3v1h-3zM90 902h3v1h-3zM96 902h3v1h-3zM102 902h3v1h-3zM108 902h3v1h-3zM114 902h3v1h-3zM120 902h3v1h-3zM126 902h3v1h-3zM132 902h3v1h-3zM138 902h3v1h-3zM144 902h3v1h-3zM150 902h3v1h-3zM156 902h3v1h-3zM162 902h3v1h-3zM168 902h3v1h-3zM174 902h3v1h-3zM180 902h3v1h-3zM186 902h3v1h-3zM192 902h3v1h-3zM198 902h3v1h-3zM204 902h3v1h-3zM210 902h3v1h-3zM216 902h3v1h-3zM222 902h3v1h-3zM228 902h3v1h-3zM234 902h3v1h-3zM240 902h3v1h-3zM246 902h3v1h-3zM252 902h3v1h-3zM258 902h3v1h-3zM264 902h3v1h-3zM270 902h3v1h-3zM276 902h3v1h-3zM282 902h3v1h-3zM288 902h3v1h-3zM294 902h3v1h-3zM300 902h3v1h-3zM306 902h3v1h-3zM312 902h3v1h-3zM318 902h3v1h-3zM324 902h3v1h-3zM330 902h3v1h-3zM336 902h3v1h-3zM342 902h3v1h-3zM348 902h3v1h-3zM354 902h3v1h-3zM360 902h3v1h-3zM366 902h3v1h-3zM372 902h3v1h-3zM378 902h3v1h-3zM384 902h3v1h-3zM390 902h3v1h-3zM396 902h3v1h-3zM402 902h3v1h-3zM408 902h3v1h-3zM414 902h3v1h-3zM420 902h3v1h-3zM426 902h3v1h-3zM432 902h3v1h-3zM438 902h3v1h-3zM444 902h3v1h-3zM450 902h3v1h-3zM456 902h3v1h-3zM462 902h3v1h-3zM468 902h3v1h-3zM474 902h3v1h-3zM480 902h3v1h-3zM486 902h3v1h-3zM492 902h3v1h-3zM498 902h3v1h-3zM504 902h3v1h-3zM510 902h3v1h-3zM516 902h3v1h-3zM522 902h3v1h-3zM528 902h3v1h-3zM534 902h3v1h-3zM540 902h3v1h-3zM546 902h3v1h-3zM552 902h3v1h-3zM558 902h3v1h-3zM564 902h3v1h-3zM570 902h3v1h-3zM576 902h3v1h-3zM582 902h3v1h-3zM588 902h3v1h-3zM594 902h3v1h-3zM600 902h3v1h-3zM606 902h3v1h-3zM612 902h3v1h-3zM618 902h3v1h-3zM624 902h3v1h-3zM630 902h3v1h-3zM636 902h3v1h-3zM642 902h3v1h-3zM648 902h3v1h-3zM654 902h3v1h-3zM660 902h3v1h-3zM666 902h3v1h-3zM672 902h3v1h-3zM678 902h3v1h-3zM684 902h3v1h-3zM690 902h3v1h-3zM696 902h3v1h-3zM702 902h3v1h-3zM708 902h3v1h-3zM714 902h3v1h-3zM720 902h3v1h-3zM726 902h3v1h-3zM732 902h3v1h-3zM738 902h3v1h-3zM744 902h3v1h-3zM750 902h3v1h-3zM756 902h3v1h-3zM762 902h3v1h-3zM768 902h3v1h-3zM774 902h3v1h-3zM780 902h3v1h-3zM786 902h3v1h-3zM792 902h3v1h-3zM798 902h3v1h-3zM804 902h3v1h-3zM810 902h3v1h-3zM816 902h3v1h-3zM822 902h3v1h-3zM828 902h3v1h-3zM834 902h3v1h-3zM840 902h3v1h-3zM846 902h3v1h-3zM852 902h3v1h-3zM858 902h3v1h-3zM864 902h3v1h-3zM870 902h3v1h-3zM876 902h3v1h-3zM882 902h3v1h-3zM888 902h3v1h-3zM894 902h3v1h-3zM900 902h3v1h-3zM906 902h3v1h-3zM912 902h3v1h-3zM918 902h3v1h-3zM924 902h3v1h-3zM930 902h3v1h-3zM936 902h3v1h-3zM942 902h3v1h-3zM948 902h3v1h-3zM954 902h3v1h-3zM960 902h3v1h-3zM966 902h3v1h-3zM972 902h3v1h-3zM978 902h3v1h-3zM984 902h3v1h-3zM990 902h3v1h-3zM996 902h3v1h-3zM1002 902h3v1h-3zM1008 902h3v1h-3zM1014 902h3v1h-3zM1020 902h3v1h-3zM1026 902h3v1h-3zM1032 902h3v1h-3zM1038 902h3v1h-3zM1044 902h3v1h-3zM1050 902h3v1h-3zM1056 902h3v1h-3zM1062 902h3v1h-3zM1068 902h3v1h-3zM1074 902h3v1h-3zM1080 902h3v1h-3zM1086 902h3v1h-3zM1092 902h3v1h-3zM1098 902h3v1h-3zM1104 902h3v1h-3zM1110 902h3v1h-3zM1116 902h3v1h-3zM1122 902h3v1h-3zM1128 902h3v1h-3zM1134 902h3v1h-3zM1140 902h3v1h-3zM1146 902h3v1h-3zM1152 902h3v1h-3zM1158 902h3v1h-3zM1164 902h3v1h-3zM1170 902h3v1h-3zM1176 902h3v1h-3zM1182 902h3v1h-3zM1188 902h3v1h-3zM1194 902h3v1h-3zM1200 902h3v1h-3zM1206 902h3v1h-3zM1212 902h3v1h-3zM1218 902h3v1h-3zM1224 902h3v1h-3zM1230 902h3v1h-3zM1236 902h3v1h-3zM1242 902h3v1h-3zM1248 902h3v1h-3zM1254 902h3v1h-3zM1260 902h3v1h-3zM1266 902h3v1h-3zM1272 902h3v1h-3zM1278 902h3v1h-3zM1284 902h3v1h-3zM1290 902h3v1h-3zM1296 902h3v1h-3zM1302 902h3v1h-3zM1308 902h3v1h-3zM1314 902h3v1h-3zM1320 902h3v1h-3zM1326 902h3v1h-3zM1332 902h3v1h-3zM1338 902h3v1h-3zM1344 902h3v1h-3zM1350 902h3v1h-3zM1356 902h3v1h-3zM1362 902h3v1h-3zM1368 902h3v1h-3zM1374 902h3v1h-3zM1380 902h3v1h-3zM1386 902h3v1h-3zM1392 902h3v1h-3zM1398 902h3v1h-3zM1404 902h3v1h-3zM1410 902h3v1h-3zM1416 902h3v1h-3zM1422 902h3v1h-3zM1428 902h3v1h-3zM1434 902h3v1h-3zM1440 902h3v1h-3zM1446 902h3v1h-3zM1452 902h3v1h-3zM1458 902h3v1h-3zM1464 902h3v1h-3zM1470 902h3v1h-3zM1476 902h3v1h-3zM1482 902h3v1h-3zM1488 902h3v1h-3zM1494 902h3v1h-3zM1500 902h3v1h-3zM1506 902h3v1h-3zM1512 902h3v1h-3zM1518 902h3v1h-3zM1524 902h3v1h-3zM1530 902h3v1h-3zM1536 902h3v1h-3zM1542 902h3v1h-3zM1548 902h3v1h-3zM1554 902h3v1h-3zM1560 902h3v1h-3zM1566 902h3v1h-3zM1572 902h3v1h-3zM1578 902h3v1h-3zM1584 902h3v1h-3zM1590 902h3v1h-3zM1596 902h3v1h-3zM1602 902h3v1h-3z" fill="#c0c0c0"/>
<path d="M165 810h2v1h-2zM163 811h2v1h-2zM167 811h1v1h-1zM161 812h2v1h-2zM168 812h1v1h-1zM159 813h2v1h-2zM169 813h1v1h-1zM158 814h1v1h-1zM170 814h2v1h-2zM156 815h2v1h-2zM172 815h1v1h-1zM155 816h1v1h-1zM173 816h1v1h-1zM154 817h1v1h-1zM174 817h9v1h-9zM214 817h1v1h-1zM86 818h3v1h-3zM152 818h2v1h-2zM183 818h1v1h-1zM212 818h2v1h-2zM215 818h1v1h-1zM85 819h1v1h-1zM89 819h4v1h-4zM107 819h4v1h-4zM151 819h1v1h-1zM184 819h1v1h-1zM210 819h2v1h-2zM215 819h1v1h-1zM84 820h1v1h-1zM93 820h14v1h-14zM111 820h1v1h-1zM150 820h1v1h-1zM185 820h1v1h-1zM209 820h1v1h-1zM216 820h1v1h-1zM83 821h1v1h-1zM111 821h1v1h-1zM148 821h2v1h-2zM186 821h2v1h-2zM207 821h2v1h-2zM217 821h1v1h-1zM82 822h1v1h-1zM112 822h1v1h-1zM146 822h2v1h-2zM188 822h1v1h-1zM206 822h1v1h-1zM217 822h1v1h-1zM230 822h11v1h-11zM81 823h1v1h-1zM112 823h1v1h-1zM144 823h2v1h-2zM189 823h1v1h-1zM205 823h1v1h-1zM218 823h1v1h-1zM229 823h1v1h-1zM241 823h2v1h-2zM80 824h1v1h-1zM113 824h1v1h-1zM142 824h2v1h-2zM190 824h1v1h-1zM205 824h1v1h-1zM219 824h1v1h-1zM228 824h1v1h-1zM243 824h3v1h-3zM79 825h1v1h-1zM114 825h1v1h-1zM139 825h3v1h-3zM191 825h1v1h-1zM204 825h1v1h-1zM219 825h1v1h-1zM226 825h2v1h-2zM246 825h2v1h-2zM0 826h1v1h-1zM78 826h1v1h-1zM114 826h1v1h-1zM137 826h2v1h-2zM191 826h1v1h-1zM204 826h1v1h-1zM220 826h1v1h-1zM225 826h1v1h-1zM248 826h1v1h-1zM1 827h1v1h-1zM76 827h2v1h-2zM115 827h1v1h-1zM131 827h6v1h-6zM192 827h1v1h-1zM203 827h1v1h-1zM221 827h1v1h-1zM224 827h1v1h-1zM249 827h1v1h-1zM2 828h1v1h-1zM74 828h2v1h-2zM116 828h1v1h-1zM125 828h6v1h-6zM193 828h1v1h-1zM202 828h1v1h-1zM221 828h1v1h-1zM223 828h1v1h-1zM250 828h1v1h-1zM291 828h6v1h-6zM314 828h5v1h-5zM917 828h2v1h-2zM3 829h1v1h-1zM72 829h2v1h-2zM116 829h1v1h-1zM123 829h2v1h-2zM194 829h1v1h-1zM202 829h1v1h-1zM222 829h1v1h-1zM251 829h2v1h-2zM279 829h12v1h-12zM297 829h4v1h-4zM307 829h7v1h-7zM318 829h1v1h-1zM915 829h2v1h-2zM919 829h2v1h-2zM4 830h1v1h-1zM69 830h3v1h-3zM117 830h1v1h-1zM121 830h2v1h-2zM194 830h1v1h-1zM201 830h1v1h-1zM253 830h1v1h-1zM277 830h2v1h-2zM301 830h6v1h-6zM319 830h1v1h-1zM913 830h2v1h-2zM921 830h2v1h-2zM5 831h1v1h-1zM65 831h4v1h-4zM117 831h1v1h-1zM119 831h2v1h-2zM195 831h1v1h-1zM200 831h1v1h-1zM254 831h1v1h-1zM275 831h2v1h-2zM319 831h1v1h-1zM911 831h2v1h-2zM923 831h2v1h-2zM6 832h1v1h-1zM63 832h2v1h-2zM118 832h1v1h-1zM196 832h1v1h-1zM200 832h1v1h-1zM255 832h1v1h-1zM273 832h2v1h-2zM320 832h1v1h-1zM420 832h3v1h-3zM853 832h2v1h-2zM910 832h1v1h-1zM925 832h2v1h-2zM7 833h1v1h-1zM62 833h1v1h-1zM197 833h1v1h-1zM199 833h1v1h-1zM256 833h1v1h-1zM271 833h2v1h-2zM320 833h1v1h-1zM416 833h4v1h-4zM422 833h1v1h-1zM851 833h2v1h-2zM854 833h1v1h-1zM909 833h1v1h-1zM927 833h8v1h-8zM8 834h1v1h-1zM61 834h1v1h-1zM197 834h1v1h-1zM199 834h1v1h-1zM256 834h1v1h-1zM270 834h1v1h-1zM321 834h1v1h-1zM414 834h2v1h-2zM423 834h1v1h-1zM822 834h3v1h-3zM849 834h2v1h-2zM855 834h1v1h-1zM908 834h1v1h-1zM935 834h1v1h-1zM9 835h1v1h-1zM60 835h1v1h-1zM198 835h1v1h-1zM257 835h1v1h-1zM269 835h1v1h-1zM321 835h1v1h-1zM413 835h1v1h-1zM423 835h1v1h-1zM822 835h1v1h-1zM825 835h24v1h-24zM855 835h1v1h-1zM907 835h1v1h-1zM936 835h2v1h-2zM10 836h1v1h-1zM59 836h1v1h-1zM258 836h1v1h-1zM268 836h1v1h-1zM322 836h1v1h-1zM412 836h1v1h-1zM424 836h1v1h-1zM438 836h1v1h-1zM821 836h1v1h-1zM856 836h1v1h-1zM906 836h1v1h-1zM938 836h1v1h-1zM11 837h2v1h-2zM58 837h1v1h-1zM259 837h1v1h-1zM267 837h1v1h-1zM322 837h1v1h-1zM411 837h1v1h-1zM424 837h1v1h-1zM438 837h2v1h-2zM821 837h1v1h-1zM856 837h1v1h-1zM894 837h2v1h-2zM905 837h1v1h-1zM939 837h1v1h-1zM13 838h1v1h-1zM57 838h1v1h-1zM259 838h1v1h-1zM266 838h1v1h-1zM323 838h1v1h-1zM410 838h1v1h-1zM424 838h1v1h-1zM437 838h1v1h-1zM439 838h1v1h-1zM820 838h1v1h-1zM857 838h1v1h-1zM892 838h2v1h-2zM896 838h2v1h-2zM904 838h1v1h-1zM940 838h2v1h-2zM14 839h1v1h-1zM39 839h4v1h-4zM56 839h1v1h-1zM260 839h1v1h-1zM265 839h1v1h-1zM323 839h1v1h-1zM410 839h1v1h-1zM425 839h1v1h-1zM437 839h1v1h-1zM440 839h1v1h-1zM820 839h1v1h-1zM857 839h1v1h-1zM890 839h2v1h-2zM898 839h3v1h-3zM903 839h1v1h-1zM942 839h1v1h-1zM15 840h8v1h-8zM38 840h1v1h-1zM43 840h13v1h-13zM261 840h1v1h-1zM264 840h1v1h-1zM324 840h1v1h-1zM409 840h1v1h-1zM425 840h1v1h-1zM436 840h1v1h-1zM440 840h1v1h-1zM819 840h1v1h-1zM858 840h1v1h-1zM888 840h2v1h-2zM901 840h2v1h-2zM943 840h2v1h-2zM23 841h1v1h-1zM38 841h1v1h-1zM261 841h1v1h-1zM263 841h1v1h-1zM324 841h1v1h-1zM408 841h1v1h-1zM426 841h1v1h-1zM436 841h1v1h-1zM441 841h1v1h-1zM819 841h1v1h-1zM858 841h1v1h-1zM886 841h2v1h-2zM945 841h4v1h-4zM23 842h1v1h-1zM37 842h1v1h-1zM262 842h1v1h-1zM325 842h1v1h-1zM407 842h1v1h-1zM426 842h1v1h-1zM435 842h1v1h-1zM441 842h1v1h-1zM818 842h1v1h-1zM859 842h1v1h-1zM883 842h3v1h-3zM949 842h2v1h-2zM1254 842h9v1h-9zM24 843h1v1h-1zM36 843h1v1h-1zM325 843h1v1h-1zM405 843h2v1h-2zM426 843h1v1h-1zM435 843h1v1h-1zM442 843h1v1h-1zM818 843h1v1h-1zM859 843h1v1h-1zM880 843h3v1h-3zM951 843h1v1h-1zM1254 843h1v1h-1zM1263 843h1v1h-1zM25 844h1v1h-1zM35 844h1v1h-1zM326 844h1v1h-1zM382 844h5v1h-5zM403 844h2v1h-2zM427 844h1v1h-1zM434 844h1v1h-1zM443 844h1v1h-1zM455 844h1v1h-1zM817 844h1v1h-1zM860 844h1v1h-1zM878 844h2v1h-2zM952 844h1v1h-1zM1253 844h1v1h-1zM1263 844h1v1h-1zM26 845h1v1h-1zM35 845h1v1h-1zM326 845h1v1h-1zM380 845h2v1h-2zM387 845h5v1h-5zM401 845h2v1h-2zM427 845h1v1h-1zM434 845h1v1h-1zM443 845h1v1h-1zM453 845h2v1h-2zM456 845h1v1h-1zM817 845h1v1h-1zM860 845h1v1h-1zM877 845h1v1h-1zM953 845h1v1h-1zM1110 845h1v1h-1zM1253 845h1v1h-1zM1264 845h1v1h-1zM26 846h1v1h-1zM34 846h1v1h-1zM327 846h1v1h-1zM378 846h2v1h-2zM392 846h4v1h-4zM399 846h2v1h-2zM428 846h1v1h-1zM433 846h1v1h-1zM444 846h1v1h-1zM452 846h1v1h-1zM456 846h1v1h-1zM816 846h1v1h-1zM861 846h1v1h-1zM876 846h1v1h-1zM954 846h2v1h-2zM1110 846h2v1h-2zM1253 846h1v1h-1zM1265 846h1v1h-1zM27 847h1v1h-1zM33 847h1v1h-1zM328 847h1v1h-1zM376 847h2v1h-2zM396 847h3v1h-3zM428 847h1v1h-1zM433 847h1v1h-1zM444 847h1v1h-1zM450 847h2v1h-2zM457 847h1v1h-1zM816 847h1v1h-1zM861 847h1v1h-1zM875 847h1v1h-1zM956 847h1v1h-1zM1109 847h1v1h-1zM1112 847h1v1h-1zM1252 847h1v1h-1zM1265 847h1v1h-1zM28 848h1v1h-1zM32 848h1v1h-1zM329 848h1v1h-1zM375 848h1v1h-1zM428 848h1v1h-1zM432 848h1v1h-1zM445 848h1v1h-1zM449 848h1v1h-1zM457 848h1v1h-1zM815 848h1v1h-1zM862 848h1v1h-1zM874 848h1v1h-1zM957 848h1v1h-1zM965 848h2v1h-2zM1109 848h1v1h-1zM1113 848h1v1h-1zM1252 848h1v1h-1zM1266 848h1v1h-1zM29 849h1v1h-1zM32 849h1v1h-1zM330 849h1v1h-1zM374 849h1v1h-1zM429 849h1v1h-1zM432 849h1v1h-1zM445 849h1v1h-1zM447 849h2v1h-2zM458 849h1v1h-1zM814 849h2v1h-2zM862 849h2v1h-2zM873 849h1v1h-1zM958 849h1v1h-1zM961 849h4v1h-4zM967 849h1v1h-1zM1109 849h1v1h-1zM1114 849h2v1h-2zM1251 849h1v1h-1zM1267 849h1v1h-1zM29 850h1v1h-1zM31 850h1v1h-1zM331 850h1v1h-1zM373 850h1v1h-1zM429 850h1v1h-1zM431 850h1v1h-1zM446 850h1v1h-1zM458 850h1v1h-1zM812 850h2v1h-2zM864 850h2v1h-2zM872 850h1v1h-1zM959 850h2v1h-2zM968 850h1v1h-1zM1014 850h1v1h-1zM1108 850h1v1h-1zM1116 850h1v1h-1zM1251 850h1v1h-1zM1267 850h1v1h-1zM30 851h1v1h-1zM332 851h1v1h-1zM372 851h1v1h-1zM430 851h2v1h-2zM459 851h1v1h-1zM810 851h2v1h-2zM866 851h3v1h-3zM871 851h1v1h-1zM969 851h1v1h-1zM1013 851h2v1h-2zM1108 851h1v1h-1zM1117 851h1v1h-1zM1251 851h1v1h-1zM1268 851h1v1h-1zM1342 851h3v1h-3zM333 852h1v1h-1zM371 852h1v1h-1zM430 852h1v1h-1zM459 852h1v1h-1zM808 852h2v1h-2zM869 852h2v1h-2zM970 852h1v1h-1zM1013 852h1v1h-1zM1015 852h1v1h-1zM1095 852h1v1h-1zM1108 852h1v1h-1zM1118 852h4v1h-4zM1250 852h1v1h-1zM1269 852h1v1h-1zM1340 852h2v1h-2zM1345 852h2v1h-2zM334 853h1v1h-1zM371 853h1v1h-1zM460 853h1v1h-1zM807 853h1v1h-1zM970 853h1v1h-1zM1012 853h1v1h-1zM1015 853h1v1h-1zM1094 853h1v1h-1zM1096 853h1v1h-1zM1108 853h1v1h-1zM1122 853h15v1h-15zM1250 853h1v1h-1zM1269 853h1v1h-1zM1338 853h2v1h-2zM1347 853h2v1h-2zM335 854h1v1h-1zM370 854h1v1h-1zM460 854h1v1h-1zM807 854h1v1h-1zM971 854h1v1h-1zM1012 854h1v1h-1zM1016 854h1v1h-1zM1093 854h1v1h-1zM1096 854h1v1h-1zM1107 854h1v1h-1zM1137 854h4v1h-4zM1250 854h1v1h-1zM1270 854h2v1h-2zM1336 854h2v1h-2zM1349 854h2v1h-2zM336 855h1v1h-1zM369 855h1v1h-1zM461 855h1v1h-1zM806 855h1v1h-1zM972 855h1v1h-1zM1011 855h1v1h-1zM1016 855h1v1h-1zM1093 855h1v1h-1zM1097 855h1v1h-1zM1107 855h1v1h-1zM1141 855h2v1h-2zM1249 855h1v1h-1zM1272 855h4v1h-4zM1335 855h1v1h-1zM337 856h1v1h-1zM368 856h1v1h-1zM461 856h1v1h-1zM791 856h1v1h-1zM806 856h1v1h-1zM973 856h1v1h-1zM978 856h5v1h-5zM999 856h1v1h-1zM1011 856h1v1h-1zM1017 856h1v1h-1zM1092 856h1v1h-1zM1097 856h1v1h-1zM1107 856h1v1h-1zM1143 856h2v1h-2zM1249 856h1v1h-1zM1276 856h4v1h-4zM1314 856h5v1h-5zM1334 856h1v1h-1zM338 857h2v1h-2zM367 857h1v1h-1zM462 857h1v1h-1zM790 857h1v1h-1zM792 857h1v1h-1zM805 857h1v1h-1zM974 857h4v1h-4zM983 857h1v1h-1zM998 857h1v1h-1zM1000 857h1v1h-1zM1010 857h1v1h-1zM1017 857h1v1h-1zM1091 857h1v1h-1zM1098 857h1v1h-1zM1106 857h1v1h-1zM1145 857h2v1h-2zM1238 857h1v1h-1zM1249 857h1v1h-1zM1280 857h2v1h-2zM1310 857h4v1h-4zM1319 857h1v1h-1zM1333 857h1v1h-1zM340 858h1v1h-1zM365 858h2v1h-2zM462 858h1v1h-1zM789 858h1v1h-1zM792 858h1v1h-1zM805 858h1v1h-1zM984 858h1v1h-1zM997 858h1v1h-1zM1001 858h1v1h-1zM1010 858h1v1h-1zM1018 858h1v1h-1zM1090 858h1v1h-1zM1098 858h1v1h-1zM1106 858h1v1h-1zM1147 858h2v1h-2zM1236 858h2v1h-2zM1239 858h1v1h-1zM1248 858h1v1h-1zM1282 858h3v1h-3zM1309 858h1v1h-1zM1320 858h1v1h-1zM1332 858h1v1h-1zM341 859h1v1h-1zM363 859h2v1h-2zM463 859h1v1h-1zM788 859h1v1h-1zM793 859h1v1h-1zM804 859h1v1h-1zM985 859h1v1h-1zM996 859h1v1h-1zM1001 859h1v1h-1zM1009 859h1v1h-1zM1018 859h1v1h-1zM1089 859h1v1h-1zM1099 859h1v1h-1zM1106 859h1v1h-1zM1149 859h2v1h-2zM1234 859h2v1h-2zM1240 859h1v1h-1zM1248 859h1v1h-1zM1285 859h2v1h-2zM1308 859h1v1h-1zM1321 859h1v1h-1zM1330 859h2v1h-2zM342 860h2v1h-2zM361 860h2v1h-2zM464 860h1v1h-1zM787 860h1v1h-1zM793 860h1v1h-1zM804 860h1v1h-1zM986 860h1v1h-1zM994 860h2v1h-2zM1002 860h1v1h-1zM1009 860h1v1h-1zM1019 860h1v1h-1zM1089 860h1v1h-1zM1099 860h1v1h-1zM1105 860h1v1h-1zM1151 860h1v1h-1zM1233 860h1v1h-1zM1241 860h1v1h-1zM1247 860h1v1h-1zM1287 860h1v1h-1zM1306 860h2v1h-2zM1322 860h2v1h-2zM1329 860h1v1h-1zM344 861h4v1h-4zM359 861h2v1h-2zM465 861h1v1h-1zM787 861h1v1h-1zM794 861h1v1h-1zM803 861h1v1h-1zM987 861h1v1h-1zM993 861h1v1h-1zM1003 861h1v1h-1zM1008 861h1v1h-1zM1019 861h1v1h-1zM1088 861h1v1h-1zM1100 861h1v1h-1zM1105 861h1v1h-1zM1152 861h1v1h-1zM1231 861h2v1h-2zM1242 861h2v1h-2zM1247 861h1v1h-1zM1287 861h1v1h-1zM1305 861h1v1h-1zM1324 861h1v1h-1zM1328 861h1v1h-1zM348 862h11v1h-11zM466 862h1v1h-1zM478 862h1v1h-1zM495 862h1v1h-1zM786 862h1v1h-1zM794 862h1v1h-1zM803 862h1v1h-1zM988 862h1v1h-1zM992 862h1v1h-1zM1004 862h1v1h-1zM1008 862h1v1h-1zM1020 862h1v1h-1zM1077 862h11v1h-11zM1100 862h1v1h-1zM1105 862h1v1h-1zM1153 862h1v1h-1zM1230 862h1v1h-1zM1244 862h1v1h-1zM1247 862h1v1h-1zM1288 862h1v1h-1zM1304 862h1v1h-1zM1325 862h1v1h-1zM1327 862h1v1h-1zM466 863h1v1h-1zM476 863h2v1h-2zM479 863h2v1h-2zM493 863h2v1h-2zM496 863h1v1h-1zM785 863h1v1h-1zM795 863h1v1h-1zM803 863h1v1h-1zM989 863h1v1h-1zM991 863h1v1h-1zM1004 863h1v1h-1zM1007 863h1v1h-1zM1020 863h1v1h-1zM1075 863h2v1h-2zM1101 863h1v1h-1zM1105 863h1v1h-1zM1154 863h2v1h-2zM1230 863h1v1h-1zM1245 863h2v1h-2zM1289 863h1v1h-1zM1303 863h1v1h-1zM1326 863h1v1h-1zM467 864h1v1h-1zM474 864h2v1h-2zM481 864h1v1h-1zM492 864h1v1h-1zM497 864h1v1h-1zM517 864h2v1h-2zM784 864h1v1h-1zM795 864h1v1h-1zM802 864h1v1h-1zM990 864h1v1h-1zM1005 864h1v1h-1zM1007 864h1v1h-1zM1021 864h1v1h-1zM1073 864h2v1h-2zM1101 864h1v1h-1zM1104 864h1v1h-1zM1156 864h1v1h-1zM1230 864h1v1h-1zM1246 864h1v1h-1zM1289 864h1v1h-1zM1302 864h1v1h-1zM468 865h1v1h-1zM473 865h1v1h-1zM482 865h2v1h-2zM491 865h1v1h-1zM498 865h1v1h-1zM515 865h2v1h-2zM518 865h1v1h-1zM783 865h1v1h-1zM796 865h1v1h-1zM802 865h1v1h-1zM1006 865h1v1h-1zM1021 865h1v1h-1zM1071 865h2v1h-2zM1102 865h1v1h-1zM1104 865h1v1h-1zM1157 865h1v1h-1zM1229 865h1v1h-1zM1290 865h1v1h-1zM1301 865h1v1h-1zM469 866h1v1h-1zM471 866h2v1h-2zM484 866h1v1h-1zM489 866h2v1h-2zM499 866h1v1h-1zM513 866h2v1h-2zM519 866h1v1h-1zM782 866h1v1h-1zM796 866h1v1h-1zM801 866h1v1h-1zM1022 866h1v1h-1zM1070 866h1v1h-1zM1102 866h1v1h-1zM1104 866h1v1h-1zM1158 866h10v1h-10zM1229 866h1v1h-1zM1291 866h1v1h-1zM1300 866h1v1h-1zM470 867h1v1h-1zM485 867h2v1h-2zM488 867h1v1h-1zM500 867h1v1h-1zM511 867h2v1h-2zM519 867h1v1h-1zM782 867h1v1h-1zM797 867h1v1h-1zM801 867h1v1h-1zM1022 867h1v1h-1zM1070 867h1v1h-1zM1103 867h1v1h-1zM1168 867h1v1h-1zM1229 867h1v1h-1zM1291 867h1v1h-1zM1298 867h2v1h-2zM487 868h1v1h-1zM501 868h1v1h-1zM509 868h2v1h-2zM520 868h1v1h-1zM781 868h1v1h-1zM797 868h1v1h-1zM800 868h1v1h-1zM1023 868h1v1h-1zM1069 868h1v1h-1zM1103 868h1v1h-1zM1168 868h1v1h-1zM1229 868h1v1h-1zM1292 868h1v1h-1zM1297 868h1v1h-1zM502 869h1v1h-1zM505 869h4v1h-4zM520 869h1v1h-1zM781 869h1v1h-1zM798 869h1v1h-1zM800 869h1v1h-1zM1023 869h4v1h-4zM1069 869h1v1h-1zM1169 869h1v1h-1zM1228 869h1v1h-1zM1293 869h1v1h-1zM1296 869h1v1h-1zM503 870h2v1h-2zM521 870h1v1h-1zM780 870h1v1h-1zM798 870h2v1h-2zM1027 870h8v1h-8zM1068 870h1v1h-1zM1169 870h1v1h-1zM1228 870h1v1h-1zM1293 870h1v1h-1zM1295 870h1v1h-1zM521 871h1v1h-1zM780 871h1v1h-1zM799 871h1v1h-1zM1035 871h20v1h-20zM1068 871h1v1h-1zM1170 871h1v1h-1zM1228 871h1v1h-1zM1294 871h1v1h-1zM522 872h1v1h-1zM779 872h1v1h-1zM1055 872h1v1h-1zM1067 872h1v1h-1zM1170 872h1v1h-1zM1228 872h1v1h-1zM522 873h1v1h-1zM779 873h1v1h-1zM1055 873h1v1h-1zM1067 873h1v1h-1zM1171 873h1v1h-1zM1227 873h1v1h-1zM523 874h1v1h-1zM779 874h1v1h-1zM1056 874h1v1h-1zM1066 874h1v1h-1zM1172 874h1v1h-1zM1227 874h1v1h-1zM523 875h1v1h-1zM654 875h1v1h-1zM778 875h1v1h-1zM1057 875h1v1h-1zM1066 875h1v1h-1zM1172 875h1v1h-1zM1227 875h1v1h-1zM523 876h1v1h-1zM654 876h2v1h-2zM778 876h1v1h-1zM1058 876h1v1h-1zM1065 876h1v1h-1zM1173 876h1v1h-1zM1182 876h2v1h-2zM1227 876h1v1h-1zM524 877h1v1h-1zM653 877h1v1h-1zM656 877h1v1h-1zM777 877h1v1h-1zM1058 877h1v1h-1zM1065 877h1v1h-1zM1173 877h1v1h-1zM1180 877h2v1h-2zM1184 877h2v1h-2zM1226 877h1v1h-1zM524 878h1v1h-1zM653 878h1v1h-1zM656 878h1v1h-1zM766 878h1v1h-1zM777 878h1v1h-1zM1059 878h1v1h-1zM1064 878h1v1h-1zM1174 878h1v1h-1zM1178 878h2v1h-2zM1186 878h3v1h-3zM1226 878h1v1h-1zM525 879h1v1h-1zM653 879h1v1h-1zM657 879h1v1h-1zM766 879h2v1h-2zM777 879h1v1h-1zM1060 879h1v1h-1zM1064 879h1v1h-1zM1174 879h1v1h-1zM1176 879h2v1h-2zM1189 879h2v1h-2zM1226 879h1v1h-1zM525 880h1v1h-1zM653 880h1v1h-1zM658 880h1v1h-1zM765 880h1v1h-1zM768 880h1v1h-1zM776 880h1v1h-1zM1061 880h1v1h-1zM1063 880h1v1h-1zM1175 880h1v1h-1zM1191 880h1v1h-1zM1226 880h1v1h-1zM526 881h1v1h-1zM652 881h1v1h-1zM659 881h1v1h-1zM765 881h1v1h-1zM769 881h1v1h-1zM776 881h1v1h-1zM1061 881h1v1h-1zM1063 881h1v1h-1zM1192 881h1v1h-1zM1225 881h1v1h-1zM526 882h1v1h-1zM652 882h1v1h-1zM659 882h1v1h-1zM765 882h1v1h-1zM770 882h2v1h-2zM775 882h1v1h-1zM1062 882h1v1h-1zM1193 882h1v1h-1zM1225 882h1v1h-1zM527 883h1v1h-1zM652 883h1v1h-1zM660 883h1v1h-1zM764 883h1v1h-1zM772 883h1v1h-1zM775 883h1v1h-1zM1194 883h1v1h-1zM1225 883h1v1h-1zM527 884h2v1h-2zM651 884h1v1h-1zM661 884h1v1h-1zM687 884h2v1h-2zM764 884h1v1h-1zM773 884h2v1h-2zM1195 884h1v1h-1zM1225 884h1v1h-1zM529 885h4v1h-4zM590 885h1v1h-1zM651 885h1v1h-1zM662 885h1v1h-1zM686 885h1v1h-1zM689 885h4v1h-4zM764 885h1v1h-1zM774 885h1v1h-1zM1196 885h1v1h-1zM1224 885h1v1h-1zM533 886h3v1h-3zM588 886h2v1h-2zM591 886h2v1h-2zM651 886h1v1h-1zM662 886h1v1h-1zM685 886h1v1h-1zM693 886h2v1h-2zM763 886h1v1h-1zM1197 886h1v1h-1zM1224 886h1v1h-1zM536 887h2v1h-2zM586 887h2v1h-2zM593 887h1v1h-1zM650 887h1v1h-1zM663 887h2v1h-2zM684 887h1v1h-1zM695 887h2v1h-2zM763 887h1v1h-1zM1198 887h2v1h-2zM1224 887h1v1h-1zM538 888h3v1h-3zM584 888h2v1h-2zM594 888h2v1h-2zM650 888h1v1h-1zM665 888h4v1h-4zM683 888h1v1h-1zM697 888h2v1h-2zM763 888h1v1h-1zM1200 888h4v1h-4zM1224 888h1v1h-1zM541 889h2v1h-2zM583 889h1v1h-1zM596 889h2v1h-2zM650 889h1v1h-1zM669 889h3v1h-3zM682 889h1v1h-1zM699 889h2v1h-2zM762 889h1v1h-1zM1204 889h4v1h-4zM1223 889h1v1h-1zM543 890h1v1h-1zM582 890h1v1h-1zM598 890h1v1h-1zM650 890h1v1h-1zM672 890h2v1h-2zM681 890h1v1h-1zM701 890h3v1h-3zM762 890h1v1h-1zM1208 890h3v1h-3zM1223 890h1v1h-1zM544 891h1v1h-1zM582 891h1v1h-1zM599 891h1v1h-1zM649 891h1v1h-1zM674 891h2v1h-2zM680 891h1v1h-1zM704 891h2v1h-2zM762 891h1v1h-1zM1211 891h3v1h-3zM1223 891h1v1h-1zM545 892h1v1h-1zM581 892h1v1h-1zM600 892h1v1h-1zM649 892h1v1h-1zM676 892h2v1h-2zM679 892h1v1h-1zM706 892h2v1h-2zM762 892h1v1h-1zM1214 892h3v1h-3zM1223 892h1v1h-1zM546 893h1v1h-1zM580 893h1v1h-1zM601 893h1v1h-1zM649 893h1v1h-1zM678 893h1v1h-1zM708 893h2v1h-2zM761 893h1v1h-1zM1217 893h4v1h-4zM1222 893h1v1h-1zM547 894h1v1h-1zM580 894h1v1h-1zM602 894h1v1h-1zM648 894h1v1h-1zM710 894h2v1h-2zM761 894h1v1h-1zM1221 894h2v1h-2zM548 895h1v1h-1zM579 895h1v1h-1zM603 895h1v1h-1zM648 895h1v1h-1zM712 895h1v1h-1zM761 895h1v1h-1zM549 896h1v1h-1zM578 896h1v1h-1zM604 896h1v1h-1zM648 896h1v1h-1zM713 896h2v1h-2zM760 896h1v1h-1zM550 897h5v1h-5zM578 897h1v1h-1zM605 897h1v1h-1zM647 897h1v1h-1zM715 897h1v1h-1zM760 897h1v1h-1zM555 898h8v1h-8zM577 898h1v1h-1zM606 898h1v1h-1zM647 898h1v1h-1zM716 898h1v1h-1zM760 898h1v1h-1zM563 899h6v1h-6zM576 899h1v1h-1zM607 899h1v1h-1zM622 899h19v1h-19zM647 899h1v1h-1zM717 899h2v1h-2zM759 899h1v1h-1zM569 900h4v1h-4zM576 900h1v1h-1zM608 900h1v1h-1zM621 900h1v1h-1zM641 900h2v1h-2zM647 900h1v1h-1zM719 900h2v1h-2zM759 900h1v1h-1zM573 901h3v1h-3zM609 901h1v1h-1zM620 901h1v1h-1zM643 901h2v1h-2zM646 901h1v1h-1zM721 901h4v1h-4zM759 901h1v1h-1zM610 902h1v1h-1zM619 902h1v1h-1zM645 902h2v1h-2zM725 902h3v1h-3zM758 902h1v1h-1zM610 903h1v1h-1zM618 903h1v1h-1zM728 903h4v1h-4zM757 903h2v1h-2zM611 904h1v1h-1zM617 904h1v1h-1zM732 904h12v1h-12zM754 904h3v1h-3zM612 905h1v1h-1zM616 905h1v1h-1zM744 905h4v1h-4zM752 905h2v1h-2zM613 906h1v1h-1zM615 906h1v1h-1zM748 906h4v1h-4zM614 907h1v1h-1z" fill="#1e90ff"/>
<rect x="1608" y="756" width="1" height="1" fill="#000"/>
<rect x="1608" y="927" width="1" height="1" fill="#000"/>
</g>
<text x="2.5" y="767.3" class="ax" textLength="67.5" lengthAdjust="spacingAndGlyphs">RSI(14) 42.9235</text>
<text x="1610.7" y="764.7" class="ax" textLength="15.2" lengthAdjust="spacingAndGlyphs">100</text>
<text x="1610.7" y="793.6" class="ax" textLength="10.2" lengthAdjust="spacingAndGlyphs">80</text>
<text x="1610.7" y="845.0" class="ax" textLength="10.2" lengthAdjust="spacingAndGlyphs">50</text>
<text x="1610.7" y="906.0" class="ax" textLength="10.2" lengthAdjust="spacingAndGlyphs">15</text>
<text x="1610.7" y="924.7" class="ax" textLength="5.1" lengthAdjust="spacingAndGlyphs">0</text>
<g shape-rendering="crispEdges">
<rect x="62" y="929" width="1" height="3" fill="#000"/>
<rect x="126" y="929" width="1" height="3" fill="#000"/>
<rect x="190" y="929" width="1" height="3" fill="#000"/>
<rect x="254" y="929" width="1" height="3" fill="#000"/>
<rect x="318" y="929" width="1" height="3" fill="#000"/>
<rect x="382" y="929" width="1" height="3" fill="#000"/>
<rect x="446" y="929" width="1" height="3" fill="#000"/>
<rect x="510" y="929" width="1" height="3" fill="#000"/>
<rect x="574" y="929" width="1" height="3" fill="#000"/>
<rect x="638" y="929" width="1" height="3" fill="#000"/>
<rect x="702" y="929" width="1" height="3" fill="#000"/>
<rect x="766" y="929" width="1" height="3" fill="#000"/>
<rect x="830" y="929" width="1" height="3" fill="#000"/>
<rect x="894" y="929" width="1" height="3" fill="#000"/>
<rect x="958" y="929" width="1" height="3" fill="#000"/>
<rect x="1022" y="929" width="1" height="3" fill="#000"/>
<rect x="1086" y="929" width="1" height="3" fill="#000"/>
<rect x="1150" y="929" width="1" height="3" fill="#000"/>
<rect x="1214" y="929" width="1" height="3" fill="#000"/>
<rect x="1278" y="929" width="1" height="3" fill="#000"/>
<rect x="1342" y="929" width="1" height="3" fill="#000"/>
</g>
<text x="-1.2" y="941.0" class="ax" textLength="47.3" lengthAdjust="spacingAndGlyphs">7 Feb 2020</text>
<text x="61.2" y="941.0" class="ax" textLength="55.2" lengthAdjust="spacingAndGlyphs">10 Feb 12:00</text>
<text x="125.2" y="941.0" class="ax" textLength="55.2" lengthAdjust="spacingAndGlyphs">11 Feb 20:00</text>
<text x="189.2" y="941.0" class="ax" textLength="55.2" lengthAdjust="spacingAndGlyphs">13 Feb 04:00</text>
<text x="253.2" y="941.0" class="ax" textLength="55.2" lengthAdjust="spacingAndGlyphs">14 Feb 12:00</text>
<text x="317.2" y="941.0" class="ax" textLength="55.2" lengthAdjust="spacingAndGlyphs">17 Feb 16:00</text>
<text x="381.2" y="941.0" class="ax" textLength="55.2" lengthAdjust="spacingAndGlyphs">19 Feb 00:00</text>
<text x="445.2" y="941.0" class="ax" textLength="55.2" lengthAdjust="spacingAndGlyphs">20 Feb 08:00</text>
<text x="509.2" y="941.0" class="ax" textLength="55.2" lengthAdjust="spacingAndGlyphs">21 Feb 16:00</text>
<text x="573.2" y="941.0" class="ax" textLength="55.2" lengthAdjust="spacingAndGlyphs">24 Feb 20:00</text>
<text x="637.2" y="941.0" class="ax" textLength="55.2" lengthAdjust="spacingAndGlyphs">26 Feb 04:00</text>
<text x="701.2" y="941.0" class="ax" textLength="55.2" lengthAdjust="spacingAndGlyphs">27 Feb 12:00</text>
<text x="765.2" y="941.0" class="ax" textLength="55.2" lengthAdjust="spacingAndGlyphs">28 Feb 20:00</text>
<text x="829.2" y="941.0" class="ax" textLength="49.9" lengthAdjust="spacingAndGlyphs">3 Mar 00:00</text>
<text x="893.2" y="941.0" class="ax" textLength="49.9" lengthAdjust="spacingAndGlyphs">4 Mar 08:00</text>
<text x="957.2" y="941.0" class="ax" textLength="49.9" lengthAdjust="spacingAndGlyphs">5 Mar 16:00</text>
<text x="1021.2" y="941.0" class="ax" textLength="49.9" lengthAdjust="spacingAndGlyphs">8 Mar 23:00</text>
<text x="1085.2" y="941.0" class="ax" textLength="55.1" lengthAdjust="spacingAndGlyphs">10 Mar 04:00</text>
<text x="1149.2" y="941.0" class="ax" textLength="55.1" lengthAdjust="spacingAndGlyphs">11 Mar 12:00</text>
<text x="1213.2" y="941.0" class="ax" textLength="55.1" lengthAdjust="spacingAndGlyphs">12 Mar 20:00</text>
<text x="1277.2" y="941.0" class="ax" textLength="55.1" lengthAdjust="spacingAndGlyphs">16 Mar 08:00</text>
<text x="1341.2" y="941.0" class="ax" textLength="55.1" lengthAdjust="spacingAndGlyphs">17 Mar 16:00</text>
<g id="trade">
<rect x="0" y="44" width="221" height="68" fill="#fff"/>
<path d="M1.5,47.5 H52.5 V71.5 H109.5 V110.5 H1.5 Z" fill="url(#gr)" stroke="#c00808" stroke-width="1"/>
<path d="M219.5,47.5 H168.5 V71.5 H112.5 V110.5 H219.5 Z" fill="url(#gr)" stroke="#c00808" stroke-width="1"/>
<rect x="5" y="70.5" width="44" height="1" fill="#ffa4a4"/><rect x="172.5" y="70.5" width="43.5" height="1" fill="#ffa4a4"/>
<rect x="55.5" y="47.5" width="110" height="21" fill="#fff" stroke="#a6aab6" stroke-width="1"/>
<rect x="56" y="48" width="20" height="20" fill="url(#gbtn)"/><rect x="145" y="48" width="20" height="20" fill="url(#gbtn)"/>
<rect x="76" y="48" width="1" height="20" fill="#a6aab6"/><rect x="144" y="48" width="1" height="20" fill="#a6aab6"/>
<polygon points="62.8,56.2 68.4,56.2 65.6,59.2" fill="#5a68cc"/><polygon points="151.8,59 157.4,59 154.6,56" fill="#5a68cc"/>
<text x="141" y="61.8" font-size="12.6" text-anchor="end" fill="#101010" textLength="23" lengthAdjust="spacingAndGlyphs">1.00</text>
<text x="13" y="62.5" font-size="12" fill="#ffecec" textLength="26" lengthAdjust="spacingAndGlyphs">SELL</text>
<text x="181.5" y="62.5" font-size="12" fill="#ffecec" textLength="23" lengthAdjust="spacingAndGlyphs">BUY</text>
<text x="17.4" y="101.7" font-size="11.2" font-weight="bold" fill="#fff" textLength="34" lengthAdjust="spacingAndGlyphs">21046</text>
<text x="127.4" y="101.7" font-size="11.2" font-weight="bold" fill="#fff" textLength="34" lengthAdjust="spacingAndGlyphs">21060</text>
<rect x="56.3" y="98.2" width="3.6" height="3.5" fill="#fff"/><rect x="167.8" y="98.2" width="3.6" height="3.5" fill="#fff"/>
<text x="62.6" y="101.7" font-size="32.6" fill="#fff" stroke="url(#gr)" stroke-width="0.55" textLength="16" lengthAdjust="spacingAndGlyphs">5</text>
<text x="173.8" y="101.7" font-size="32.6" fill="#fff" stroke="url(#gr)" stroke-width="0.55" textLength="16" lengthAdjust="spacingAndGlyphs">5</text>
</g>
</svg>
</body></html>
